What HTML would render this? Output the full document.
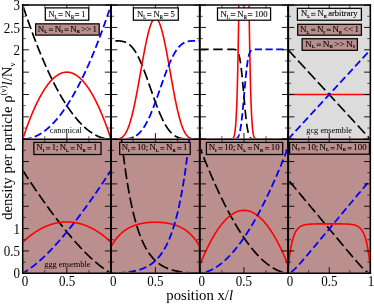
<!DOCTYPE html>
<html><head><meta charset="utf-8"><title>density plot</title><style>html,body{margin:0;padding:0;background:#fff}body{width:374px;height:304px;overflow:hidden}</style></head><body>
<svg width="374" height="304" viewBox="0 0 374 304" style="display:block;will-change:transform;font-family:'Liberation Serif',serif">
<rect width="374" height="304" fill="#fff"/>
<rect x="288.10" y="5.10" width="82.25" height="134.10" fill="#dcdcdc"/>
<rect x="22.70" y="139.20" width="347.65" height="134.10" fill="#bc8f8f"/>
<defs>
<clipPath id="c00"><rect x="23.60" y="5.85" width="86.50" height="132.35"/></clipPath>
<clipPath id="c01"><rect x="111.90" y="5.85" width="87.00" height="132.35"/></clipPath>
<clipPath id="c02"><rect x="200.70" y="5.85" width="86.50" height="132.35"/></clipPath>
<clipPath id="c03"><rect x="289.00" y="5.85" width="80.45" height="132.35"/></clipPath>
<clipPath id="c10"><rect x="23.60" y="139.95" width="86.50" height="132.35"/></clipPath>
<clipPath id="c11"><rect x="111.90" y="139.95" width="87.00" height="132.35"/></clipPath>
<clipPath id="c12"><rect x="200.70" y="139.95" width="86.50" height="132.35"/></clipPath>
<clipPath id="c13"><rect x="289.00" y="139.95" width="80.45" height="132.35"/></clipPath>
</defs>
<g clip-path="url(#c00)" fill="none">
<path d="M22.70 5.10 L22.92 5.77 L23.14 6.44 L23.36 7.10 L23.58 7.77 L23.80 8.43 L24.02 9.09 L24.25 9.75 L24.47 10.41 L24.69 11.07 L24.91 11.72 L25.13 12.37 L25.35 13.03 L25.57 13.67 L25.79 14.32 L26.01 14.97 L26.23 15.61 L26.45 16.26 L26.67 16.90 L26.89 17.54 L27.11 18.17 L27.34 18.81 L27.56 19.45 L27.78 20.08 L28.00 20.71 L28.22 21.34 L28.44 21.97 L28.66 22.59 L28.88 23.22 L29.10 23.84 L29.32 24.46 L29.54 25.08 L29.76 25.70 L29.98 26.31 L30.21 26.93 L30.43 27.54 L30.65 28.15 L30.87 28.76 L31.09 29.37 L31.31 29.97 L31.53 30.58 L31.75 31.18 L31.97 31.78 L32.19 32.38 L32.41 32.98 L32.63 33.58 L32.85 34.17 L33.08 34.76 L33.30 35.35 L33.52 35.94 L33.74 36.53 L33.96 37.12 L34.18 37.70 L34.40 38.28 L34.62 38.86 L34.84 39.44 L35.06 40.02 L35.28 40.60 L35.50 41.17 L35.72 41.74 L35.95 42.31 L36.17 42.88 L36.39 43.45 L36.61 44.01 L36.83 44.58 L37.05 45.14 L37.27 45.70 L37.49 46.26 L37.71 46.82 L37.93 47.37 L38.15 47.93 L38.37 48.48 L38.59 49.03 L38.81 49.58 L39.04 50.13 L39.26 50.67 L39.48 51.22 L39.70 51.76 L39.92 52.30 L40.14 52.84 L40.36 53.38 L40.58 53.91 L40.80 54.45 L41.02 54.98 L41.24 55.51 L41.46 56.04 L41.68 56.56 L41.91 57.09 L42.13 57.61 L42.35 58.14 L42.57 58.66 L42.79 59.17 L43.01 59.69 L43.23 60.21 L43.45 60.72 L43.67 61.23 L43.89 61.74 L44.11 62.25 L44.33 62.76 L44.55 63.27 L44.77 63.77 L45.00 64.27 L45.22 64.77 L45.44 65.27 L45.66 65.77 L45.88 66.26 L46.10 66.76 L46.32 67.25 L46.54 67.74 L46.76 68.23 L46.98 68.71 L47.20 69.20 L47.42 69.68 L47.64 70.16 L47.87 70.64 L48.09 71.12 L48.31 71.60 L48.53 72.08 L48.75 72.55 L48.97 73.02 L49.19 73.49 L49.41 73.96 L49.63 74.43 L49.85 74.89 L50.07 75.35 L50.29 75.82 L50.51 76.28 L50.74 76.74 L50.96 77.19 L51.18 77.65 L51.40 78.10 L51.62 78.55 L51.84 79.00 L52.06 79.45 L52.28 79.90 L52.50 80.34 L52.72 80.79 L52.94 81.23 L53.16 81.67 L53.38 82.11 L53.61 82.54 L53.83 82.98 L54.05 83.41 L54.27 83.84 L54.49 84.27 L54.71 84.70 L54.93 85.13 L55.15 85.55 L55.37 85.98 L55.59 86.40 L55.81 86.82 L56.03 87.24 L56.25 87.65 L56.47 88.07 L56.70 88.48 L56.92 88.89 L57.14 89.30 L57.36 89.71 L57.58 90.12 L57.80 90.52 L58.02 90.92 L58.24 91.33 L58.46 91.73 L58.68 92.12 L58.90 92.52 L59.12 92.91 L59.34 93.31 L59.57 93.70 L59.79 94.09 L60.01 94.48 L60.23 94.86 L60.45 95.25 L60.67 95.63 L60.89 96.01 L61.11 96.39 L61.33 96.77 L61.55 97.15 L61.77 97.52 L61.99 97.89 L62.21 98.27 L62.44 98.63 L62.66 99.00 L62.88 99.37 L63.10 99.73 L63.32 100.10 L63.54 100.46 L63.76 100.82 L63.98 101.18 L64.20 101.53 L64.42 101.89 L64.64 102.24 L64.86 102.59 L65.08 102.94 L65.30 103.29 L65.53 103.63 L65.75 103.98 L65.97 104.32 L66.19 104.66 L66.41 105.00 L66.63 105.34 L66.85 105.67 L67.07 106.01 L67.29 106.34 L67.51 106.67 L67.73 107.00 L67.95 107.33 L68.17 107.66 L68.40 107.98 L68.62 108.30 L68.84 108.62 L69.06 108.94 L69.28 109.26 L69.50 109.58 L69.72 109.89 L69.94 110.20 L70.16 110.52 L70.38 110.82 L70.60 111.13 L70.82 111.44 L71.04 111.74 L71.27 112.04 L71.49 112.35 L71.71 112.64 L71.93 112.94 L72.15 113.24 L72.37 113.53 L72.59 113.82 L72.81 114.12 L73.03 114.40 L73.25 114.69 L73.47 114.98 L73.69 115.26 L73.91 115.54 L74.13 115.83 L74.36 116.10 L74.58 116.38 L74.80 116.66 L75.02 116.93 L75.24 117.20 L75.46 117.47 L75.68 117.74 L75.90 118.01 L76.12 118.28 L76.34 118.54 L76.56 118.80 L76.78 119.06 L77.00 119.32 L77.23 119.58 L77.45 119.84 L77.67 120.09 L77.89 120.34 L78.11 120.59 L78.33 120.84 L78.55 121.09 L78.77 121.33 L78.99 121.58 L79.21 121.82 L79.43 122.06 L79.65 122.30 L79.87 122.54 L80.09 122.77 L80.32 123.01 L80.54 123.24 L80.76 123.47 L80.98 123.70 L81.20 123.93 L81.42 124.15 L81.64 124.37 L81.86 124.60 L82.08 124.82 L82.30 125.04 L82.52 125.25 L82.74 125.47 L82.96 125.68 L83.19 125.89 L83.41 126.10 L83.63 126.31 L83.85 126.52 L84.07 126.73 L84.29 126.93 L84.51 127.13 L84.73 127.33 L84.95 127.53 L85.17 127.73 L85.39 127.92 L85.61 128.12 L85.83 128.31 L86.06 128.50 L86.28 128.69 L86.50 128.87 L86.72 129.06 L86.94 129.24 L87.16 129.42 L87.38 129.60 L87.60 129.78 L87.82 129.96 L88.04 130.13 L88.26 130.31 L88.48 130.48 L88.70 130.65 L88.92 130.82 L89.15 130.99 L89.37 131.15 L89.59 131.31 L89.81 131.48 L90.03 131.64 L90.25 131.79 L90.47 131.95 L90.69 132.11 L90.91 132.26 L91.13 132.41 L91.35 132.56 L91.57 132.71 L91.79 132.86 L92.02 133.00 L92.24 133.14 L92.46 133.29 L92.68 133.43 L92.90 133.56 L93.12 133.70 L93.34 133.84 L93.56 133.97 L93.78 134.10 L94.00 134.23 L94.22 134.36 L94.44 134.49 L94.66 134.61 L94.89 134.73 L95.11 134.86 L95.33 134.98 L95.55 135.09 L95.77 135.21 L95.99 135.32 L96.21 135.44 L96.43 135.55 L96.65 135.66 L96.87 135.77 L97.09 135.87 L97.31 135.98 L97.53 136.08 L97.75 136.18 L97.98 136.28 L98.20 136.38 L98.42 136.48 L98.64 136.57 L98.86 136.66 L99.08 136.76 L99.30 136.85 L99.52 136.93 L99.74 137.02 L99.96 137.10 L100.18 137.19 L100.40 137.27 L100.62 137.35 L100.85 137.43 L101.07 137.50 L101.29 137.58 L101.51 137.65 L101.73 137.72 L101.95 137.79 L102.17 137.86 L102.39 137.93 L102.61 137.99 L102.83 138.05 L103.05 138.11 L103.27 138.17 L103.49 138.23 L103.72 138.29 L103.94 138.34 L104.16 138.39 L104.38 138.45 L104.60 138.50 L104.82 138.54 L105.04 138.59 L105.26 138.63 L105.48 138.68 L105.70 138.72 L105.92 138.76 L106.14 138.79 L106.36 138.83 L106.59 138.86 L106.81 138.90 L107.03 138.93 L107.25 138.96 L107.47 138.99 L107.69 139.01 L107.91 139.04 L108.13 139.06 L108.35 139.08 L108.57 139.10 L108.79 139.12 L109.01 139.13 L109.23 139.15 L109.45 139.16 L109.68 139.17 L109.90 139.18 L110.12 139.19 L110.34 139.19 L110.56 139.20 L110.78 139.20 L111.00 139.20" stroke="#000" stroke-width="1.70" stroke-dasharray="10 3.6" stroke-dashoffset="11.86"/>
<path d="M22.70 139.20 L22.92 138.53 L23.14 137.87 L23.36 137.20 L23.58 136.54 L23.80 135.89 L24.02 135.24 L24.25 134.59 L24.47 133.94 L24.69 133.30 L24.91 132.66 L25.13 132.03 L25.35 131.40 L25.57 130.77 L25.79 130.14 L26.01 129.52 L26.23 128.90 L26.45 128.29 L26.67 127.67 L26.89 127.07 L27.11 126.46 L27.34 125.86 L27.56 125.26 L27.78 124.67 L28.00 124.07 L28.22 123.49 L28.44 122.90 L28.66 122.32 L28.88 121.74 L29.10 121.17 L29.32 120.59 L29.54 120.03 L29.76 119.46 L29.98 118.90 L30.21 118.34 L30.43 117.79 L30.65 117.23 L30.87 116.69 L31.09 116.14 L31.31 115.60 L31.53 115.06 L31.75 114.53 L31.97 114.00 L32.19 113.47 L32.41 112.94 L32.63 112.42 L32.85 111.90 L33.08 111.39 L33.30 110.88 L33.52 110.37 L33.74 109.87 L33.96 109.36 L34.18 108.87 L34.40 108.37 L34.62 107.88 L34.84 107.39 L35.06 106.91 L35.28 106.43 L35.50 105.95 L35.72 105.48 L35.95 105.00 L36.17 104.54 L36.39 104.07 L36.61 103.61 L36.83 103.15 L37.05 102.70 L37.27 102.25 L37.49 101.80 L37.71 101.36 L37.93 100.92 L38.15 100.48 L38.37 100.04 L38.59 99.61 L38.81 99.19 L39.04 98.76 L39.26 98.34 L39.48 97.92 L39.70 97.51 L39.92 97.10 L40.14 96.69 L40.36 96.29 L40.58 95.89 L40.80 95.49 L41.02 95.10 L41.24 94.71 L41.46 94.32 L41.68 93.93 L41.91 93.55 L42.13 93.18 L42.35 92.80 L42.57 92.43 L42.79 92.07 L43.01 91.70 L43.23 91.34 L43.45 90.98 L43.67 90.63 L43.89 90.28 L44.11 89.93 L44.33 89.59 L44.55 89.25 L44.77 88.91 L45.00 88.58 L45.22 88.25 L45.44 87.92 L45.66 87.60 L45.88 87.28 L46.10 86.96 L46.32 86.65 L46.54 86.34 L46.76 86.03 L46.98 85.73 L47.20 85.43 L47.42 85.13 L47.64 84.84 L47.87 84.55 L48.09 84.26 L48.31 83.98 L48.53 83.70 L48.75 83.42 L48.97 83.15 L49.19 82.88 L49.41 82.61 L49.63 82.35 L49.85 82.09 L50.07 81.83 L50.29 81.58 L50.51 81.33 L50.74 81.08 L50.96 80.84 L51.18 80.60 L51.40 80.36 L51.62 80.13 L51.84 79.90 L52.06 79.67 L52.28 79.45 L52.50 79.23 L52.72 79.02 L52.94 78.80 L53.16 78.59 L53.38 78.39 L53.61 78.18 L53.83 77.99 L54.05 77.79 L54.27 77.60 L54.49 77.41 L54.71 77.22 L54.93 77.04 L55.15 76.86 L55.37 76.68 L55.59 76.51 L55.81 76.34 L56.03 76.17 L56.25 76.01 L56.47 75.85 L56.70 75.70 L56.92 75.54 L57.14 75.40 L57.36 75.25 L57.58 75.11 L57.80 74.97 L58.02 74.83 L58.24 74.70 L58.46 74.57 L58.68 74.44 L58.90 74.32 L59.12 74.20 L59.34 74.09 L59.57 73.98 L59.79 73.87 L60.01 73.76 L60.23 73.66 L60.45 73.56 L60.67 73.46 L60.89 73.37 L61.11 73.28 L61.33 73.20 L61.55 73.12 L61.77 73.04 L61.99 72.96 L62.21 72.89 L62.44 72.82 L62.66 72.76 L62.88 72.69 L63.10 72.63 L63.32 72.58 L63.54 72.53 L63.76 72.48 L63.98 72.43 L64.20 72.39 L64.42 72.35 L64.64 72.32 L64.86 72.29 L65.08 72.26 L65.30 72.23 L65.53 72.21 L65.75 72.19 L65.97 72.18 L66.19 72.17 L66.41 72.16 L66.63 72.15 L66.85 72.15 L67.07 72.15 L67.29 72.16 L67.51 72.17 L67.73 72.18 L67.95 72.19 L68.17 72.21 L68.40 72.23 L68.62 72.26 L68.84 72.29 L69.06 72.32 L69.28 72.35 L69.50 72.39 L69.72 72.43 L69.94 72.48 L70.16 72.53 L70.38 72.58 L70.60 72.63 L70.82 72.69 L71.04 72.76 L71.27 72.82 L71.49 72.89 L71.71 72.96 L71.93 73.04 L72.15 73.12 L72.37 73.20 L72.59 73.28 L72.81 73.37 L73.03 73.46 L73.25 73.56 L73.47 73.66 L73.69 73.76 L73.91 73.87 L74.13 73.98 L74.36 74.09 L74.58 74.20 L74.80 74.32 L75.02 74.44 L75.24 74.57 L75.46 74.70 L75.68 74.83 L75.90 74.97 L76.12 75.11 L76.34 75.25 L76.56 75.40 L76.78 75.54 L77.00 75.70 L77.23 75.85 L77.45 76.01 L77.67 76.17 L77.89 76.34 L78.11 76.51 L78.33 76.68 L78.55 76.86 L78.77 77.04 L78.99 77.22 L79.21 77.41 L79.43 77.60 L79.65 77.79 L79.87 77.99 L80.09 78.18 L80.32 78.39 L80.54 78.59 L80.76 78.80 L80.98 79.02 L81.20 79.23 L81.42 79.45 L81.64 79.67 L81.86 79.90 L82.08 80.13 L82.30 80.36 L82.52 80.60 L82.74 80.84 L82.96 81.08 L83.19 81.33 L83.41 81.58 L83.63 81.83 L83.85 82.09 L84.07 82.35 L84.29 82.61 L84.51 82.88 L84.73 83.15 L84.95 83.42 L85.17 83.70 L85.39 83.98 L85.61 84.26 L85.83 84.55 L86.06 84.84 L86.28 85.13 L86.50 85.43 L86.72 85.73 L86.94 86.03 L87.16 86.34 L87.38 86.65 L87.60 86.96 L87.82 87.28 L88.04 87.60 L88.26 87.92 L88.48 88.25 L88.70 88.58 L88.92 88.91 L89.15 89.25 L89.37 89.59 L89.59 89.93 L89.81 90.28 L90.03 90.63 L90.25 90.98 L90.47 91.34 L90.69 91.70 L90.91 92.07 L91.13 92.43 L91.35 92.80 L91.57 93.18 L91.79 93.55 L92.02 93.93 L92.24 94.32 L92.46 94.71 L92.68 95.10 L92.90 95.49 L93.12 95.89 L93.34 96.29 L93.56 96.69 L93.78 97.10 L94.00 97.51 L94.22 97.92 L94.44 98.34 L94.66 98.76 L94.89 99.19 L95.11 99.61 L95.33 100.04 L95.55 100.48 L95.77 100.92 L95.99 101.36 L96.21 101.80 L96.43 102.25 L96.65 102.70 L96.87 103.15 L97.09 103.61 L97.31 104.07 L97.53 104.54 L97.75 105.00 L97.98 105.48 L98.20 105.95 L98.42 106.43 L98.64 106.91 L98.86 107.39 L99.08 107.88 L99.30 108.37 L99.52 108.87 L99.74 109.36 L99.96 109.87 L100.18 110.37 L100.40 110.88 L100.62 111.39 L100.85 111.90 L101.07 112.42 L101.29 112.94 L101.51 113.47 L101.73 114.00 L101.95 114.53 L102.17 115.06 L102.39 115.60 L102.61 116.14 L102.83 116.69 L103.05 117.23 L103.27 117.79 L103.49 118.34 L103.72 118.90 L103.94 119.46 L104.16 120.03 L104.38 120.59 L104.60 121.17 L104.82 121.74 L105.04 122.32 L105.26 122.90 L105.48 123.49 L105.70 124.07 L105.92 124.67 L106.14 125.26 L106.36 125.86 L106.59 126.46 L106.81 127.07 L107.03 127.67 L107.25 128.29 L107.47 128.90 L107.69 129.52 L107.91 130.14 L108.13 130.77 L108.35 131.40 L108.57 132.03 L108.79 132.66 L109.01 133.30 L109.23 133.94 L109.45 134.59 L109.68 135.24 L109.90 135.89 L110.12 136.54 L110.34 137.20 L110.56 137.87 L110.78 138.53 L111.00 139.20" stroke="#ff0000" stroke-width="1.60"/>
<path d="M22.70 139.20 L22.92 139.20 L23.14 139.20 L23.36 139.19 L23.58 139.19 L23.80 139.18 L24.02 139.17 L24.25 139.16 L24.47 139.15 L24.69 139.13 L24.91 139.12 L25.13 139.10 L25.35 139.08 L25.57 139.06 L25.79 139.04 L26.01 139.01 L26.23 138.99 L26.45 138.96 L26.67 138.93 L26.89 138.90 L27.11 138.86 L27.34 138.83 L27.56 138.79 L27.78 138.76 L28.00 138.72 L28.22 138.68 L28.44 138.63 L28.66 138.59 L28.88 138.54 L29.10 138.50 L29.32 138.45 L29.54 138.39 L29.76 138.34 L29.98 138.29 L30.21 138.23 L30.43 138.17 L30.65 138.11 L30.87 138.05 L31.09 137.99 L31.31 137.93 L31.53 137.86 L31.75 137.79 L31.97 137.72 L32.19 137.65 L32.41 137.58 L32.63 137.50 L32.85 137.43 L33.08 137.35 L33.30 137.27 L33.52 137.19 L33.74 137.10 L33.96 137.02 L34.18 136.93 L34.40 136.85 L34.62 136.76 L34.84 136.66 L35.06 136.57 L35.28 136.48 L35.50 136.38 L35.72 136.28 L35.95 136.18 L36.17 136.08 L36.39 135.98 L36.61 135.87 L36.83 135.77 L37.05 135.66 L37.27 135.55 L37.49 135.44 L37.71 135.32 L37.93 135.21 L38.15 135.09 L38.37 134.98 L38.59 134.86 L38.81 134.73 L39.04 134.61 L39.26 134.49 L39.48 134.36 L39.70 134.23 L39.92 134.10 L40.14 133.97 L40.36 133.84 L40.58 133.70 L40.80 133.56 L41.02 133.43 L41.24 133.29 L41.46 133.14 L41.68 133.00 L41.91 132.86 L42.13 132.71 L42.35 132.56 L42.57 132.41 L42.79 132.26 L43.01 132.11 L43.23 131.95 L43.45 131.79 L43.67 131.64 L43.89 131.48 L44.11 131.31 L44.33 131.15 L44.55 130.99 L44.77 130.82 L45.00 130.65 L45.22 130.48 L45.44 130.31 L45.66 130.13 L45.88 129.96 L46.10 129.78 L46.32 129.60 L46.54 129.42 L46.76 129.24 L46.98 129.06 L47.20 128.87 L47.42 128.69 L47.64 128.50 L47.87 128.31 L48.09 128.12 L48.31 127.92 L48.53 127.73 L48.75 127.53 L48.97 127.33 L49.19 127.13 L49.41 126.93 L49.63 126.73 L49.85 126.52 L50.07 126.31 L50.29 126.10 L50.51 125.89 L50.74 125.68 L50.96 125.47 L51.18 125.25 L51.40 125.04 L51.62 124.82 L51.84 124.60 L52.06 124.37 L52.28 124.15 L52.50 123.93 L52.72 123.70 L52.94 123.47 L53.16 123.24 L53.38 123.01 L53.61 122.77 L53.83 122.54 L54.05 122.30 L54.27 122.06 L54.49 121.82 L54.71 121.58 L54.93 121.33 L55.15 121.09 L55.37 120.84 L55.59 120.59 L55.81 120.34 L56.03 120.09 L56.25 119.84 L56.47 119.58 L56.70 119.32 L56.92 119.06 L57.14 118.80 L57.36 118.54 L57.58 118.28 L57.80 118.01 L58.02 117.74 L58.24 117.47 L58.46 117.20 L58.68 116.93 L58.90 116.66 L59.12 116.38 L59.34 116.10 L59.57 115.83 L59.79 115.54 L60.01 115.26 L60.23 114.98 L60.45 114.69 L60.67 114.40 L60.89 114.12 L61.11 113.82 L61.33 113.53 L61.55 113.24 L61.77 112.94 L61.99 112.64 L62.21 112.35 L62.44 112.04 L62.66 111.74 L62.88 111.44 L63.10 111.13 L63.32 110.82 L63.54 110.52 L63.76 110.20 L63.98 109.89 L64.20 109.58 L64.42 109.26 L64.64 108.94 L64.86 108.62 L65.08 108.30 L65.30 107.98 L65.53 107.66 L65.75 107.33 L65.97 107.00 L66.19 106.67 L66.41 106.34 L66.63 106.01 L66.85 105.67 L67.07 105.34 L67.29 105.00 L67.51 104.66 L67.73 104.32 L67.95 103.98 L68.17 103.63 L68.40 103.29 L68.62 102.94 L68.84 102.59 L69.06 102.24 L69.28 101.89 L69.50 101.53 L69.72 101.18 L69.94 100.82 L70.16 100.46 L70.38 100.10 L70.60 99.73 L70.82 99.37 L71.04 99.00 L71.27 98.63 L71.49 98.27 L71.71 97.89 L71.93 97.52 L72.15 97.15 L72.37 96.77 L72.59 96.39 L72.81 96.01 L73.03 95.63 L73.25 95.25 L73.47 94.86 L73.69 94.48 L73.91 94.09 L74.13 93.70 L74.36 93.31 L74.58 92.91 L74.80 92.52 L75.02 92.12 L75.24 91.73 L75.46 91.33 L75.68 90.92 L75.90 90.52 L76.12 90.12 L76.34 89.71 L76.56 89.30 L76.78 88.89 L77.00 88.48 L77.23 88.07 L77.45 87.65 L77.67 87.24 L77.89 86.82 L78.11 86.40 L78.33 85.98 L78.55 85.55 L78.77 85.13 L78.99 84.70 L79.21 84.27 L79.43 83.84 L79.65 83.41 L79.87 82.98 L80.09 82.54 L80.32 82.11 L80.54 81.67 L80.76 81.23 L80.98 80.79 L81.20 80.34 L81.42 79.90 L81.64 79.45 L81.86 79.00 L82.08 78.55 L82.30 78.10 L82.52 77.65 L82.74 77.19 L82.96 76.74 L83.19 76.28 L83.41 75.82 L83.63 75.35 L83.85 74.89 L84.07 74.43 L84.29 73.96 L84.51 73.49 L84.73 73.02 L84.95 72.55 L85.17 72.08 L85.39 71.60 L85.61 71.12 L85.83 70.64 L86.06 70.16 L86.28 69.68 L86.50 69.20 L86.72 68.71 L86.94 68.23 L87.16 67.74 L87.38 67.25 L87.60 66.76 L87.82 66.26 L88.04 65.77 L88.26 65.27 L88.48 64.77 L88.70 64.27 L88.92 63.77 L89.15 63.27 L89.37 62.76 L89.59 62.25 L89.81 61.74 L90.03 61.23 L90.25 60.72 L90.47 60.21 L90.69 59.69 L90.91 59.17 L91.13 58.66 L91.35 58.14 L91.57 57.61 L91.79 57.09 L92.02 56.56 L92.24 56.04 L92.46 55.51 L92.68 54.98 L92.90 54.45 L93.12 53.91 L93.34 53.38 L93.56 52.84 L93.78 52.30 L94.00 51.76 L94.22 51.22 L94.44 50.67 L94.66 50.13 L94.89 49.58 L95.11 49.03 L95.33 48.48 L95.55 47.93 L95.77 47.37 L95.99 46.82 L96.21 46.26 L96.43 45.70 L96.65 45.14 L96.87 44.58 L97.09 44.01 L97.31 43.45 L97.53 42.88 L97.75 42.31 L97.98 41.74 L98.20 41.17 L98.42 40.60 L98.64 40.02 L98.86 39.44 L99.08 38.86 L99.30 38.28 L99.52 37.70 L99.74 37.12 L99.96 36.53 L100.18 35.94 L100.40 35.35 L100.62 34.76 L100.85 34.17 L101.07 33.58 L101.29 32.98 L101.51 32.38 L101.73 31.78 L101.95 31.18 L102.17 30.58 L102.39 29.97 L102.61 29.37 L102.83 28.76 L103.05 28.15 L103.27 27.54 L103.49 26.93 L103.72 26.31 L103.94 25.70 L104.16 25.08 L104.38 24.46 L104.60 23.84 L104.82 23.22 L105.04 22.59 L105.26 21.97 L105.48 21.34 L105.70 20.71 L105.92 20.08 L106.14 19.45 L106.36 18.81 L106.59 18.17 L106.81 17.54 L107.03 16.90 L107.25 16.26 L107.47 15.61 L107.69 14.97 L107.91 14.32 L108.13 13.67 L108.35 13.03 L108.57 12.37 L108.79 11.72 L109.01 11.07 L109.23 10.41 L109.45 9.75 L109.68 9.09 L109.90 8.43 L110.12 7.77 L110.34 7.10 L110.56 6.44 L110.78 5.77 L111.00 5.10" stroke="#0000ff" stroke-width="1.80" stroke-dasharray="7.5 3.5" stroke-dashoffset="9.56"/>
</g>
<g clip-path="url(#c01)" fill="none">
<path d="M111.00 40.86 L111.22 40.86 L111.44 40.86 L111.67 40.86 L111.89 40.86 L112.11 40.86 L112.33 40.86 L112.55 40.86 L112.78 40.86 L113.00 40.86 L113.22 40.86 L113.44 40.86 L113.66 40.86 L113.89 40.86 L114.11 40.86 L114.33 40.86 L114.55 40.86 L114.77 40.86 L115.00 40.86 L115.22 40.86 L115.44 40.87 L115.66 40.87 L115.88 40.87 L116.11 40.87 L116.33 40.87 L116.55 40.88 L116.77 40.88 L116.99 40.89 L117.22 40.89 L117.44 40.90 L117.66 40.90 L117.88 40.91 L118.10 40.92 L118.33 40.93 L118.55 40.94 L118.77 40.95 L118.99 40.96 L119.21 40.97 L119.44 40.99 L119.66 41.00 L119.88 41.02 L120.10 41.04 L120.32 41.06 L120.55 41.08 L120.77 41.11 L120.99 41.13 L121.21 41.16 L121.43 41.19 L121.66 41.23 L121.88 41.26 L122.10 41.30 L122.32 41.34 L122.54 41.38 L122.77 41.43 L122.99 41.47 L123.21 41.53 L123.43 41.58 L123.65 41.64 L123.88 41.70 L124.10 41.76 L124.32 41.83 L124.54 41.90 L124.76 41.98 L124.99 42.06 L125.21 42.14 L125.43 42.23 L125.65 42.32 L125.87 42.41 L126.10 42.51 L126.32 42.62 L126.54 42.73 L126.76 42.84 L126.98 42.96 L127.21 43.08 L127.43 43.21 L127.65 43.34 L127.87 43.48 L128.09 43.62 L128.32 43.77 L128.54 43.93 L128.76 44.08 L128.98 44.25 L129.20 44.42 L129.43 44.60 L129.65 44.78 L129.87 44.97 L130.09 45.16 L130.31 45.36 L130.54 45.57 L130.76 45.78 L130.98 46.00 L131.20 46.23 L131.42 46.46 L131.65 46.70 L131.87 46.94 L132.09 47.19 L132.31 47.45 L132.53 47.71 L132.76 47.98 L132.98 48.26 L133.20 48.54 L133.42 48.83 L133.64 49.13 L133.87 49.43 L134.09 49.75 L134.31 50.06 L134.53 50.39 L134.75 50.72 L134.98 51.06 L135.20 51.40 L135.42 51.75 L135.64 52.11 L135.86 52.48 L136.09 52.85 L136.31 53.23 L136.53 53.61 L136.75 54.00 L136.97 54.40 L137.20 54.81 L137.42 55.22 L137.64 55.64 L137.86 56.06 L138.08 56.49 L138.31 56.93 L138.53 57.38 L138.75 57.83 L138.97 58.28 L139.19 58.75 L139.42 59.22 L139.64 59.69 L139.86 60.17 L140.08 60.66 L140.30 61.15 L140.53 61.65 L140.75 62.16 L140.97 62.67 L141.19 63.18 L141.41 63.70 L141.64 64.23 L141.86 64.76 L142.08 65.30 L142.30 65.84 L142.52 66.39 L142.75 66.94 L142.97 67.49 L143.19 68.06 L143.41 68.62 L143.63 69.19 L143.86 69.76 L144.08 70.34 L144.30 70.93 L144.52 71.51 L144.74 72.10 L144.97 72.69 L145.19 73.29 L145.41 73.89 L145.63 74.50 L145.85 75.10 L146.08 75.71 L146.30 76.33 L146.52 76.94 L146.74 77.56 L146.96 78.18 L147.19 78.80 L147.41 79.43 L147.63 80.05 L147.85 80.68 L148.07 81.31 L148.30 81.94 L148.52 82.58 L148.74 83.21 L148.96 83.85 L149.18 84.48 L149.41 85.12 L149.63 85.76 L149.85 86.40 L150.07 87.04 L150.29 87.68 L150.52 88.32 L150.74 88.96 L150.96 89.60 L151.18 90.24 L151.40 90.87 L151.63 91.51 L151.85 92.15 L152.07 92.79 L152.29 93.42 L152.51 94.06 L152.74 94.69 L152.96 95.32 L153.18 95.95 L153.40 96.58 L153.62 97.20 L153.85 97.83 L154.07 98.45 L154.29 99.07 L154.51 99.69 L154.73 100.30 L154.96 100.91 L155.18 101.52 L155.40 102.13 L155.62 102.73 L155.84 103.33 L156.07 103.93 L156.29 104.53 L156.51 105.12 L156.73 105.70 L156.95 106.28 L157.18 106.86 L157.40 107.44 L157.62 108.01 L157.84 108.58 L158.06 109.14 L158.29 109.70 L158.51 110.25 L158.73 110.80 L158.95 111.35 L159.17 111.89 L159.40 112.42 L159.62 112.95 L159.84 113.48 L160.06 114.00 L160.28 114.51 L160.51 115.02 L160.73 115.53 L160.95 116.03 L161.17 116.52 L161.39 117.01 L161.62 117.50 L161.84 117.97 L162.06 118.45 L162.28 118.91 L162.50 119.37 L162.73 119.83 L162.95 120.28 L163.17 120.72 L163.39 121.16 L163.61 121.59 L163.84 122.02 L164.06 122.44 L164.28 122.85 L164.50 123.26 L164.72 123.66 L164.95 124.06 L165.17 124.45 L165.39 124.83 L165.61 125.21 L165.83 125.58 L166.06 125.95 L166.28 126.31 L166.50 126.66 L166.72 127.01 L166.94 127.35 L167.17 127.69 L167.39 128.01 L167.61 128.34 L167.83 128.65 L168.05 128.97 L168.28 129.27 L168.50 129.57 L168.72 129.86 L168.94 130.15 L169.16 130.43 L169.39 130.71 L169.61 130.98 L169.83 131.24 L170.05 131.50 L170.27 131.75 L170.50 132.00 L170.72 132.24 L170.94 132.48 L171.16 132.71 L171.38 132.93 L171.61 133.15 L171.83 133.37 L172.05 133.58 L172.27 133.78 L172.49 133.98 L172.72 134.17 L172.94 134.36 L173.16 134.54 L173.38 134.72 L173.60 134.90 L173.83 135.06 L174.05 135.23 L174.27 135.39 L174.49 135.54 L174.71 135.69 L174.94 135.84 L175.16 135.98 L175.38 136.11 L175.60 136.25 L175.82 136.38 L176.05 136.50 L176.27 136.62 L176.49 136.74 L176.71 136.85 L176.93 136.96 L177.16 137.06 L177.38 137.16 L177.60 137.26 L177.82 137.35 L178.04 137.44 L178.27 137.53 L178.49 137.62 L178.71 137.70 L178.93 137.77 L179.15 137.85 L179.38 137.92 L179.60 137.99 L179.82 138.05 L180.04 138.12 L180.26 138.18 L180.49 138.24 L180.71 138.29 L180.93 138.34 L181.15 138.39 L181.37 138.44 L181.60 138.49 L181.82 138.53 L182.04 138.57 L182.26 138.61 L182.48 138.65 L182.71 138.69 L182.93 138.72 L183.15 138.75 L183.37 138.78 L183.59 138.81 L183.82 138.84 L184.04 138.86 L184.26 138.89 L184.48 138.91 L184.70 138.93 L184.93 138.95 L185.15 138.97 L185.37 138.99 L185.59 139.01 L185.81 139.02 L186.04 139.04 L186.26 139.05 L186.48 139.06 L186.70 139.08 L186.92 139.09 L187.15 139.10 L187.37 139.11 L187.59 139.12 L187.81 139.12 L188.03 139.13 L188.26 139.14 L188.48 139.14 L188.70 139.15 L188.92 139.16 L189.14 139.16 L189.37 139.16 L189.59 139.17 L189.81 139.17 L190.03 139.18 L190.25 139.18 L190.48 139.18 L190.70 139.18 L190.92 139.19 L191.14 139.19 L191.36 139.19 L191.59 139.19 L191.81 139.19 L192.03 139.19 L192.25 139.19 L192.47 139.20 L192.70 139.20 L192.92 139.20 L193.14 139.20 L193.36 139.20 L193.58 139.20 L193.81 139.20 L194.03 139.20 L194.25 139.20 L194.47 139.20 L194.69 139.20 L194.92 139.20 L195.14 139.20 L195.36 139.20 L195.58 139.20 L195.80 139.20 L196.03 139.20 L196.25 139.20 L196.47 139.20 L196.69 139.20 L196.91 139.20 L197.14 139.20 L197.36 139.20 L197.58 139.20 L197.80 139.20 L198.02 139.20 L198.25 139.20 L198.47 139.20 L198.69 139.20 L198.91 139.20 L199.13 139.20 L199.36 139.20 L199.58 139.20 L199.80 139.20" stroke="#000" stroke-width="1.70" stroke-dasharray="10.8 3.9" stroke-dashoffset="10.29"/>
<path d="M111.00 139.20 L111.22 139.20 L111.44 139.20 L111.67 139.20 L111.89 139.20 L112.11 139.20 L112.33 139.20 L112.55 139.20 L112.78 139.20 L113.00 139.20 L113.22 139.20 L113.44 139.20 L113.66 139.20 L113.89 139.20 L114.11 139.19 L114.33 139.19 L114.55 139.19 L114.77 139.19 L115.00 139.18 L115.22 139.18 L115.44 139.17 L115.66 139.16 L115.88 139.15 L116.11 139.14 L116.33 139.13 L116.55 139.11 L116.77 139.10 L116.99 139.08 L117.22 139.06 L117.44 139.03 L117.66 139.00 L117.88 138.97 L118.10 138.93 L118.33 138.89 L118.55 138.85 L118.77 138.80 L118.99 138.74 L119.21 138.68 L119.44 138.62 L119.66 138.55 L119.88 138.47 L120.10 138.38 L120.32 138.29 L120.55 138.19 L120.77 138.09 L120.99 137.97 L121.21 137.85 L121.43 137.71 L121.66 137.57 L121.88 137.42 L122.10 137.26 L122.32 137.09 L122.54 136.91 L122.77 136.71 L122.99 136.51 L123.21 136.29 L123.43 136.07 L123.65 135.82 L123.88 135.57 L124.10 135.30 L124.32 135.03 L124.54 134.73 L124.76 134.42 L124.99 134.10 L125.21 133.77 L125.43 133.42 L125.65 133.05 L125.87 132.67 L126.10 132.27 L126.32 131.86 L126.54 131.43 L126.76 130.98 L126.98 130.52 L127.21 130.04 L127.43 129.55 L127.65 129.03 L127.87 128.50 L128.09 127.95 L128.32 127.39 L128.54 126.81 L128.76 126.21 L128.98 125.59 L129.20 124.95 L129.43 124.30 L129.65 123.63 L129.87 122.94 L130.09 122.23 L130.31 121.51 L130.54 120.76 L130.76 120.00 L130.98 119.22 L131.20 118.43 L131.42 117.61 L131.65 116.78 L131.87 115.93 L132.09 115.07 L132.31 114.18 L132.53 113.28 L132.76 112.37 L132.98 111.43 L133.20 110.49 L133.42 109.52 L133.64 108.54 L133.87 107.54 L134.09 106.53 L134.31 105.51 L134.53 104.47 L134.75 103.41 L134.98 102.34 L135.20 101.26 L135.42 100.16 L135.64 99.06 L135.86 97.94 L136.09 96.81 L136.31 95.66 L136.53 94.51 L136.75 93.35 L136.97 92.17 L137.20 90.99 L137.42 89.80 L137.64 88.59 L137.86 87.39 L138.08 86.17 L138.31 84.95 L138.53 83.72 L138.75 82.48 L138.97 81.24 L139.19 80.00 L139.42 78.75 L139.64 77.50 L139.86 76.24 L140.08 74.99 L140.30 73.73 L140.53 72.47 L140.75 71.21 L140.97 69.95 L141.19 68.70 L141.41 67.44 L141.64 66.19 L141.86 64.94 L142.08 63.69 L142.30 62.45 L142.52 61.21 L142.75 59.98 L142.97 58.75 L143.19 57.53 L143.41 56.32 L143.63 55.12 L143.86 53.93 L144.08 52.74 L144.30 51.57 L144.52 50.41 L144.74 49.25 L144.97 48.12 L145.19 46.99 L145.41 45.88 L145.63 44.78 L145.85 43.69 L146.08 42.63 L146.30 41.57 L146.52 40.54 L146.74 39.52 L146.96 38.52 L147.19 37.53 L147.41 36.57 L147.63 35.62 L147.85 34.70 L148.07 33.79 L148.30 32.91 L148.52 32.05 L148.74 31.21 L148.96 30.39 L149.18 29.60 L149.41 28.83 L149.63 28.08 L149.85 27.36 L150.07 26.66 L150.29 25.99 L150.52 25.34 L150.74 24.72 L150.96 24.13 L151.18 23.56 L151.40 23.02 L151.63 22.50 L151.85 22.02 L152.07 21.56 L152.29 21.13 L152.51 20.73 L152.74 20.36 L152.96 20.01 L153.18 19.70 L153.40 19.42 L153.62 19.16 L153.85 18.94 L154.07 18.74 L154.29 18.57 L154.51 18.44 L154.73 18.33 L154.96 18.26 L155.18 18.21 L155.40 18.20 L155.62 18.21 L155.84 18.26 L156.07 18.33 L156.29 18.44 L156.51 18.57 L156.73 18.74 L156.95 18.94 L157.18 19.16 L157.40 19.42 L157.62 19.70 L157.84 20.01 L158.06 20.36 L158.29 20.73 L158.51 21.13 L158.73 21.56 L158.95 22.02 L159.17 22.50 L159.40 23.02 L159.62 23.56 L159.84 24.13 L160.06 24.72 L160.28 25.34 L160.51 25.99 L160.73 26.66 L160.95 27.36 L161.17 28.08 L161.39 28.83 L161.62 29.60 L161.84 30.39 L162.06 31.21 L162.28 32.05 L162.50 32.91 L162.73 33.79 L162.95 34.70 L163.17 35.62 L163.39 36.57 L163.61 37.53 L163.84 38.52 L164.06 39.52 L164.28 40.54 L164.50 41.57 L164.72 42.63 L164.95 43.69 L165.17 44.78 L165.39 45.88 L165.61 46.99 L165.83 48.12 L166.06 49.25 L166.28 50.41 L166.50 51.57 L166.72 52.74 L166.94 53.93 L167.17 55.12 L167.39 56.32 L167.61 57.53 L167.83 58.75 L168.05 59.98 L168.28 61.21 L168.50 62.45 L168.72 63.69 L168.94 64.94 L169.16 66.19 L169.39 67.44 L169.61 68.70 L169.83 69.95 L170.05 71.21 L170.27 72.47 L170.50 73.73 L170.72 74.99 L170.94 76.24 L171.16 77.50 L171.38 78.75 L171.61 80.00 L171.83 81.24 L172.05 82.48 L172.27 83.72 L172.49 84.95 L172.72 86.17 L172.94 87.39 L173.16 88.59 L173.38 89.80 L173.60 90.99 L173.83 92.17 L174.05 93.35 L174.27 94.51 L174.49 95.66 L174.71 96.81 L174.94 97.94 L175.16 99.06 L175.38 100.16 L175.60 101.26 L175.82 102.34 L176.05 103.41 L176.27 104.47 L176.49 105.51 L176.71 106.53 L176.93 107.54 L177.16 108.54 L177.38 109.52 L177.60 110.49 L177.82 111.43 L178.04 112.37 L178.27 113.28 L178.49 114.18 L178.71 115.07 L178.93 115.93 L179.15 116.78 L179.38 117.61 L179.60 118.43 L179.82 119.22 L180.04 120.00 L180.26 120.76 L180.49 121.51 L180.71 122.23 L180.93 122.94 L181.15 123.63 L181.37 124.30 L181.60 124.95 L181.82 125.59 L182.04 126.21 L182.26 126.81 L182.48 127.39 L182.71 127.95 L182.93 128.50 L183.15 129.03 L183.37 129.55 L183.59 130.04 L183.82 130.52 L184.04 130.98 L184.26 131.43 L184.48 131.86 L184.70 132.27 L184.93 132.67 L185.15 133.05 L185.37 133.42 L185.59 133.77 L185.81 134.10 L186.04 134.42 L186.26 134.73 L186.48 135.03 L186.70 135.30 L186.92 135.57 L187.15 135.82 L187.37 136.07 L187.59 136.29 L187.81 136.51 L188.03 136.71 L188.26 136.91 L188.48 137.09 L188.70 137.26 L188.92 137.42 L189.14 137.57 L189.37 137.71 L189.59 137.85 L189.81 137.97 L190.03 138.09 L190.25 138.19 L190.48 138.29 L190.70 138.38 L190.92 138.47 L191.14 138.55 L191.36 138.62 L191.59 138.68 L191.81 138.74 L192.03 138.80 L192.25 138.85 L192.47 138.89 L192.70 138.93 L192.92 138.97 L193.14 139.00 L193.36 139.03 L193.58 139.06 L193.81 139.08 L194.03 139.10 L194.25 139.11 L194.47 139.13 L194.69 139.14 L194.92 139.15 L195.14 139.16 L195.36 139.17 L195.58 139.18 L195.80 139.18 L196.03 139.19 L196.25 139.19 L196.47 139.19 L196.69 139.19 L196.91 139.20 L197.14 139.20 L197.36 139.20 L197.58 139.20 L197.80 139.20 L198.02 139.20 L198.25 139.20 L198.47 139.20 L198.69 139.20 L198.91 139.20 L199.13 139.20 L199.36 139.20 L199.58 139.20 L199.80 139.20" stroke="#ff0000" stroke-width="1.60"/>
<path d="M111.00 139.20 L111.22 139.20 L111.44 139.20 L111.67 139.20 L111.89 139.20 L112.11 139.20 L112.33 139.20 L112.55 139.20 L112.78 139.20 L113.00 139.20 L113.22 139.20 L113.44 139.20 L113.66 139.20 L113.89 139.20 L114.11 139.20 L114.33 139.20 L114.55 139.20 L114.77 139.20 L115.00 139.20 L115.22 139.20 L115.44 139.20 L115.66 139.20 L115.88 139.20 L116.11 139.20 L116.33 139.20 L116.55 139.20 L116.77 139.20 L116.99 139.20 L117.22 139.20 L117.44 139.20 L117.66 139.20 L117.88 139.20 L118.10 139.20 L118.33 139.20 L118.55 139.19 L118.77 139.19 L118.99 139.19 L119.21 139.19 L119.44 139.19 L119.66 139.19 L119.88 139.19 L120.10 139.18 L120.32 139.18 L120.55 139.18 L120.77 139.18 L120.99 139.17 L121.21 139.17 L121.43 139.16 L121.66 139.16 L121.88 139.16 L122.10 139.15 L122.32 139.14 L122.54 139.14 L122.77 139.13 L122.99 139.12 L123.21 139.12 L123.43 139.11 L123.65 139.10 L123.88 139.09 L124.10 139.08 L124.32 139.06 L124.54 139.05 L124.76 139.04 L124.99 139.02 L125.21 139.01 L125.43 138.99 L125.65 138.97 L125.87 138.95 L126.10 138.93 L126.32 138.91 L126.54 138.89 L126.76 138.86 L126.98 138.84 L127.21 138.81 L127.43 138.78 L127.65 138.75 L127.87 138.72 L128.09 138.69 L128.32 138.65 L128.54 138.61 L128.76 138.57 L128.98 138.53 L129.20 138.49 L129.43 138.44 L129.65 138.39 L129.87 138.34 L130.09 138.29 L130.31 138.24 L130.54 138.18 L130.76 138.12 L130.98 138.05 L131.20 137.99 L131.42 137.92 L131.65 137.85 L131.87 137.77 L132.09 137.70 L132.31 137.62 L132.53 137.53 L132.76 137.44 L132.98 137.35 L133.20 137.26 L133.42 137.16 L133.64 137.06 L133.87 136.96 L134.09 136.85 L134.31 136.74 L134.53 136.62 L134.75 136.50 L134.98 136.38 L135.20 136.25 L135.42 136.11 L135.64 135.98 L135.86 135.84 L136.09 135.69 L136.31 135.54 L136.53 135.39 L136.75 135.23 L136.97 135.06 L137.20 134.90 L137.42 134.72 L137.64 134.54 L137.86 134.36 L138.08 134.17 L138.31 133.98 L138.53 133.78 L138.75 133.58 L138.97 133.37 L139.19 133.15 L139.42 132.93 L139.64 132.71 L139.86 132.48 L140.08 132.24 L140.30 132.00 L140.53 131.75 L140.75 131.50 L140.97 131.24 L141.19 130.98 L141.41 130.71 L141.64 130.43 L141.86 130.15 L142.08 129.86 L142.30 129.57 L142.52 129.27 L142.75 128.97 L142.97 128.65 L143.19 128.34 L143.41 128.01 L143.63 127.69 L143.86 127.35 L144.08 127.01 L144.30 126.66 L144.52 126.31 L144.74 125.95 L144.97 125.58 L145.19 125.21 L145.41 124.83 L145.63 124.45 L145.85 124.06 L146.08 123.66 L146.30 123.26 L146.52 122.85 L146.74 122.44 L146.96 122.02 L147.19 121.59 L147.41 121.16 L147.63 120.72 L147.85 120.28 L148.07 119.83 L148.30 119.37 L148.52 118.91 L148.74 118.45 L148.96 117.97 L149.18 117.50 L149.41 117.01 L149.63 116.52 L149.85 116.03 L150.07 115.53 L150.29 115.02 L150.52 114.51 L150.74 114.00 L150.96 113.48 L151.18 112.95 L151.40 112.42 L151.63 111.89 L151.85 111.35 L152.07 110.80 L152.29 110.25 L152.51 109.70 L152.74 109.14 L152.96 108.58 L153.18 108.01 L153.40 107.44 L153.62 106.86 L153.85 106.28 L154.07 105.70 L154.29 105.12 L154.51 104.53 L154.73 103.93 L154.96 103.33 L155.18 102.73 L155.40 102.13 L155.62 101.52 L155.84 100.91 L156.07 100.30 L156.29 99.69 L156.51 99.07 L156.73 98.45 L156.95 97.83 L157.18 97.20 L157.40 96.58 L157.62 95.95 L157.84 95.32 L158.06 94.69 L158.29 94.06 L158.51 93.42 L158.73 92.79 L158.95 92.15 L159.17 91.51 L159.40 90.87 L159.62 90.24 L159.84 89.60 L160.06 88.96 L160.28 88.32 L160.51 87.68 L160.73 87.04 L160.95 86.40 L161.17 85.76 L161.39 85.12 L161.62 84.48 L161.84 83.85 L162.06 83.21 L162.28 82.58 L162.50 81.94 L162.73 81.31 L162.95 80.68 L163.17 80.05 L163.39 79.43 L163.61 78.80 L163.84 78.18 L164.06 77.56 L164.28 76.94 L164.50 76.33 L164.72 75.71 L164.95 75.10 L165.17 74.50 L165.39 73.89 L165.61 73.29 L165.83 72.69 L166.06 72.10 L166.28 71.51 L166.50 70.93 L166.72 70.34 L166.94 69.76 L167.17 69.19 L167.39 68.62 L167.61 68.06 L167.83 67.49 L168.05 66.94 L168.28 66.39 L168.50 65.84 L168.72 65.30 L168.94 64.76 L169.16 64.23 L169.39 63.70 L169.61 63.18 L169.83 62.67 L170.05 62.16 L170.27 61.65 L170.50 61.15 L170.72 60.66 L170.94 60.17 L171.16 59.69 L171.38 59.22 L171.61 58.75 L171.83 58.28 L172.05 57.83 L172.27 57.38 L172.49 56.93 L172.72 56.49 L172.94 56.06 L173.16 55.64 L173.38 55.22 L173.60 54.81 L173.83 54.40 L174.05 54.00 L174.27 53.61 L174.49 53.23 L174.71 52.85 L174.94 52.48 L175.16 52.11 L175.38 51.75 L175.60 51.40 L175.82 51.06 L176.05 50.72 L176.27 50.39 L176.49 50.06 L176.71 49.75 L176.93 49.43 L177.16 49.13 L177.38 48.83 L177.60 48.54 L177.82 48.26 L178.04 47.98 L178.27 47.71 L178.49 47.45 L178.71 47.19 L178.93 46.94 L179.15 46.70 L179.38 46.46 L179.60 46.23 L179.82 46.00 L180.04 45.78 L180.26 45.57 L180.49 45.36 L180.71 45.16 L180.93 44.97 L181.15 44.78 L181.37 44.60 L181.60 44.42 L181.82 44.25 L182.04 44.08 L182.26 43.93 L182.48 43.77 L182.71 43.62 L182.93 43.48 L183.15 43.34 L183.37 43.21 L183.59 43.08 L183.82 42.96 L184.04 42.84 L184.26 42.73 L184.48 42.62 L184.70 42.51 L184.93 42.41 L185.15 42.32 L185.37 42.23 L185.59 42.14 L185.81 42.06 L186.04 41.98 L186.26 41.90 L186.48 41.83 L186.70 41.76 L186.92 41.70 L187.15 41.64 L187.37 41.58 L187.59 41.53 L187.81 41.47 L188.03 41.43 L188.26 41.38 L188.48 41.34 L188.70 41.30 L188.92 41.26 L189.14 41.23 L189.37 41.19 L189.59 41.16 L189.81 41.13 L190.03 41.11 L190.25 41.08 L190.48 41.06 L190.70 41.04 L190.92 41.02 L191.14 41.00 L191.36 40.99 L191.59 40.97 L191.81 40.96 L192.03 40.95 L192.25 40.94 L192.47 40.93 L192.70 40.92 L192.92 40.91 L193.14 40.90 L193.36 40.90 L193.58 40.89 L193.81 40.89 L194.03 40.88 L194.25 40.88 L194.47 40.87 L194.69 40.87 L194.92 40.87 L195.14 40.87 L195.36 40.87 L195.58 40.86 L195.80 40.86 L196.03 40.86 L196.25 40.86 L196.47 40.86 L196.69 40.86 L196.91 40.86 L197.14 40.86 L197.36 40.86 L197.58 40.86 L197.80 40.86 L198.02 40.86 L198.25 40.86 L198.47 40.86 L198.69 40.86 L198.91 40.86 L199.13 40.86 L199.36 40.86 L199.58 40.86 L199.80 40.86" stroke="#0000ff" stroke-width="1.80" stroke-dasharray="7.5 3.5" stroke-dashoffset="7.22"/>
</g>
<g clip-path="url(#c02)" fill="none">
<path d="M199.80 49.35 L200.02 49.35 L200.24 49.35 L200.46 49.35 L200.68 49.35 L200.90 49.35 L201.12 49.35 L201.35 49.35 L201.57 49.35 L201.79 49.35 L202.01 49.35 L202.23 49.35 L202.45 49.35 L202.67 49.35 L202.89 49.35 L203.11 49.35 L203.33 49.35 L203.55 49.35 L203.77 49.35 L203.99 49.35 L204.22 49.35 L204.44 49.35 L204.66 49.35 L204.88 49.35 L205.10 49.35 L205.32 49.35 L205.54 49.35 L205.76 49.35 L205.98 49.35 L206.20 49.35 L206.42 49.35 L206.64 49.35 L206.86 49.35 L207.08 49.35 L207.31 49.35 L207.53 49.35 L207.75 49.35 L207.97 49.35 L208.19 49.35 L208.41 49.35 L208.63 49.35 L208.85 49.35 L209.07 49.35 L209.29 49.35 L209.51 49.35 L209.73 49.35 L209.95 49.35 L210.18 49.35 L210.40 49.35 L210.62 49.35 L210.84 49.35 L211.06 49.35 L211.28 49.35 L211.50 49.35 L211.72 49.35 L211.94 49.35 L212.16 49.35 L212.38 49.35 L212.60 49.35 L212.82 49.35 L213.05 49.35 L213.27 49.35 L213.49 49.35 L213.71 49.35 L213.93 49.35 L214.15 49.35 L214.37 49.35 L214.59 49.35 L214.81 49.35 L215.03 49.35 L215.25 49.35 L215.47 49.35 L215.69 49.35 L215.91 49.35 L216.14 49.35 L216.36 49.35 L216.58 49.35 L216.80 49.35 L217.02 49.35 L217.24 49.35 L217.46 49.35 L217.68 49.35 L217.90 49.35 L218.12 49.35 L218.34 49.35 L218.56 49.35 L218.78 49.35 L219.01 49.35 L219.23 49.35 L219.45 49.35 L219.67 49.35 L219.89 49.35 L220.11 49.35 L220.33 49.35 L220.55 49.35 L220.77 49.35 L220.99 49.35 L221.21 49.35 L221.43 49.35 L221.65 49.35 L221.88 49.35 L222.10 49.35 L222.32 49.35 L222.54 49.35 L222.76 49.35 L222.98 49.35 L223.20 49.35 L223.42 49.35 L223.64 49.35 L223.86 49.35 L224.08 49.35 L224.30 49.35 L224.52 49.35 L224.74 49.35 L224.97 49.35 L225.19 49.35 L225.41 49.35 L225.63 49.35 L225.85 49.35 L226.07 49.35 L226.29 49.35 L226.51 49.35 L226.73 49.35 L226.95 49.35 L227.17 49.35 L227.39 49.35 L227.61 49.35 L227.84 49.35 L228.06 49.35 L228.28 49.35 L228.50 49.35 L228.72 49.35 L228.94 49.35 L229.16 49.35 L229.38 49.35 L229.60 49.35 L229.82 49.35 L230.04 49.35 L230.26 49.35 L230.48 49.35 L230.71 49.35 L230.93 49.35 L231.15 49.35 L231.37 49.36 L231.59 49.36 L231.81 49.36 L232.03 49.36 L232.25 49.36 L232.47 49.36 L232.69 49.37 L232.91 49.37 L233.13 49.38 L233.35 49.39 L233.57 49.40 L233.80 49.41 L234.02 49.42 L234.24 49.45 L234.46 49.47 L234.68 49.50 L234.90 49.54 L235.12 49.59 L235.34 49.65 L235.56 49.72 L235.78 49.81 L236.00 49.91 L236.22 50.04 L236.44 50.19 L236.67 50.36 L236.89 50.57 L237.11 50.82 L237.33 51.10 L237.55 51.43 L237.77 51.81 L237.99 52.24 L238.21 52.74 L238.43 53.31 L238.65 53.94 L238.87 54.66 L239.09 55.45 L239.31 56.34 L239.54 57.32 L239.76 58.40 L239.98 59.58 L240.20 60.87 L240.42 62.26 L240.64 63.77 L240.86 65.38 L241.08 67.10 L241.30 68.92 L241.52 70.85 L241.74 72.88 L241.96 75.00 L242.18 77.20 L242.40 79.49 L242.63 81.84 L242.85 84.25 L243.07 86.72 L243.29 89.21 L243.51 91.74 L243.73 94.27 L243.95 96.81 L244.17 99.33 L244.39 101.83 L244.61 104.29 L244.83 106.70 L245.05 109.05 L245.27 111.34 L245.50 113.54 L245.72 115.66 L245.94 117.69 L246.16 119.62 L246.38 121.44 L246.60 123.16 L246.82 124.77 L247.04 126.27 L247.26 127.67 L247.48 128.95 L247.70 130.14 L247.92 131.21 L248.14 132.20 L248.37 133.08 L248.59 133.88 L248.81 134.60 L249.03 135.23 L249.25 135.80 L249.47 136.30 L249.69 136.73 L249.91 137.11 L250.13 137.44 L250.35 137.73 L250.57 137.97 L250.79 138.18 L251.01 138.36 L251.23 138.51 L251.46 138.64 L251.68 138.74 L251.90 138.83 L252.12 138.90 L252.34 138.96 L252.56 139.01 L252.78 139.05 L253.00 139.08 L253.22 139.11 L253.44 139.13 L253.66 139.14 L253.88 139.16 L254.10 139.17 L254.33 139.17 L254.55 139.18 L254.77 139.19 L254.99 139.19 L255.21 139.19 L255.43 139.19 L255.65 139.20 L255.87 139.20 L256.09 139.20 L256.31 139.20 L256.53 139.20 L256.75 139.20 L256.97 139.20 L257.20 139.20 L257.42 139.20 L257.64 139.20 L257.86 139.20 L258.08 139.20 L258.30 139.20 L258.52 139.20 L258.74 139.20 L258.96 139.20 L259.18 139.20 L259.40 139.20 L259.62 139.20 L259.84 139.20 L260.06 139.20 L260.29 139.20 L260.51 139.20 L260.73 139.20 L260.95 139.20 L261.17 139.20 L261.39 139.20 L261.61 139.20 L261.83 139.20 L262.05 139.20 L262.27 139.20 L262.49 139.20 L262.71 139.20 L262.93 139.20 L263.16 139.20 L263.38 139.20 L263.60 139.20 L263.82 139.20 L264.04 139.20 L264.26 139.20 L264.48 139.20 L264.70 139.20 L264.92 139.20 L265.14 139.20 L265.36 139.20 L265.58 139.20 L265.80 139.20 L266.03 139.20 L266.25 139.20 L266.47 139.20 L266.69 139.20 L266.91 139.20 L267.13 139.20 L267.35 139.20 L267.57 139.20 L267.79 139.20 L268.01 139.20 L268.23 139.20 L268.45 139.20 L268.67 139.20 L268.89 139.20 L269.12 139.20 L269.34 139.20 L269.56 139.20 L269.78 139.20 L270.00 139.20 L270.22 139.20 L270.44 139.20 L270.66 139.20 L270.88 139.20 L271.10 139.20 L271.32 139.20 L271.54 139.20 L271.76 139.20 L271.99 139.20 L272.21 139.20 L272.43 139.20 L272.65 139.20 L272.87 139.20 L273.09 139.20 L273.31 139.20 L273.53 139.20 L273.75 139.20 L273.97 139.20 L274.19 139.20 L274.41 139.20 L274.63 139.20 L274.86 139.20 L275.08 139.20 L275.30 139.20 L275.52 139.20 L275.74 139.20 L275.96 139.20 L276.18 139.20 L276.40 139.20 L276.62 139.20 L276.84 139.20 L277.06 139.20 L277.28 139.20 L277.50 139.20 L277.72 139.20 L277.95 139.20 L278.17 139.20 L278.39 139.20 L278.61 139.20 L278.83 139.20 L279.05 139.20 L279.27 139.20 L279.49 139.20 L279.71 139.20 L279.93 139.20 L280.15 139.20 L280.37 139.20 L280.59 139.20 L280.82 139.20 L281.04 139.20 L281.26 139.20 L281.48 139.20 L281.70 139.20 L281.92 139.20 L282.14 139.20 L282.36 139.20 L282.58 139.20 L282.80 139.20 L283.02 139.20 L283.24 139.20 L283.46 139.20 L283.69 139.20 L283.91 139.20 L284.13 139.20 L284.35 139.20 L284.57 139.20 L284.79 139.20 L285.01 139.20 L285.23 139.20 L285.45 139.20 L285.67 139.20 L285.89 139.20 L286.11 139.20 L286.33 139.20 L286.55 139.20 L286.78 139.20 L287.00 139.20 L287.22 139.20 L287.44 139.20 L287.66 139.20 L287.88 139.20 L288.10 139.20" stroke="#000" stroke-width="1.70" stroke-dasharray="9.4 4.6" stroke-dashoffset="0.57"/>
<path d="M199.80 139.20 L200.02 139.20 L200.24 139.20 L200.46 139.20 L200.68 139.20 L200.90 139.20 L201.12 139.20 L201.35 139.20 L201.57 139.20 L201.79 139.20 L202.01 139.20 L202.23 139.20 L202.45 139.20 L202.67 139.20 L202.89 139.20 L203.11 139.20 L203.33 139.20 L203.55 139.20 L203.77 139.20 L203.99 139.20 L204.22 139.20 L204.44 139.20 L204.66 139.20 L204.88 139.20 L205.10 139.20 L205.32 139.20 L205.54 139.20 L205.76 139.20 L205.98 139.20 L206.20 139.20 L206.42 139.20 L206.64 139.20 L206.86 139.20 L207.08 139.20 L207.31 139.20 L207.53 139.20 L207.75 139.20 L207.97 139.20 L208.19 139.20 L208.41 139.20 L208.63 139.20 L208.85 139.20 L209.07 139.20 L209.29 139.20 L209.51 139.20 L209.73 139.20 L209.95 139.20 L210.18 139.20 L210.40 139.20 L210.62 139.20 L210.84 139.20 L211.06 139.20 L211.28 139.20 L211.50 139.20 L211.72 139.20 L211.94 139.20 L212.16 139.20 L212.38 139.20 L212.60 139.20 L212.82 139.20 L213.05 139.20 L213.27 139.20 L213.49 139.20 L213.71 139.20 L213.93 139.20 L214.15 139.20 L214.37 139.20 L214.59 139.20 L214.81 139.20 L215.03 139.20 L215.25 139.20 L215.47 139.20 L215.69 139.20 L215.91 139.20 L216.14 139.20 L216.36 139.20 L216.58 139.20 L216.80 139.20 L217.02 139.20 L217.24 139.20 L217.46 139.20 L217.68 139.20 L217.90 139.20 L218.12 139.20 L218.34 139.20 L218.56 139.20 L218.78 139.20 L219.01 139.20 L219.23 139.20 L219.45 139.20 L219.67 139.20 L219.89 139.20 L220.11 139.20 L220.33 139.20 L220.55 139.20 L220.77 139.20 L220.99 139.20 L221.21 139.20 L221.43 139.20 L221.65 139.20 L221.88 139.20 L222.10 139.20 L222.32 139.20 L222.54 139.20 L222.76 139.20 L222.98 139.20 L223.20 139.20 L223.42 139.20 L223.64 139.20 L223.86 139.20 L224.08 139.20 L224.30 139.20 L224.52 139.20 L224.74 139.20 L224.97 139.20 L225.19 139.20 L225.41 139.20 L225.63 139.20 L225.85 139.20 L226.07 139.20 L226.29 139.20 L226.51 139.20 L226.73 139.20 L226.95 139.20 L227.17 139.20 L227.39 139.20 L227.61 139.20 L227.84 139.20 L228.06 139.20 L228.28 139.20 L228.50 139.20 L228.72 139.20 L228.94 139.20 L229.16 139.20 L229.38 139.20 L229.60 139.19 L229.82 139.19 L230.04 139.19 L230.26 139.18 L230.48 139.17 L230.71 139.16 L230.93 139.14 L231.15 139.12 L231.37 139.09 L231.59 139.06 L231.81 139.01 L232.03 138.94 L232.25 138.85 L232.47 138.74 L232.69 138.59 L232.91 138.40 L233.13 138.16 L233.35 137.86 L233.57 137.47 L233.80 136.99 L234.02 136.39 L234.24 135.65 L234.46 134.74 L234.68 133.63 L234.90 132.28 L235.12 130.66 L235.34 128.71 L235.56 126.39 L235.78 123.64 L236.00 120.41 L236.22 116.63 L236.44 112.24 L236.67 107.16 L236.89 101.35 L237.11 94.71 L237.33 87.19 L237.55 78.73 L237.77 69.26 L237.99 58.74 L238.21 47.12 L238.43 34.38 L238.65 20.50 L238.87 5.48 L239.09 -10.66 L239.31 -27.88 L239.54 -39.60 L239.76 -39.60 L239.98 -39.60 L240.20 -39.60 L240.42 -39.60 L240.64 -39.60 L240.86 -39.60 L241.08 -39.60 L241.30 -39.60 L241.52 -39.60 L241.74 -39.60 L241.96 -39.60 L242.18 -39.60 L242.40 -39.60 L242.63 -39.60 L242.85 -39.60 L243.07 -39.60 L243.29 -39.60 L243.51 -39.60 L243.73 -39.60 L243.95 -39.60 L244.17 -39.60 L244.39 -39.60 L244.61 -39.60 L244.83 -39.60 L245.05 -39.60 L245.27 -39.60 L245.50 -39.60 L245.72 -39.60 L245.94 -39.60 L246.16 -39.60 L246.38 -39.60 L246.60 -39.60 L246.82 -39.60 L247.04 -39.60 L247.26 -39.60 L247.48 -39.60 L247.70 -39.60 L247.92 -39.60 L248.14 -39.60 L248.37 -39.60 L248.59 -27.88 L248.81 -10.66 L249.03 5.48 L249.25 20.50 L249.47 34.38 L249.69 47.12 L249.91 58.74 L250.13 69.26 L250.35 78.73 L250.57 87.19 L250.79 94.71 L251.01 101.35 L251.23 107.16 L251.46 112.24 L251.68 116.63 L251.90 120.41 L252.12 123.64 L252.34 126.39 L252.56 128.71 L252.78 130.66 L253.00 132.28 L253.22 133.63 L253.44 134.74 L253.66 135.65 L253.88 136.39 L254.10 136.99 L254.33 137.47 L254.55 137.86 L254.77 138.16 L254.99 138.40 L255.21 138.59 L255.43 138.74 L255.65 138.85 L255.87 138.94 L256.09 139.01 L256.31 139.06 L256.53 139.09 L256.75 139.12 L256.97 139.14 L257.20 139.16 L257.42 139.17 L257.64 139.18 L257.86 139.19 L258.08 139.19 L258.30 139.19 L258.52 139.20 L258.74 139.20 L258.96 139.20 L259.18 139.20 L259.40 139.20 L259.62 139.20 L259.84 139.20 L260.06 139.20 L260.29 139.20 L260.51 139.20 L260.73 139.20 L260.95 139.20 L261.17 139.20 L261.39 139.20 L261.61 139.20 L261.83 139.20 L262.05 139.20 L262.27 139.20 L262.49 139.20 L262.71 139.20 L262.93 139.20 L263.16 139.20 L263.38 139.20 L263.60 139.20 L263.82 139.20 L264.04 139.20 L264.26 139.20 L264.48 139.20 L264.70 139.20 L264.92 139.20 L265.14 139.20 L265.36 139.20 L265.58 139.20 L265.80 139.20 L266.03 139.20 L266.25 139.20 L266.47 139.20 L266.69 139.20 L266.91 139.20 L267.13 139.20 L267.35 139.20 L267.57 139.20 L267.79 139.20 L268.01 139.20 L268.23 139.20 L268.45 139.20 L268.67 139.20 L268.89 139.20 L269.12 139.20 L269.34 139.20 L269.56 139.20 L269.78 139.20 L270.00 139.20 L270.22 139.20 L270.44 139.20 L270.66 139.20 L270.88 139.20 L271.10 139.20 L271.32 139.20 L271.54 139.20 L271.76 139.20 L271.99 139.20 L272.21 139.20 L272.43 139.20 L272.65 139.20 L272.87 139.20 L273.09 139.20 L273.31 139.20 L273.53 139.20 L273.75 139.20 L273.97 139.20 L274.19 139.20 L274.41 139.20 L274.63 139.20 L274.86 139.20 L275.08 139.20 L275.30 139.20 L275.52 139.20 L275.74 139.20 L275.96 139.20 L276.18 139.20 L276.40 139.20 L276.62 139.20 L276.84 139.20 L277.06 139.20 L277.28 139.20 L277.50 139.20 L277.72 139.20 L277.95 139.20 L278.17 139.20 L278.39 139.20 L278.61 139.20 L278.83 139.20 L279.05 139.20 L279.27 139.20 L279.49 139.20 L279.71 139.20 L279.93 139.20 L280.15 139.20 L280.37 139.20 L280.59 139.20 L280.82 139.20 L281.04 139.20 L281.26 139.20 L281.48 139.20 L281.70 139.20 L281.92 139.20 L282.14 139.20 L282.36 139.20 L282.58 139.20 L282.80 139.20 L283.02 139.20 L283.24 139.20 L283.46 139.20 L283.69 139.20 L283.91 139.20 L284.13 139.20 L284.35 139.20 L284.57 139.20 L284.79 139.20 L285.01 139.20 L285.23 139.20 L285.45 139.20 L285.67 139.20 L285.89 139.20 L286.11 139.20 L286.33 139.20 L286.55 139.20 L286.78 139.20 L287.00 139.20 L287.22 139.20 L287.44 139.20 L287.66 139.20 L287.88 139.20 L288.10 139.20" stroke="#ff0000" stroke-width="1.60"/>
<path d="M199.80 139.20 L200.02 139.20 L200.24 139.20 L200.46 139.20 L200.68 139.20 L200.90 139.20 L201.12 139.20 L201.35 139.20 L201.57 139.20 L201.79 139.20 L202.01 139.20 L202.23 139.20 L202.45 139.20 L202.67 139.20 L202.89 139.20 L203.11 139.20 L203.33 139.20 L203.55 139.20 L203.77 139.20 L203.99 139.20 L204.22 139.20 L204.44 139.20 L204.66 139.20 L204.88 139.20 L205.10 139.20 L205.32 139.20 L205.54 139.20 L205.76 139.20 L205.98 139.20 L206.20 139.20 L206.42 139.20 L206.64 139.20 L206.86 139.20 L207.08 139.20 L207.31 139.20 L207.53 139.20 L207.75 139.20 L207.97 139.20 L208.19 139.20 L208.41 139.20 L208.63 139.20 L208.85 139.20 L209.07 139.20 L209.29 139.20 L209.51 139.20 L209.73 139.20 L209.95 139.20 L210.18 139.20 L210.40 139.20 L210.62 139.20 L210.84 139.20 L211.06 139.20 L211.28 139.20 L211.50 139.20 L211.72 139.20 L211.94 139.20 L212.16 139.20 L212.38 139.20 L212.60 139.20 L212.82 139.20 L213.05 139.20 L213.27 139.20 L213.49 139.20 L213.71 139.20 L213.93 139.20 L214.15 139.20 L214.37 139.20 L214.59 139.20 L214.81 139.20 L215.03 139.20 L215.25 139.20 L215.47 139.20 L215.69 139.20 L215.91 139.20 L216.14 139.20 L216.36 139.20 L216.58 139.20 L216.80 139.20 L217.02 139.20 L217.24 139.20 L217.46 139.20 L217.68 139.20 L217.90 139.20 L218.12 139.20 L218.34 139.20 L218.56 139.20 L218.78 139.20 L219.01 139.20 L219.23 139.20 L219.45 139.20 L219.67 139.20 L219.89 139.20 L220.11 139.20 L220.33 139.20 L220.55 139.20 L220.77 139.20 L220.99 139.20 L221.21 139.20 L221.43 139.20 L221.65 139.20 L221.88 139.20 L222.10 139.20 L222.32 139.20 L222.54 139.20 L222.76 139.20 L222.98 139.20 L223.20 139.20 L223.42 139.20 L223.64 139.20 L223.86 139.20 L224.08 139.20 L224.30 139.20 L224.52 139.20 L224.74 139.20 L224.97 139.20 L225.19 139.20 L225.41 139.20 L225.63 139.20 L225.85 139.20 L226.07 139.20 L226.29 139.20 L226.51 139.20 L226.73 139.20 L226.95 139.20 L227.17 139.20 L227.39 139.20 L227.61 139.20 L227.84 139.20 L228.06 139.20 L228.28 139.20 L228.50 139.20 L228.72 139.20 L228.94 139.20 L229.16 139.20 L229.38 139.20 L229.60 139.20 L229.82 139.20 L230.04 139.20 L230.26 139.20 L230.48 139.20 L230.71 139.20 L230.93 139.20 L231.15 139.20 L231.37 139.20 L231.59 139.20 L231.81 139.20 L232.03 139.20 L232.25 139.20 L232.47 139.19 L232.69 139.19 L232.91 139.19 L233.13 139.19 L233.35 139.18 L233.57 139.17 L233.80 139.17 L234.02 139.16 L234.24 139.14 L234.46 139.13 L234.68 139.11 L234.90 139.08 L235.12 139.05 L235.34 139.01 L235.56 138.96 L235.78 138.90 L236.00 138.83 L236.22 138.74 L236.44 138.64 L236.67 138.51 L236.89 138.36 L237.11 138.18 L237.33 137.97 L237.55 137.73 L237.77 137.44 L237.99 137.11 L238.21 136.73 L238.43 136.30 L238.65 135.80 L238.87 135.23 L239.09 134.60 L239.31 133.88 L239.54 133.08 L239.76 132.20 L239.98 131.21 L240.20 130.14 L240.42 128.95 L240.64 127.67 L240.86 126.27 L241.08 124.77 L241.30 123.16 L241.52 121.44 L241.74 119.62 L241.96 117.69 L242.18 115.66 L242.40 113.54 L242.63 111.34 L242.85 109.05 L243.07 106.70 L243.29 104.29 L243.51 101.83 L243.73 99.33 L243.95 96.81 L244.17 94.27 L244.39 91.74 L244.61 89.21 L244.83 86.72 L245.05 84.25 L245.27 81.84 L245.50 79.49 L245.72 77.20 L245.94 75.00 L246.16 72.88 L246.38 70.85 L246.60 68.92 L246.82 67.10 L247.04 65.38 L247.26 63.77 L247.48 62.26 L247.70 60.87 L247.92 59.58 L248.14 58.40 L248.37 57.32 L248.59 56.34 L248.81 55.45 L249.03 54.66 L249.25 53.94 L249.47 53.31 L249.69 52.74 L249.91 52.24 L250.13 51.81 L250.35 51.43 L250.57 51.10 L250.79 50.82 L251.01 50.57 L251.23 50.36 L251.46 50.19 L251.68 50.04 L251.90 49.91 L252.12 49.81 L252.34 49.72 L252.56 49.65 L252.78 49.59 L253.00 49.54 L253.22 49.50 L253.44 49.47 L253.66 49.45 L253.88 49.42 L254.10 49.41 L254.33 49.40 L254.55 49.39 L254.77 49.38 L254.99 49.37 L255.21 49.37 L255.43 49.36 L255.65 49.36 L255.87 49.36 L256.09 49.36 L256.31 49.36 L256.53 49.36 L256.75 49.35 L256.97 49.35 L257.20 49.35 L257.42 49.35 L257.64 49.35 L257.86 49.35 L258.08 49.35 L258.30 49.35 L258.52 49.35 L258.74 49.35 L258.96 49.35 L259.18 49.35 L259.40 49.35 L259.62 49.35 L259.84 49.35 L260.06 49.35 L260.29 49.35 L260.51 49.35 L260.73 49.35 L260.95 49.35 L261.17 49.35 L261.39 49.35 L261.61 49.35 L261.83 49.35 L262.05 49.35 L262.27 49.35 L262.49 49.35 L262.71 49.35 L262.93 49.35 L263.16 49.35 L263.38 49.35 L263.60 49.35 L263.82 49.35 L264.04 49.35 L264.26 49.35 L264.48 49.35 L264.70 49.35 L264.92 49.35 L265.14 49.35 L265.36 49.35 L265.58 49.35 L265.80 49.35 L266.03 49.35 L266.25 49.35 L266.47 49.35 L266.69 49.35 L266.91 49.35 L267.13 49.35 L267.35 49.35 L267.57 49.35 L267.79 49.35 L268.01 49.35 L268.23 49.35 L268.45 49.35 L268.67 49.35 L268.89 49.35 L269.12 49.35 L269.34 49.35 L269.56 49.35 L269.78 49.35 L270.00 49.35 L270.22 49.35 L270.44 49.35 L270.66 49.35 L270.88 49.35 L271.10 49.35 L271.32 49.35 L271.54 49.35 L271.76 49.35 L271.99 49.35 L272.21 49.35 L272.43 49.35 L272.65 49.35 L272.87 49.35 L273.09 49.35 L273.31 49.35 L273.53 49.35 L273.75 49.35 L273.97 49.35 L274.19 49.35 L274.41 49.35 L274.63 49.35 L274.86 49.35 L275.08 49.35 L275.30 49.35 L275.52 49.35 L275.74 49.35 L275.96 49.35 L276.18 49.35 L276.40 49.35 L276.62 49.35 L276.84 49.35 L277.06 49.35 L277.28 49.35 L277.50 49.35 L277.72 49.35 L277.95 49.35 L278.17 49.35 L278.39 49.35 L278.61 49.35 L278.83 49.35 L279.05 49.35 L279.27 49.35 L279.49 49.35 L279.71 49.35 L279.93 49.35 L280.15 49.35 L280.37 49.35 L280.59 49.35 L280.82 49.35 L281.04 49.35 L281.26 49.35 L281.48 49.35 L281.70 49.35 L281.92 49.35 L282.14 49.35 L282.36 49.35 L282.58 49.35 L282.80 49.35 L283.02 49.35 L283.24 49.35 L283.46 49.35 L283.69 49.35 L283.91 49.35 L284.13 49.35 L284.35 49.35 L284.57 49.35 L284.79 49.35 L285.01 49.35 L285.23 49.35 L285.45 49.35 L285.67 49.35 L285.89 49.35 L286.11 49.35 L286.33 49.35 L286.55 49.35 L286.78 49.35 L287.00 49.35 L287.22 49.35 L287.44 49.35 L287.66 49.35 L287.88 49.35 L288.10 49.35" stroke="#0000ff" stroke-width="1.80" stroke-dasharray="7.3 3.4" stroke-dashoffset="8.17"/>
</g>
<g clip-path="url(#c03)" fill="none">
<path d="M288.10 49.80 L288.31 50.02 L288.51 50.25 L288.72 50.47 L288.92 50.69 L289.13 50.92 L289.33 51.14 L289.54 51.36 L289.75 51.59 L289.95 51.81 L290.16 52.03 L290.36 52.26 L290.57 52.48 L290.77 52.71 L290.98 52.93 L291.18 53.15 L291.39 53.38 L291.60 53.60 L291.80 53.82 L292.01 54.05 L292.21 54.27 L292.42 54.49 L292.62 54.72 L292.83 54.94 L293.04 55.16 L293.24 55.39 L293.45 55.61 L293.65 55.83 L293.86 56.06 L294.06 56.28 L294.27 56.50 L294.47 56.73 L294.68 56.95 L294.89 57.18 L295.09 57.40 L295.30 57.62 L295.50 57.85 L295.71 58.07 L295.91 58.29 L296.12 58.52 L296.33 58.74 L296.53 58.96 L296.74 59.19 L296.94 59.41 L297.15 59.63 L297.35 59.86 L297.56 60.08 L297.76 60.30 L297.97 60.53 L298.18 60.75 L298.38 60.97 L298.59 61.20 L298.79 61.42 L299.00 61.65 L299.20 61.87 L299.41 62.09 L299.62 62.32 L299.82 62.54 L300.03 62.76 L300.23 62.99 L300.44 63.21 L300.64 63.43 L300.85 63.66 L301.05 63.88 L301.26 64.10 L301.47 64.33 L301.67 64.55 L301.88 64.77 L302.08 65.00 L302.29 65.22 L302.49 65.44 L302.70 65.67 L302.91 65.89 L303.11 66.12 L303.32 66.34 L303.52 66.56 L303.73 66.79 L303.93 67.01 L304.14 67.23 L304.34 67.46 L304.55 67.68 L304.76 67.90 L304.96 68.13 L305.17 68.35 L305.37 68.57 L305.58 68.80 L305.78 69.02 L305.99 69.24 L306.20 69.47 L306.40 69.69 L306.61 69.91 L306.81 70.14 L307.02 70.36 L307.22 70.59 L307.43 70.81 L307.63 71.03 L307.84 71.26 L308.05 71.48 L308.25 71.70 L308.46 71.93 L308.66 72.15 L308.87 72.37 L309.07 72.60 L309.28 72.82 L309.49 73.04 L309.69 73.27 L309.90 73.49 L310.10 73.71 L310.31 73.94 L310.51 74.16 L310.72 74.38 L310.92 74.61 L311.13 74.83 L311.34 75.06 L311.54 75.28 L311.75 75.50 L311.95 75.73 L312.16 75.95 L312.36 76.17 L312.57 76.40 L312.78 76.62 L312.98 76.84 L313.19 77.07 L313.39 77.29 L313.60 77.51 L313.80 77.74 L314.01 77.96 L314.21 78.18 L314.42 78.41 L314.63 78.63 L314.83 78.85 L315.04 79.08 L315.24 79.30 L315.45 79.53 L315.65 79.75 L315.86 79.97 L316.07 80.20 L316.27 80.42 L316.48 80.64 L316.68 80.87 L316.89 81.09 L317.09 81.31 L317.30 81.54 L317.50 81.76 L317.71 81.98 L317.92 82.21 L318.12 82.43 L318.33 82.65 L318.53 82.88 L318.74 83.10 L318.94 83.32 L319.15 83.55 L319.36 83.77 L319.56 84.00 L319.77 84.22 L319.97 84.44 L320.18 84.67 L320.38 84.89 L320.59 85.11 L320.79 85.34 L321.00 85.56 L321.21 85.78 L321.41 86.01 L321.62 86.23 L321.82 86.45 L322.03 86.68 L322.23 86.90 L322.44 87.12 L322.65 87.35 L322.85 87.57 L323.06 87.79 L323.26 88.02 L323.47 88.24 L323.67 88.47 L323.88 88.69 L324.08 88.91 L324.29 89.14 L324.50 89.36 L324.70 89.58 L324.91 89.81 L325.11 90.03 L325.32 90.25 L325.52 90.48 L325.73 90.70 L325.94 90.92 L326.14 91.15 L326.35 91.37 L326.55 91.59 L326.76 91.82 L326.96 92.04 L327.17 92.26 L327.37 92.49 L327.58 92.71 L327.79 92.94 L327.99 93.16 L328.20 93.38 L328.40 93.61 L328.61 93.83 L328.81 94.05 L329.02 94.28 L329.23 94.50 L329.43 94.72 L329.64 94.95 L329.84 95.17 L330.05 95.39 L330.25 95.62 L330.46 95.84 L330.66 96.06 L330.87 96.29 L331.08 96.51 L331.28 96.73 L331.49 96.96 L331.69 97.18 L331.90 97.41 L332.10 97.63 L332.31 97.85 L332.52 98.08 L332.72 98.30 L332.93 98.52 L333.13 98.75 L333.34 98.97 L333.54 99.19 L333.75 99.42 L333.95 99.64 L334.16 99.86 L334.37 100.09 L334.57 100.31 L334.78 100.53 L334.98 100.76 L335.19 100.98 L335.39 101.20 L335.60 101.43 L335.81 101.65 L336.01 101.88 L336.22 102.10 L336.42 102.32 L336.63 102.55 L336.83 102.77 L337.04 102.99 L337.24 103.22 L337.45 103.44 L337.66 103.66 L337.86 103.89 L338.07 104.11 L338.27 104.33 L338.48 104.56 L338.68 104.78 L338.89 105.00 L339.10 105.23 L339.30 105.45 L339.51 105.67 L339.71 105.90 L339.92 106.12 L340.12 106.35 L340.33 106.57 L340.53 106.79 L340.74 107.02 L340.95 107.24 L341.15 107.46 L341.36 107.69 L341.56 107.91 L341.77 108.13 L341.97 108.36 L342.18 108.58 L342.39 108.80 L342.59 109.03 L342.80 109.25 L343.00 109.47 L343.21 109.70 L343.41 109.92 L343.62 110.14 L343.82 110.37 L344.03 110.59 L344.24 110.82 L344.44 111.04 L344.65 111.26 L344.85 111.49 L345.06 111.71 L345.26 111.93 L345.47 112.16 L345.68 112.38 L345.88 112.60 L346.09 112.83 L346.29 113.05 L346.50 113.27 L346.70 113.50 L346.91 113.72 L347.11 113.94 L347.32 114.17 L347.53 114.39 L347.73 114.61 L347.94 114.84 L348.14 115.06 L348.35 115.29 L348.55 115.51 L348.76 115.73 L348.97 115.96 L349.17 116.18 L349.38 116.40 L349.58 116.63 L349.79 116.85 L349.99 117.07 L350.20 117.30 L350.40 117.52 L350.61 117.74 L350.82 117.97 L351.02 118.19 L351.23 118.41 L351.43 118.64 L351.64 118.86 L351.84 119.08 L352.05 119.31 L352.25 119.53 L352.46 119.76 L352.67 119.98 L352.87 120.20 L353.08 120.43 L353.28 120.65 L353.49 120.87 L353.69 121.10 L353.90 121.32 L354.11 121.54 L354.31 121.77 L354.52 121.99 L354.72 122.21 L354.93 122.44 L355.13 122.66 L355.34 122.88 L355.55 123.11 L355.75 123.33 L355.96 123.55 L356.16 123.78 L356.37 124.00 L356.57 124.23 L356.78 124.45 L356.98 124.67 L357.19 124.90 L357.40 125.12 L357.60 125.34 L357.81 125.57 L358.01 125.79 L358.22 126.01 L358.42 126.24 L358.63 126.46 L358.84 126.68 L359.04 126.91 L359.25 127.13 L359.45 127.35 L359.66 127.58 L359.86 127.80 L360.07 128.02 L360.27 128.25 L360.48 128.47 L360.69 128.70 L360.89 128.92 L361.10 129.14 L361.30 129.37 L361.51 129.59 L361.71 129.81 L361.92 130.04 L362.12 130.26 L362.33 130.48 L362.54 130.71 L362.74 130.93 L362.95 131.15 L363.15 131.38 L363.36 131.60 L363.56 131.82 L363.77 132.05 L363.98 132.27 L364.18 132.50 L364.39 132.72 L364.59 132.94 L364.80 133.17 L365.00 133.39 L365.21 133.61 L365.42 133.84 L365.62 134.06 L365.83 134.28 L366.03 134.51 L366.24 134.73 L366.44 134.95 L366.65 135.18 L366.85 135.40 L367.06 135.62 L367.27 135.85 L367.47 136.07 L367.68 136.29 L367.88 136.52 L368.09 136.74 L368.29 136.96 L368.50 137.19 L368.71 137.41 L368.91 137.64 L369.12 137.86 L369.32 138.08 L369.53 138.31 L369.73 138.53 L369.94 138.75 L370.14 138.98 L370.35 139.20" stroke="#000" stroke-width="1.70" stroke-dasharray="10.8 3.9" stroke-dashoffset="0.00"/>
<path d="M288.10 94.50 L288.31 94.50 L288.51 94.50 L288.72 94.50 L288.92 94.50 L289.13 94.50 L289.33 94.50 L289.54 94.50 L289.75 94.50 L289.95 94.50 L290.16 94.50 L290.36 94.50 L290.57 94.50 L290.77 94.50 L290.98 94.50 L291.18 94.50 L291.39 94.50 L291.60 94.50 L291.80 94.50 L292.01 94.50 L292.21 94.50 L292.42 94.50 L292.62 94.50 L292.83 94.50 L293.04 94.50 L293.24 94.50 L293.45 94.50 L293.65 94.50 L293.86 94.50 L294.06 94.50 L294.27 94.50 L294.47 94.50 L294.68 94.50 L294.89 94.50 L295.09 94.50 L295.30 94.50 L295.50 94.50 L295.71 94.50 L295.91 94.50 L296.12 94.50 L296.33 94.50 L296.53 94.50 L296.74 94.50 L296.94 94.50 L297.15 94.50 L297.35 94.50 L297.56 94.50 L297.76 94.50 L297.97 94.50 L298.18 94.50 L298.38 94.50 L298.59 94.50 L298.79 94.50 L299.00 94.50 L299.20 94.50 L299.41 94.50 L299.62 94.50 L299.82 94.50 L300.03 94.50 L300.23 94.50 L300.44 94.50 L300.64 94.50 L300.85 94.50 L301.05 94.50 L301.26 94.50 L301.47 94.50 L301.67 94.50 L301.88 94.50 L302.08 94.50 L302.29 94.50 L302.49 94.50 L302.70 94.50 L302.91 94.50 L303.11 94.50 L303.32 94.50 L303.52 94.50 L303.73 94.50 L303.93 94.50 L304.14 94.50 L304.34 94.50 L304.55 94.50 L304.76 94.50 L304.96 94.50 L305.17 94.50 L305.37 94.50 L305.58 94.50 L305.78 94.50 L305.99 94.50 L306.20 94.50 L306.40 94.50 L306.61 94.50 L306.81 94.50 L307.02 94.50 L307.22 94.50 L307.43 94.50 L307.63 94.50 L307.84 94.50 L308.05 94.50 L308.25 94.50 L308.46 94.50 L308.66 94.50 L308.87 94.50 L309.07 94.50 L309.28 94.50 L309.49 94.50 L309.69 94.50 L309.90 94.50 L310.10 94.50 L310.31 94.50 L310.51 94.50 L310.72 94.50 L310.92 94.50 L311.13 94.50 L311.34 94.50 L311.54 94.50 L311.75 94.50 L311.95 94.50 L312.16 94.50 L312.36 94.50 L312.57 94.50 L312.78 94.50 L312.98 94.50 L313.19 94.50 L313.39 94.50 L313.60 94.50 L313.80 94.50 L314.01 94.50 L314.21 94.50 L314.42 94.50 L314.63 94.50 L314.83 94.50 L315.04 94.50 L315.24 94.50 L315.45 94.50 L315.65 94.50 L315.86 94.50 L316.07 94.50 L316.27 94.50 L316.48 94.50 L316.68 94.50 L316.89 94.50 L317.09 94.50 L317.30 94.50 L317.50 94.50 L317.71 94.50 L317.92 94.50 L318.12 94.50 L318.33 94.50 L318.53 94.50 L318.74 94.50 L318.94 94.50 L319.15 94.50 L319.36 94.50 L319.56 94.50 L319.77 94.50 L319.97 94.50 L320.18 94.50 L320.38 94.50 L320.59 94.50 L320.79 94.50 L321.00 94.50 L321.21 94.50 L321.41 94.50 L321.62 94.50 L321.82 94.50 L322.03 94.50 L322.23 94.50 L322.44 94.50 L322.65 94.50 L322.85 94.50 L323.06 94.50 L323.26 94.50 L323.47 94.50 L323.67 94.50 L323.88 94.50 L324.08 94.50 L324.29 94.50 L324.50 94.50 L324.70 94.50 L324.91 94.50 L325.11 94.50 L325.32 94.50 L325.52 94.50 L325.73 94.50 L325.94 94.50 L326.14 94.50 L326.35 94.50 L326.55 94.50 L326.76 94.50 L326.96 94.50 L327.17 94.50 L327.37 94.50 L327.58 94.50 L327.79 94.50 L327.99 94.50 L328.20 94.50 L328.40 94.50 L328.61 94.50 L328.81 94.50 L329.02 94.50 L329.23 94.50 L329.43 94.50 L329.64 94.50 L329.84 94.50 L330.05 94.50 L330.25 94.50 L330.46 94.50 L330.66 94.50 L330.87 94.50 L331.08 94.50 L331.28 94.50 L331.49 94.50 L331.69 94.50 L331.90 94.50 L332.10 94.50 L332.31 94.50 L332.52 94.50 L332.72 94.50 L332.93 94.50 L333.13 94.50 L333.34 94.50 L333.54 94.50 L333.75 94.50 L333.95 94.50 L334.16 94.50 L334.37 94.50 L334.57 94.50 L334.78 94.50 L334.98 94.50 L335.19 94.50 L335.39 94.50 L335.60 94.50 L335.81 94.50 L336.01 94.50 L336.22 94.50 L336.42 94.50 L336.63 94.50 L336.83 94.50 L337.04 94.50 L337.24 94.50 L337.45 94.50 L337.66 94.50 L337.86 94.50 L338.07 94.50 L338.27 94.50 L338.48 94.50 L338.68 94.50 L338.89 94.50 L339.10 94.50 L339.30 94.50 L339.51 94.50 L339.71 94.50 L339.92 94.50 L340.12 94.50 L340.33 94.50 L340.53 94.50 L340.74 94.50 L340.95 94.50 L341.15 94.50 L341.36 94.50 L341.56 94.50 L341.77 94.50 L341.97 94.50 L342.18 94.50 L342.39 94.50 L342.59 94.50 L342.80 94.50 L343.00 94.50 L343.21 94.50 L343.41 94.50 L343.62 94.50 L343.82 94.50 L344.03 94.50 L344.24 94.50 L344.44 94.50 L344.65 94.50 L344.85 94.50 L345.06 94.50 L345.26 94.50 L345.47 94.50 L345.68 94.50 L345.88 94.50 L346.09 94.50 L346.29 94.50 L346.50 94.50 L346.70 94.50 L346.91 94.50 L347.11 94.50 L347.32 94.50 L347.53 94.50 L347.73 94.50 L347.94 94.50 L348.14 94.50 L348.35 94.50 L348.55 94.50 L348.76 94.50 L348.97 94.50 L349.17 94.50 L349.38 94.50 L349.58 94.50 L349.79 94.50 L349.99 94.50 L350.20 94.50 L350.40 94.50 L350.61 94.50 L350.82 94.50 L351.02 94.50 L351.23 94.50 L351.43 94.50 L351.64 94.50 L351.84 94.50 L352.05 94.50 L352.25 94.50 L352.46 94.50 L352.67 94.50 L352.87 94.50 L353.08 94.50 L353.28 94.50 L353.49 94.50 L353.69 94.50 L353.90 94.50 L354.11 94.50 L354.31 94.50 L354.52 94.50 L354.72 94.50 L354.93 94.50 L355.13 94.50 L355.34 94.50 L355.55 94.50 L355.75 94.50 L355.96 94.50 L356.16 94.50 L356.37 94.50 L356.57 94.50 L356.78 94.50 L356.98 94.50 L357.19 94.50 L357.40 94.50 L357.60 94.50 L357.81 94.50 L358.01 94.50 L358.22 94.50 L358.42 94.50 L358.63 94.50 L358.84 94.50 L359.04 94.50 L359.25 94.50 L359.45 94.50 L359.66 94.50 L359.86 94.50 L360.07 94.50 L360.27 94.50 L360.48 94.50 L360.69 94.50 L360.89 94.50 L361.10 94.50 L361.30 94.50 L361.51 94.50 L361.71 94.50 L361.92 94.50 L362.12 94.50 L362.33 94.50 L362.54 94.50 L362.74 94.50 L362.95 94.50 L363.15 94.50 L363.36 94.50 L363.56 94.50 L363.77 94.50 L363.98 94.50 L364.18 94.50 L364.39 94.50 L364.59 94.50 L364.80 94.50 L365.00 94.50 L365.21 94.50 L365.42 94.50 L365.62 94.50 L365.83 94.50 L366.03 94.50 L366.24 94.50 L366.44 94.50 L366.65 94.50 L366.85 94.50 L367.06 94.50 L367.27 94.50 L367.47 94.50 L367.68 94.50 L367.88 94.50 L368.09 94.50 L368.29 94.50 L368.50 94.50 L368.71 94.50 L368.91 94.50 L369.12 94.50 L369.32 94.50 L369.53 94.50 L369.73 94.50 L369.94 94.50 L370.14 94.50 L370.35 94.50" stroke="#ff0000" stroke-width="1.60"/>
<path d="M288.10 139.20 L288.31 138.98 L288.51 138.75 L288.72 138.53 L288.92 138.31 L289.13 138.08 L289.33 137.86 L289.54 137.64 L289.75 137.41 L289.95 137.19 L290.16 136.96 L290.36 136.74 L290.57 136.52 L290.77 136.29 L290.98 136.07 L291.18 135.85 L291.39 135.62 L291.60 135.40 L291.80 135.18 L292.01 134.95 L292.21 134.73 L292.42 134.51 L292.62 134.28 L292.83 134.06 L293.04 133.84 L293.24 133.61 L293.45 133.39 L293.65 133.17 L293.86 132.94 L294.06 132.72 L294.27 132.49 L294.47 132.27 L294.68 132.05 L294.89 131.82 L295.09 131.60 L295.30 131.38 L295.50 131.15 L295.71 130.93 L295.91 130.71 L296.12 130.48 L296.33 130.26 L296.53 130.04 L296.74 129.81 L296.94 129.59 L297.15 129.37 L297.35 129.14 L297.56 128.92 L297.76 128.70 L297.97 128.47 L298.18 128.25 L298.38 128.02 L298.59 127.80 L298.79 127.58 L299.00 127.35 L299.20 127.13 L299.41 126.91 L299.62 126.68 L299.82 126.46 L300.03 126.24 L300.23 126.01 L300.44 125.79 L300.64 125.57 L300.85 125.34 L301.05 125.12 L301.26 124.90 L301.47 124.67 L301.67 124.45 L301.88 124.23 L302.08 124.00 L302.29 123.78 L302.49 123.55 L302.70 123.33 L302.91 123.11 L303.11 122.88 L303.32 122.66 L303.52 122.44 L303.73 122.21 L303.93 121.99 L304.14 121.77 L304.34 121.54 L304.55 121.32 L304.76 121.10 L304.96 120.87 L305.17 120.65 L305.37 120.43 L305.58 120.20 L305.78 119.98 L305.99 119.76 L306.20 119.53 L306.40 119.31 L306.61 119.08 L306.81 118.86 L307.02 118.64 L307.22 118.41 L307.43 118.19 L307.63 117.97 L307.84 117.74 L308.05 117.52 L308.25 117.30 L308.46 117.07 L308.66 116.85 L308.87 116.63 L309.07 116.40 L309.28 116.18 L309.49 115.96 L309.69 115.73 L309.90 115.51 L310.10 115.29 L310.31 115.06 L310.51 114.84 L310.72 114.61 L310.92 114.39 L311.13 114.17 L311.34 113.94 L311.54 113.72 L311.75 113.50 L311.95 113.27 L312.16 113.05 L312.36 112.83 L312.57 112.60 L312.78 112.38 L312.98 112.16 L313.19 111.93 L313.39 111.71 L313.60 111.49 L313.80 111.26 L314.01 111.04 L314.21 110.82 L314.42 110.59 L314.63 110.37 L314.83 110.14 L315.04 109.92 L315.24 109.70 L315.45 109.47 L315.65 109.25 L315.86 109.03 L316.07 108.80 L316.27 108.58 L316.48 108.36 L316.68 108.13 L316.89 107.91 L317.09 107.69 L317.30 107.46 L317.50 107.24 L317.71 107.02 L317.92 106.79 L318.12 106.57 L318.33 106.35 L318.53 106.12 L318.74 105.90 L318.94 105.67 L319.15 105.45 L319.36 105.23 L319.56 105.00 L319.77 104.78 L319.97 104.56 L320.18 104.33 L320.38 104.11 L320.59 103.89 L320.79 103.66 L321.00 103.44 L321.21 103.22 L321.41 102.99 L321.62 102.77 L321.82 102.55 L322.03 102.32 L322.23 102.10 L322.44 101.88 L322.65 101.65 L322.85 101.43 L323.06 101.20 L323.26 100.98 L323.47 100.76 L323.67 100.53 L323.88 100.31 L324.08 100.09 L324.29 99.86 L324.50 99.64 L324.70 99.42 L324.91 99.19 L325.11 98.97 L325.32 98.75 L325.52 98.52 L325.73 98.30 L325.94 98.08 L326.14 97.85 L326.35 97.63 L326.55 97.41 L326.76 97.18 L326.96 96.96 L327.17 96.73 L327.37 96.51 L327.58 96.29 L327.79 96.06 L327.99 95.84 L328.20 95.62 L328.40 95.39 L328.61 95.17 L328.81 94.95 L329.02 94.72 L329.23 94.50 L329.43 94.28 L329.64 94.05 L329.84 93.83 L330.05 93.61 L330.25 93.38 L330.46 93.16 L330.66 92.94 L330.87 92.71 L331.08 92.49 L331.28 92.26 L331.49 92.04 L331.69 91.82 L331.90 91.59 L332.10 91.37 L332.31 91.15 L332.52 90.92 L332.72 90.70 L332.93 90.48 L333.13 90.25 L333.34 90.03 L333.54 89.81 L333.75 89.58 L333.95 89.36 L334.16 89.14 L334.37 88.91 L334.57 88.69 L334.78 88.47 L334.98 88.24 L335.19 88.02 L335.39 87.79 L335.60 87.57 L335.81 87.35 L336.01 87.12 L336.22 86.90 L336.42 86.68 L336.63 86.45 L336.83 86.23 L337.04 86.01 L337.24 85.78 L337.45 85.56 L337.66 85.34 L337.86 85.11 L338.07 84.89 L338.27 84.67 L338.48 84.44 L338.68 84.22 L338.89 84.00 L339.10 83.77 L339.30 83.55 L339.51 83.32 L339.71 83.10 L339.92 82.88 L340.12 82.65 L340.33 82.43 L340.53 82.21 L340.74 81.98 L340.95 81.76 L341.15 81.54 L341.36 81.31 L341.56 81.09 L341.77 80.87 L341.97 80.64 L342.18 80.42 L342.39 80.20 L342.59 79.97 L342.80 79.75 L343.00 79.53 L343.21 79.30 L343.41 79.08 L343.62 78.85 L343.82 78.63 L344.03 78.41 L344.24 78.18 L344.44 77.96 L344.65 77.74 L344.85 77.51 L345.06 77.29 L345.26 77.07 L345.47 76.84 L345.68 76.62 L345.88 76.40 L346.09 76.17 L346.29 75.95 L346.50 75.73 L346.70 75.50 L346.91 75.28 L347.11 75.06 L347.32 74.83 L347.53 74.61 L347.73 74.38 L347.94 74.16 L348.14 73.94 L348.35 73.71 L348.55 73.49 L348.76 73.27 L348.97 73.04 L349.17 72.82 L349.38 72.60 L349.58 72.37 L349.79 72.15 L349.99 71.93 L350.20 71.70 L350.40 71.48 L350.61 71.26 L350.82 71.03 L351.02 70.81 L351.23 70.59 L351.43 70.36 L351.64 70.14 L351.84 69.91 L352.05 69.69 L352.25 69.47 L352.46 69.24 L352.67 69.02 L352.87 68.80 L353.08 68.57 L353.28 68.35 L353.49 68.13 L353.69 67.90 L353.90 67.68 L354.11 67.46 L354.31 67.23 L354.52 67.01 L354.72 66.79 L354.93 66.56 L355.13 66.34 L355.34 66.12 L355.55 65.89 L355.75 65.67 L355.96 65.44 L356.16 65.22 L356.37 65.00 L356.57 64.77 L356.78 64.55 L356.98 64.33 L357.19 64.10 L357.40 63.88 L357.60 63.66 L357.81 63.43 L358.01 63.21 L358.22 62.99 L358.42 62.76 L358.63 62.54 L358.84 62.32 L359.04 62.09 L359.25 61.87 L359.45 61.65 L359.66 61.42 L359.86 61.20 L360.07 60.97 L360.27 60.75 L360.48 60.53 L360.69 60.30 L360.89 60.08 L361.10 59.86 L361.30 59.63 L361.51 59.41 L361.71 59.19 L361.92 58.96 L362.12 58.74 L362.33 58.52 L362.54 58.29 L362.74 58.07 L362.95 57.85 L363.15 57.62 L363.36 57.40 L363.56 57.18 L363.77 56.95 L363.98 56.73 L364.18 56.50 L364.39 56.28 L364.59 56.06 L364.80 55.83 L365.00 55.61 L365.21 55.39 L365.42 55.16 L365.62 54.94 L365.83 54.72 L366.03 54.49 L366.24 54.27 L366.44 54.05 L366.65 53.82 L366.85 53.60 L367.06 53.38 L367.27 53.15 L367.47 52.93 L367.68 52.71 L367.88 52.48 L368.09 52.26 L368.29 52.03 L368.50 51.81 L368.71 51.59 L368.91 51.36 L369.12 51.14 L369.32 50.92 L369.53 50.69 L369.73 50.47 L369.94 50.25 L370.14 50.02 L370.35 49.80" stroke="#0000ff" stroke-width="1.80" stroke-dasharray="7.5 3.5" stroke-dashoffset="0.00"/>
</g>
<g clip-path="url(#c10)" fill="none">
<path d="M22.70 170.39 L22.92 170.73 L23.14 171.07 L23.36 171.41 L23.58 171.75 L23.80 172.08 L24.02 172.42 L24.25 172.76 L24.47 173.09 L24.69 173.43 L24.91 173.76 L25.13 174.10 L25.35 174.44 L25.57 174.77 L25.79 175.11 L26.01 175.44 L26.23 175.77 L26.45 176.11 L26.67 176.44 L26.89 176.78 L27.11 177.11 L27.34 177.44 L27.56 177.77 L27.78 178.11 L28.00 178.44 L28.22 178.77 L28.44 179.10 L28.66 179.44 L28.88 179.77 L29.10 180.10 L29.32 180.43 L29.54 180.76 L29.76 181.09 L29.98 181.42 L30.21 181.75 L30.43 182.08 L30.65 182.41 L30.87 182.74 L31.09 183.06 L31.31 183.39 L31.53 183.72 L31.75 184.05 L31.97 184.38 L32.19 184.70 L32.41 185.03 L32.63 185.36 L32.85 185.68 L33.08 186.01 L33.30 186.33 L33.52 186.66 L33.74 186.99 L33.96 187.31 L34.18 187.64 L34.40 187.96 L34.62 188.28 L34.84 188.61 L35.06 188.93 L35.28 189.25 L35.50 189.58 L35.72 189.90 L35.95 190.22 L36.17 190.54 L36.39 190.87 L36.61 191.19 L36.83 191.51 L37.05 191.83 L37.27 192.15 L37.49 192.47 L37.71 192.79 L37.93 193.11 L38.15 193.43 L38.37 193.75 L38.59 194.07 L38.81 194.39 L39.04 194.70 L39.26 195.02 L39.48 195.34 L39.70 195.66 L39.92 195.97 L40.14 196.29 L40.36 196.61 L40.58 196.92 L40.80 197.24 L41.02 197.55 L41.24 197.87 L41.46 198.18 L41.68 198.50 L41.91 198.81 L42.13 199.12 L42.35 199.44 L42.57 199.75 L42.79 200.06 L43.01 200.38 L43.23 200.69 L43.45 201.00 L43.67 201.31 L43.89 201.62 L44.11 201.93 L44.33 202.24 L44.55 202.55 L44.77 202.86 L45.00 203.17 L45.22 203.48 L45.44 203.79 L45.66 204.10 L45.88 204.41 L46.10 204.71 L46.32 205.02 L46.54 205.33 L46.76 205.63 L46.98 205.94 L47.20 206.25 L47.42 206.55 L47.64 206.86 L47.87 207.16 L48.09 207.47 L48.31 207.77 L48.53 208.07 L48.75 208.38 L48.97 208.68 L49.19 208.98 L49.41 209.28 L49.63 209.59 L49.85 209.89 L50.07 210.19 L50.29 210.49 L50.51 210.79 L50.74 211.09 L50.96 211.39 L51.18 211.69 L51.40 211.99 L51.62 212.29 L51.84 212.59 L52.06 212.88 L52.28 213.18 L52.50 213.48 L52.72 213.77 L52.94 214.07 L53.16 214.37 L53.38 214.66 L53.61 214.96 L53.83 215.25 L54.05 215.55 L54.27 215.84 L54.49 216.13 L54.71 216.43 L54.93 216.72 L55.15 217.01 L55.37 217.30 L55.59 217.60 L55.81 217.89 L56.03 218.18 L56.25 218.47 L56.47 218.76 L56.70 219.05 L56.92 219.34 L57.14 219.62 L57.36 219.91 L57.58 220.20 L57.80 220.49 L58.02 220.78 L58.24 221.06 L58.46 221.35 L58.68 221.63 L58.90 221.92 L59.12 222.20 L59.34 222.49 L59.57 222.77 L59.79 223.06 L60.01 223.34 L60.23 223.62 L60.45 223.90 L60.67 224.19 L60.89 224.47 L61.11 224.75 L61.33 225.03 L61.55 225.31 L61.77 225.59 L61.99 225.87 L62.21 226.15 L62.44 226.43 L62.66 226.70 L62.88 226.98 L63.10 227.26 L63.32 227.53 L63.54 227.81 L63.76 228.09 L63.98 228.36 L64.20 228.64 L64.42 228.91 L64.64 229.18 L64.86 229.46 L65.08 229.73 L65.30 230.00 L65.53 230.27 L65.75 230.55 L65.97 230.82 L66.19 231.09 L66.41 231.36 L66.63 231.63 L66.85 231.90 L67.07 232.16 L67.29 232.43 L67.51 232.70 L67.73 232.97 L67.95 233.23 L68.17 233.50 L68.40 233.77 L68.62 234.03 L68.84 234.30 L69.06 234.56 L69.28 234.82 L69.50 235.09 L69.72 235.35 L69.94 235.61 L70.16 235.87 L70.38 236.13 L70.60 236.39 L70.82 236.65 L71.04 236.91 L71.27 237.17 L71.49 237.43 L71.71 237.69 L71.93 237.95 L72.15 238.20 L72.37 238.46 L72.59 238.72 L72.81 238.97 L73.03 239.23 L73.25 239.48 L73.47 239.73 L73.69 239.99 L73.91 240.24 L74.13 240.49 L74.36 240.74 L74.58 241.00 L74.80 241.25 L75.02 241.50 L75.24 241.75 L75.46 241.99 L75.68 242.24 L75.90 242.49 L76.12 242.74 L76.34 242.98 L76.56 243.23 L76.78 243.48 L77.00 243.72 L77.23 243.97 L77.45 244.21 L77.67 244.45 L77.89 244.70 L78.11 244.94 L78.33 245.18 L78.55 245.42 L78.77 245.66 L78.99 245.90 L79.21 246.14 L79.43 246.38 L79.65 246.62 L79.87 246.85 L80.09 247.09 L80.32 247.33 L80.54 247.56 L80.76 247.80 L80.98 248.03 L81.20 248.27 L81.42 248.50 L81.64 248.73 L81.86 248.96 L82.08 249.20 L82.30 249.43 L82.52 249.66 L82.74 249.89 L82.96 250.12 L83.19 250.34 L83.41 250.57 L83.63 250.80 L83.85 251.03 L84.07 251.25 L84.29 251.48 L84.51 251.70 L84.73 251.93 L84.95 252.15 L85.17 252.37 L85.39 252.59 L85.61 252.81 L85.83 253.04 L86.06 253.26 L86.28 253.47 L86.50 253.69 L86.72 253.91 L86.94 254.13 L87.16 254.35 L87.38 254.56 L87.60 254.78 L87.82 254.99 L88.04 255.21 L88.26 255.42 L88.48 255.63 L88.70 255.84 L88.92 256.06 L89.15 256.27 L89.37 256.48 L89.59 256.69 L89.81 256.89 L90.03 257.10 L90.25 257.31 L90.47 257.52 L90.69 257.72 L90.91 257.93 L91.13 258.13 L91.35 258.34 L91.57 258.54 L91.79 258.74 L92.02 258.94 L92.24 259.14 L92.46 259.34 L92.68 259.54 L92.90 259.74 L93.12 259.94 L93.34 260.14 L93.56 260.33 L93.78 260.53 L94.00 260.72 L94.22 260.92 L94.44 261.11 L94.66 261.30 L94.89 261.50 L95.11 261.69 L95.33 261.88 L95.55 262.07 L95.77 262.26 L95.99 262.45 L96.21 262.63 L96.43 262.82 L96.65 263.01 L96.87 263.19 L97.09 263.38 L97.31 263.56 L97.53 263.74 L97.75 263.92 L97.98 264.10 L98.20 264.29 L98.42 264.46 L98.64 264.64 L98.86 264.82 L99.08 265.00 L99.30 265.18 L99.52 265.35 L99.74 265.53 L99.96 265.70 L100.18 265.87 L100.40 266.05 L100.62 266.22 L100.85 266.39 L101.07 266.56 L101.29 266.73 L101.51 266.90 L101.73 267.06 L101.95 267.23 L102.17 267.40 L102.39 267.56 L102.61 267.72 L102.83 267.89 L103.05 268.05 L103.27 268.21 L103.49 268.37 L103.72 268.53 L103.94 268.69 L104.16 268.85 L104.38 269.01 L104.60 269.16 L104.82 269.32 L105.04 269.47 L105.26 269.63 L105.48 269.78 L105.70 269.93 L105.92 270.08 L106.14 270.23 L106.36 270.38 L106.59 270.53 L106.81 270.68 L107.03 270.82 L107.25 270.97 L107.47 271.11 L107.69 271.26 L107.91 271.40 L108.13 271.54 L108.35 271.68 L108.57 271.82 L108.79 271.96 L109.01 272.10 L109.23 272.24 L109.45 272.37 L109.68 272.51 L109.90 272.64 L110.12 272.78 L110.34 272.91 L110.56 273.04 L110.78 273.17 L111.00 273.30" stroke="#000" stroke-width="1.70" stroke-dasharray="10.8 3.9" stroke-dashoffset="0.48"/>
<path d="M22.70 242.27 L22.92 242.06 L23.14 241.85 L23.36 241.64 L23.58 241.43 L23.80 241.23 L24.02 241.02 L24.25 240.82 L24.47 240.61 L24.69 240.41 L24.91 240.21 L25.13 240.01 L25.35 239.82 L25.57 239.62 L25.79 239.42 L26.01 239.23 L26.23 239.04 L26.45 238.85 L26.67 238.66 L26.89 238.47 L27.11 238.28 L27.34 238.09 L27.56 237.90 L27.78 237.72 L28.00 237.54 L28.22 237.35 L28.44 237.17 L28.66 236.99 L28.88 236.81 L29.10 236.64 L29.32 236.46 L29.54 236.28 L29.76 236.11 L29.98 235.94 L30.21 235.77 L30.43 235.59 L30.65 235.42 L30.87 235.26 L31.09 235.09 L31.31 234.92 L31.53 234.76 L31.75 234.59 L31.97 234.43 L32.19 234.27 L32.41 234.11 L32.63 233.95 L32.85 233.79 L33.08 233.63 L33.30 233.48 L33.52 233.32 L33.74 233.17 L33.96 233.02 L34.18 232.86 L34.40 232.71 L34.62 232.56 L34.84 232.42 L35.06 232.27 L35.28 232.12 L35.50 231.98 L35.72 231.83 L35.95 231.69 L36.17 231.55 L36.39 231.41 L36.61 231.27 L36.83 231.13 L37.05 230.99 L37.27 230.86 L37.49 230.72 L37.71 230.59 L37.93 230.46 L38.15 230.32 L38.37 230.19 L38.59 230.06 L38.81 229.93 L39.04 229.81 L39.26 229.68 L39.48 229.55 L39.70 229.43 L39.92 229.31 L40.14 229.18 L40.36 229.06 L40.58 228.94 L40.80 228.82 L41.02 228.71 L41.24 228.59 L41.46 228.47 L41.68 228.36 L41.91 228.24 L42.13 228.13 L42.35 228.02 L42.57 227.91 L42.79 227.80 L43.01 227.69 L43.23 227.58 L43.45 227.48 L43.67 227.37 L43.89 227.27 L44.11 227.16 L44.33 227.06 L44.55 226.96 L44.77 226.86 L45.00 226.76 L45.22 226.66 L45.44 226.57 L45.66 226.47 L45.88 226.38 L46.10 226.28 L46.32 226.19 L46.54 226.10 L46.76 226.01 L46.98 225.92 L47.20 225.83 L47.42 225.74 L47.64 225.65 L47.87 225.57 L48.09 225.48 L48.31 225.40 L48.53 225.32 L48.75 225.23 L48.97 225.15 L49.19 225.07 L49.41 225.00 L49.63 224.92 L49.85 224.84 L50.07 224.77 L50.29 224.69 L50.51 224.62 L50.74 224.54 L50.96 224.47 L51.18 224.40 L51.40 224.33 L51.62 224.26 L51.84 224.20 L52.06 224.13 L52.28 224.07 L52.50 224.00 L52.72 223.94 L52.94 223.87 L53.16 223.81 L53.38 223.75 L53.61 223.69 L53.83 223.63 L54.05 223.58 L54.27 223.52 L54.49 223.46 L54.71 223.41 L54.93 223.36 L55.15 223.30 L55.37 223.25 L55.59 223.20 L55.81 223.15 L56.03 223.10 L56.25 223.06 L56.47 223.01 L56.70 222.96 L56.92 222.92 L57.14 222.88 L57.36 222.83 L57.58 222.79 L57.80 222.75 L58.02 222.71 L58.24 222.67 L58.46 222.63 L58.68 222.60 L58.90 222.56 L59.12 222.53 L59.34 222.49 L59.57 222.46 L59.79 222.43 L60.01 222.40 L60.23 222.37 L60.45 222.34 L60.67 222.31 L60.89 222.29 L61.11 222.26 L61.33 222.23 L61.55 222.21 L61.77 222.19 L61.99 222.17 L62.21 222.14 L62.44 222.12 L62.66 222.11 L62.88 222.09 L63.10 222.07 L63.32 222.05 L63.54 222.04 L63.76 222.02 L63.98 222.01 L64.20 222.00 L64.42 221.99 L64.64 221.98 L64.86 221.97 L65.08 221.96 L65.30 221.95 L65.53 221.95 L65.75 221.94 L65.97 221.94 L66.19 221.93 L66.41 221.93 L66.63 221.93 L66.85 221.93 L67.07 221.93 L67.29 221.93 L67.51 221.93 L67.73 221.94 L67.95 221.94 L68.17 221.95 L68.40 221.95 L68.62 221.96 L68.84 221.97 L69.06 221.98 L69.28 221.99 L69.50 222.00 L69.72 222.01 L69.94 222.02 L70.16 222.04 L70.38 222.05 L70.60 222.07 L70.82 222.09 L71.04 222.11 L71.27 222.12 L71.49 222.14 L71.71 222.17 L71.93 222.19 L72.15 222.21 L72.37 222.23 L72.59 222.26 L72.81 222.29 L73.03 222.31 L73.25 222.34 L73.47 222.37 L73.69 222.40 L73.91 222.43 L74.13 222.46 L74.36 222.49 L74.58 222.53 L74.80 222.56 L75.02 222.60 L75.24 222.63 L75.46 222.67 L75.68 222.71 L75.90 222.75 L76.12 222.79 L76.34 222.83 L76.56 222.88 L76.78 222.92 L77.00 222.96 L77.23 223.01 L77.45 223.06 L77.67 223.10 L77.89 223.15 L78.11 223.20 L78.33 223.25 L78.55 223.30 L78.77 223.36 L78.99 223.41 L79.21 223.46 L79.43 223.52 L79.65 223.58 L79.87 223.63 L80.09 223.69 L80.32 223.75 L80.54 223.81 L80.76 223.87 L80.98 223.94 L81.20 224.00 L81.42 224.07 L81.64 224.13 L81.86 224.20 L82.08 224.26 L82.30 224.33 L82.52 224.40 L82.74 224.47 L82.96 224.54 L83.19 224.62 L83.41 224.69 L83.63 224.77 L83.85 224.84 L84.07 224.92 L84.29 225.00 L84.51 225.07 L84.73 225.15 L84.95 225.23 L85.17 225.32 L85.39 225.40 L85.61 225.48 L85.83 225.57 L86.06 225.65 L86.28 225.74 L86.50 225.83 L86.72 225.92 L86.94 226.01 L87.16 226.10 L87.38 226.19 L87.60 226.28 L87.82 226.38 L88.04 226.47 L88.26 226.57 L88.48 226.66 L88.70 226.76 L88.92 226.86 L89.15 226.96 L89.37 227.06 L89.59 227.16 L89.81 227.27 L90.03 227.37 L90.25 227.48 L90.47 227.58 L90.69 227.69 L90.91 227.80 L91.13 227.91 L91.35 228.02 L91.57 228.13 L91.79 228.24 L92.02 228.36 L92.24 228.47 L92.46 228.59 L92.68 228.71 L92.90 228.82 L93.12 228.94 L93.34 229.06 L93.56 229.18 L93.78 229.31 L94.00 229.43 L94.22 229.55 L94.44 229.68 L94.66 229.81 L94.89 229.93 L95.11 230.06 L95.33 230.19 L95.55 230.32 L95.77 230.46 L95.99 230.59 L96.21 230.72 L96.43 230.86 L96.65 230.99 L96.87 231.13 L97.09 231.27 L97.31 231.41 L97.53 231.55 L97.75 231.69 L97.98 231.83 L98.20 231.98 L98.42 232.12 L98.64 232.27 L98.86 232.42 L99.08 232.56 L99.30 232.71 L99.52 232.86 L99.74 233.02 L99.96 233.17 L100.18 233.32 L100.40 233.48 L100.62 233.63 L100.85 233.79 L101.07 233.95 L101.29 234.11 L101.51 234.27 L101.73 234.43 L101.95 234.59 L102.17 234.76 L102.39 234.92 L102.61 235.09 L102.83 235.26 L103.05 235.42 L103.27 235.59 L103.49 235.77 L103.72 235.94 L103.94 236.11 L104.16 236.28 L104.38 236.46 L104.60 236.64 L104.82 236.81 L105.04 236.99 L105.26 237.17 L105.48 237.35 L105.70 237.54 L105.92 237.72 L106.14 237.90 L106.36 238.09 L106.59 238.28 L106.81 238.47 L107.03 238.66 L107.25 238.85 L107.47 239.04 L107.69 239.23 L107.91 239.42 L108.13 239.62 L108.35 239.82 L108.57 240.01 L108.79 240.21 L109.01 240.41 L109.23 240.61 L109.45 240.82 L109.68 241.02 L109.90 241.23 L110.12 241.43 L110.34 241.64 L110.56 241.85 L110.78 242.06 L111.00 242.27" stroke="#ff0000" stroke-width="1.60"/>
<path d="M22.70 273.30 L22.92 273.17 L23.14 273.04 L23.36 272.91 L23.58 272.78 L23.80 272.64 L24.02 272.51 L24.25 272.37 L24.47 272.24 L24.69 272.10 L24.91 271.96 L25.13 271.82 L25.35 271.68 L25.57 271.54 L25.79 271.40 L26.01 271.26 L26.23 271.11 L26.45 270.97 L26.67 270.82 L26.89 270.68 L27.11 270.53 L27.34 270.38 L27.56 270.23 L27.78 270.08 L28.00 269.93 L28.22 269.78 L28.44 269.63 L28.66 269.47 L28.88 269.32 L29.10 269.16 L29.32 269.01 L29.54 268.85 L29.76 268.69 L29.98 268.53 L30.21 268.37 L30.43 268.21 L30.65 268.05 L30.87 267.89 L31.09 267.72 L31.31 267.56 L31.53 267.40 L31.75 267.23 L31.97 267.06 L32.19 266.90 L32.41 266.73 L32.63 266.56 L32.85 266.39 L33.08 266.22 L33.30 266.05 L33.52 265.87 L33.74 265.70 L33.96 265.53 L34.18 265.35 L34.40 265.18 L34.62 265.00 L34.84 264.82 L35.06 264.64 L35.28 264.46 L35.50 264.29 L35.72 264.10 L35.95 263.92 L36.17 263.74 L36.39 263.56 L36.61 263.38 L36.83 263.19 L37.05 263.01 L37.27 262.82 L37.49 262.63 L37.71 262.45 L37.93 262.26 L38.15 262.07 L38.37 261.88 L38.59 261.69 L38.81 261.50 L39.04 261.30 L39.26 261.11 L39.48 260.92 L39.70 260.72 L39.92 260.53 L40.14 260.33 L40.36 260.14 L40.58 259.94 L40.80 259.74 L41.02 259.54 L41.24 259.34 L41.46 259.14 L41.68 258.94 L41.91 258.74 L42.13 258.54 L42.35 258.34 L42.57 258.13 L42.79 257.93 L43.01 257.72 L43.23 257.52 L43.45 257.31 L43.67 257.10 L43.89 256.89 L44.11 256.69 L44.33 256.48 L44.55 256.27 L44.77 256.06 L45.00 255.84 L45.22 255.63 L45.44 255.42 L45.66 255.21 L45.88 254.99 L46.10 254.78 L46.32 254.56 L46.54 254.35 L46.76 254.13 L46.98 253.91 L47.20 253.69 L47.42 253.47 L47.64 253.26 L47.87 253.04 L48.09 252.81 L48.31 252.59 L48.53 252.37 L48.75 252.15 L48.97 251.93 L49.19 251.70 L49.41 251.48 L49.63 251.25 L49.85 251.03 L50.07 250.80 L50.29 250.57 L50.51 250.34 L50.74 250.12 L50.96 249.89 L51.18 249.66 L51.40 249.43 L51.62 249.20 L51.84 248.96 L52.06 248.73 L52.28 248.50 L52.50 248.27 L52.72 248.03 L52.94 247.80 L53.16 247.56 L53.38 247.33 L53.61 247.09 L53.83 246.85 L54.05 246.62 L54.27 246.38 L54.49 246.14 L54.71 245.90 L54.93 245.66 L55.15 245.42 L55.37 245.18 L55.59 244.94 L55.81 244.70 L56.03 244.45 L56.25 244.21 L56.47 243.97 L56.70 243.72 L56.92 243.48 L57.14 243.23 L57.36 242.98 L57.58 242.74 L57.80 242.49 L58.02 242.24 L58.24 241.99 L58.46 241.75 L58.68 241.50 L58.90 241.25 L59.12 241.00 L59.34 240.74 L59.57 240.49 L59.79 240.24 L60.01 239.99 L60.23 239.73 L60.45 239.48 L60.67 239.23 L60.89 238.97 L61.11 238.72 L61.33 238.46 L61.55 238.20 L61.77 237.95 L61.99 237.69 L62.21 237.43 L62.44 237.17 L62.66 236.91 L62.88 236.65 L63.10 236.39 L63.32 236.13 L63.54 235.87 L63.76 235.61 L63.98 235.35 L64.20 235.09 L64.42 234.82 L64.64 234.56 L64.86 234.30 L65.08 234.03 L65.30 233.77 L65.53 233.50 L65.75 233.23 L65.97 232.97 L66.19 232.70 L66.41 232.43 L66.63 232.16 L66.85 231.90 L67.07 231.63 L67.29 231.36 L67.51 231.09 L67.73 230.82 L67.95 230.55 L68.17 230.27 L68.40 230.00 L68.62 229.73 L68.84 229.46 L69.06 229.18 L69.28 228.91 L69.50 228.64 L69.72 228.36 L69.94 228.09 L70.16 227.81 L70.38 227.53 L70.60 227.26 L70.82 226.98 L71.04 226.70 L71.27 226.43 L71.49 226.15 L71.71 225.87 L71.93 225.59 L72.15 225.31 L72.37 225.03 L72.59 224.75 L72.81 224.47 L73.03 224.19 L73.25 223.90 L73.47 223.62 L73.69 223.34 L73.91 223.06 L74.13 222.77 L74.36 222.49 L74.58 222.20 L74.80 221.92 L75.02 221.63 L75.24 221.35 L75.46 221.06 L75.68 220.78 L75.90 220.49 L76.12 220.20 L76.34 219.91 L76.56 219.62 L76.78 219.34 L77.00 219.05 L77.23 218.76 L77.45 218.47 L77.67 218.18 L77.89 217.89 L78.11 217.60 L78.33 217.30 L78.55 217.01 L78.77 216.72 L78.99 216.43 L79.21 216.13 L79.43 215.84 L79.65 215.55 L79.87 215.25 L80.09 214.96 L80.32 214.66 L80.54 214.37 L80.76 214.07 L80.98 213.77 L81.20 213.48 L81.42 213.18 L81.64 212.88 L81.86 212.59 L82.08 212.29 L82.30 211.99 L82.52 211.69 L82.74 211.39 L82.96 211.09 L83.19 210.79 L83.41 210.49 L83.63 210.19 L83.85 209.89 L84.07 209.59 L84.29 209.28 L84.51 208.98 L84.73 208.68 L84.95 208.38 L85.17 208.07 L85.39 207.77 L85.61 207.47 L85.83 207.16 L86.06 206.86 L86.28 206.55 L86.50 206.25 L86.72 205.94 L86.94 205.63 L87.16 205.33 L87.38 205.02 L87.60 204.71 L87.82 204.41 L88.04 204.10 L88.26 203.79 L88.48 203.48 L88.70 203.17 L88.92 202.86 L89.15 202.55 L89.37 202.24 L89.59 201.93 L89.81 201.62 L90.03 201.31 L90.25 201.00 L90.47 200.69 L90.69 200.38 L90.91 200.06 L91.13 199.75 L91.35 199.44 L91.57 199.12 L91.79 198.81 L92.02 198.50 L92.24 198.18 L92.46 197.87 L92.68 197.55 L92.90 197.24 L93.12 196.92 L93.34 196.61 L93.56 196.29 L93.78 195.97 L94.00 195.66 L94.22 195.34 L94.44 195.02 L94.66 194.70 L94.89 194.39 L95.11 194.07 L95.33 193.75 L95.55 193.43 L95.77 193.11 L95.99 192.79 L96.21 192.47 L96.43 192.15 L96.65 191.83 L96.87 191.51 L97.09 191.19 L97.31 190.87 L97.53 190.54 L97.75 190.22 L97.98 189.90 L98.20 189.58 L98.42 189.25 L98.64 188.93 L98.86 188.61 L99.08 188.28 L99.30 187.96 L99.52 187.64 L99.74 187.31 L99.96 186.99 L100.18 186.66 L100.40 186.33 L100.62 186.01 L100.85 185.68 L101.07 185.36 L101.29 185.03 L101.51 184.70 L101.73 184.38 L101.95 184.05 L102.17 183.72 L102.39 183.39 L102.61 183.06 L102.83 182.74 L103.05 182.41 L103.27 182.08 L103.49 181.75 L103.72 181.42 L103.94 181.09 L104.16 180.76 L104.38 180.43 L104.60 180.10 L104.82 179.77 L105.04 179.44 L105.26 179.10 L105.48 178.77 L105.70 178.44 L105.92 178.11 L106.14 177.77 L106.36 177.44 L106.59 177.11 L106.81 176.78 L107.03 176.44 L107.25 176.11 L107.47 175.77 L107.69 175.44 L107.91 175.11 L108.13 174.77 L108.35 174.44 L108.57 174.10 L108.79 173.76 L109.01 173.43 L109.23 173.09 L109.45 172.76 L109.68 172.42 L109.90 172.08 L110.12 171.75 L110.34 171.41 L110.56 171.07 L110.78 170.73 L111.00 170.39" stroke="#0000ff" stroke-width="1.80" stroke-dasharray="7.5 3.5" stroke-dashoffset="1.16"/>
</g>
<g clip-path="url(#c11)" fill="none">
<path d="M111.00 94.50 L111.22 94.50 L111.44 94.50 L111.67 94.50 L111.89 94.50 L112.11 94.50 L112.33 94.50 L112.55 94.50 L112.78 94.50 L113.00 94.50 L113.22 94.50 L113.44 94.50 L113.66 94.50 L113.89 94.50 L114.11 94.50 L114.33 94.50 L114.55 94.50 L114.77 94.50 L115.00 94.50 L115.22 94.50 L115.44 94.50 L115.66 94.50 L115.88 94.50 L116.11 94.50 L116.33 94.50 L116.55 94.50 L116.77 94.50 L116.99 94.50 L117.22 94.50 L117.44 96.86 L117.66 99.47 L117.88 102.04 L118.10 104.57 L118.33 107.07 L118.55 109.52 L118.77 111.95 L118.99 114.33 L119.21 116.69 L119.44 119.00 L119.66 121.29 L119.88 123.54 L120.10 125.75 L120.32 127.94 L120.55 130.09 L120.77 132.21 L120.99 134.31 L121.21 136.37 L121.43 138.40 L121.66 140.40 L121.88 142.37 L122.10 144.31 L122.32 146.22 L122.54 148.11 L122.77 149.97 L122.99 151.80 L123.21 153.60 L123.43 155.38 L123.65 157.14 L123.88 158.86 L124.10 160.56 L124.32 162.24 L124.54 163.89 L124.76 165.52 L124.99 167.12 L125.21 168.70 L125.43 170.26 L125.65 171.80 L125.87 173.31 L126.10 174.80 L126.32 176.27 L126.54 177.71 L126.76 179.14 L126.98 180.54 L127.21 181.93 L127.43 183.29 L127.65 184.64 L127.87 185.96 L128.09 187.27 L128.32 188.55 L128.54 189.82 L128.76 191.07 L128.98 192.30 L129.20 193.51 L129.43 194.71 L129.65 195.88 L129.87 197.04 L130.09 198.19 L130.31 199.31 L130.54 200.42 L130.76 201.52 L130.98 202.59 L131.20 203.65 L131.42 204.70 L131.65 205.73 L131.87 206.75 L132.09 207.75 L132.31 208.73 L132.53 209.71 L132.76 210.66 L132.98 211.61 L133.20 212.54 L133.42 213.45 L133.64 214.35 L133.87 215.24 L134.09 216.12 L134.31 216.98 L134.53 217.83 L134.75 218.67 L134.98 219.50 L135.20 220.31 L135.42 221.11 L135.64 221.90 L135.86 222.68 L136.09 223.45 L136.31 224.21 L136.53 224.95 L136.75 225.68 L136.97 226.41 L137.20 227.12 L137.42 227.82 L137.64 228.51 L137.86 229.20 L138.08 229.87 L138.31 230.53 L138.53 231.18 L138.75 231.82 L138.97 232.46 L139.19 233.08 L139.42 233.69 L139.64 234.30 L139.86 234.90 L140.08 235.48 L140.30 236.06 L140.53 236.63 L140.75 237.20 L140.97 237.75 L141.19 238.29 L141.41 238.83 L141.64 239.36 L141.86 239.88 L142.08 240.40 L142.30 240.91 L142.52 241.40 L142.75 241.90 L142.97 242.38 L143.19 242.86 L143.41 243.33 L143.63 243.79 L143.86 244.25 L144.08 244.70 L144.30 245.14 L144.52 245.58 L144.74 246.01 L144.97 246.43 L145.19 246.85 L145.41 247.26 L145.63 247.67 L145.85 248.07 L146.08 248.46 L146.30 248.85 L146.52 249.23 L146.74 249.61 L146.96 249.98 L147.19 250.34 L147.41 250.70 L147.63 251.06 L147.85 251.41 L148.07 251.75 L148.30 252.09 L148.52 252.42 L148.74 252.75 L148.96 253.08 L149.18 253.40 L149.41 253.71 L149.63 254.02 L149.85 254.33 L150.07 254.63 L150.29 254.92 L150.52 255.22 L150.74 255.50 L150.96 255.79 L151.18 256.07 L151.40 256.34 L151.63 256.61 L151.85 256.88 L152.07 257.14 L152.29 257.40 L152.51 257.66 L152.74 257.91 L152.96 258.16 L153.18 258.40 L153.40 258.64 L153.62 258.88 L153.85 259.11 L154.07 259.34 L154.29 259.56 L154.51 259.79 L154.73 260.01 L154.96 260.22 L155.18 260.44 L155.40 260.65 L155.62 260.85 L155.84 261.06 L156.07 261.26 L156.29 261.45 L156.51 261.65 L156.73 261.84 L156.95 262.03 L157.18 262.22 L157.40 262.40 L157.62 262.58 L157.84 262.76 L158.06 262.93 L158.29 263.10 L158.51 263.27 L158.73 263.44 L158.95 263.61 L159.17 263.77 L159.40 263.93 L159.62 264.09 L159.84 264.24 L160.06 264.39 L160.28 264.54 L160.51 264.69 L160.73 264.84 L160.95 264.98 L161.17 265.12 L161.39 265.26 L161.62 265.40 L161.84 265.53 L162.06 265.67 L162.28 265.80 L162.50 265.93 L162.73 266.05 L162.95 266.18 L163.17 266.30 L163.39 266.42 L163.61 266.54 L163.84 266.66 L164.06 266.78 L164.28 266.89 L164.50 267.00 L164.72 267.11 L164.95 267.22 L165.17 267.33 L165.39 267.44 L165.61 267.54 L165.83 267.64 L166.06 267.74 L166.28 267.84 L166.50 267.94 L166.72 268.04 L166.94 268.13 L167.17 268.22 L167.39 268.32 L167.61 268.41 L167.83 268.50 L168.05 268.58 L168.28 268.67 L168.50 268.75 L168.72 268.84 L168.94 268.92 L169.16 269.00 L169.39 269.08 L169.61 269.16 L169.83 269.24 L170.05 269.31 L170.27 269.39 L170.50 269.46 L170.72 269.53 L170.94 269.61 L171.16 269.68 L171.38 269.74 L171.61 269.81 L171.83 269.88 L172.05 269.95 L172.27 270.01 L172.49 270.07 L172.72 270.14 L172.94 270.20 L173.16 270.26 L173.38 270.32 L173.60 270.38 L173.83 270.44 L174.05 270.49 L174.27 270.55 L174.49 270.61 L174.71 270.66 L174.94 270.71 L175.16 270.77 L175.38 270.82 L175.60 270.87 L175.82 270.92 L176.05 270.97 L176.27 271.02 L176.49 271.06 L176.71 271.11 L176.93 271.16 L177.16 271.20 L177.38 271.25 L177.60 271.29 L177.82 271.33 L178.04 271.38 L178.27 271.42 L178.49 271.46 L178.71 271.50 L178.93 271.54 L179.15 271.58 L179.38 271.62 L179.60 271.66 L179.82 271.69 L180.04 271.73 L180.26 271.76 L180.49 271.80 L180.71 271.83 L180.93 271.87 L181.15 271.90 L181.37 271.94 L181.60 271.97 L181.82 272.00 L182.04 272.03 L182.26 272.06 L182.48 272.09 L182.71 272.12 L182.93 272.15 L183.15 272.18 L183.37 272.21 L183.59 272.23 L183.82 272.26 L184.04 272.29 L184.26 272.32 L184.48 272.34 L184.70 272.37 L184.93 272.39 L185.15 272.42 L185.37 272.44 L185.59 272.46 L185.81 272.49 L186.04 272.51 L186.26 272.53 L186.48 272.55 L186.70 272.57 L186.92 272.60 L187.15 272.62 L187.37 272.64 L187.59 272.66 L187.81 272.68 L188.03 272.69 L188.26 272.71 L188.48 272.73 L188.70 272.75 L188.92 272.77 L189.14 272.79 L189.37 272.80 L189.59 272.82 L189.81 272.84 L190.03 272.85 L190.25 272.87 L190.48 272.88 L190.70 272.90 L190.92 272.91 L191.14 272.93 L191.36 272.94 L191.59 272.96 L191.81 272.97 L192.03 272.98 L192.25 273.00 L192.47 273.01 L192.70 273.02 L192.92 273.03 L193.14 273.04 L193.36 273.06 L193.58 273.07 L193.81 273.08 L194.03 273.09 L194.25 273.10 L194.47 273.11 L194.69 273.12 L194.92 273.13 L195.14 273.14 L195.36 273.15 L195.58 273.16 L195.80 273.17 L196.03 273.18 L196.25 273.19 L196.47 273.20 L196.69 273.20 L196.91 273.21 L197.14 273.22 L197.36 273.23 L197.58 273.24 L197.80 273.24 L198.02 273.25 L198.25 273.26 L198.47 273.26 L198.69 273.27 L198.91 273.28 L199.13 273.28 L199.36 273.29 L199.58 273.29 L199.80 273.30" stroke="#000" stroke-width="1.70" stroke-dasharray="10.8 3.9" stroke-dashoffset="7.71"/>
<path d="M111.00 246.80 L111.22 246.40 L111.44 246.01 L111.67 245.62 L111.89 245.24 L112.11 244.86 L112.33 244.49 L112.55 244.13 L112.78 243.77 L113.00 243.42 L113.22 243.07 L113.44 242.72 L113.66 242.38 L113.89 242.05 L114.11 241.72 L114.33 241.40 L114.55 241.08 L114.77 240.76 L115.00 240.45 L115.22 240.15 L115.44 239.85 L115.66 239.55 L115.88 239.26 L116.11 238.97 L116.33 238.69 L116.55 238.41 L116.77 238.13 L116.99 237.86 L117.22 237.59 L117.44 237.33 L117.66 237.07 L117.88 236.81 L118.10 236.56 L118.33 236.31 L118.55 236.07 L118.77 235.83 L118.99 235.59 L119.21 235.36 L119.44 235.13 L119.66 234.90 L119.88 234.68 L120.10 234.45 L120.32 234.24 L120.55 234.02 L120.77 233.81 L120.99 233.61 L121.21 233.40 L121.43 233.20 L121.66 233.00 L121.88 232.81 L122.10 232.61 L122.32 232.42 L122.54 232.24 L122.77 232.05 L122.99 231.87 L123.21 231.69 L123.43 231.52 L123.65 231.34 L123.88 231.17 L124.10 231.01 L124.32 230.84 L124.54 230.68 L124.76 230.52 L124.99 230.36 L125.21 230.20 L125.43 230.05 L125.65 229.90 L125.87 229.75 L126.10 229.60 L126.32 229.46 L126.54 229.32 L126.76 229.18 L126.98 229.04 L127.21 228.90 L127.43 228.77 L127.65 228.64 L127.87 228.51 L128.09 228.38 L128.32 228.26 L128.54 228.13 L128.76 228.01 L128.98 227.89 L129.20 227.77 L129.43 227.66 L129.65 227.54 L129.87 227.43 L130.09 227.32 L130.31 227.21 L130.54 227.10 L130.76 227.00 L130.98 226.89 L131.20 226.79 L131.42 226.69 L131.65 226.59 L131.87 226.49 L132.09 226.40 L132.31 226.30 L132.53 226.21 L132.76 226.12 L132.98 226.03 L133.20 225.94 L133.42 225.85 L133.64 225.76 L133.87 225.68 L134.09 225.60 L134.31 225.52 L134.53 225.43 L134.75 225.36 L134.98 225.28 L135.20 225.20 L135.42 225.13 L135.64 225.05 L135.86 224.98 L136.09 224.91 L136.31 224.84 L136.53 224.77 L136.75 224.70 L136.97 224.64 L137.20 224.57 L137.42 224.51 L137.64 224.44 L137.86 224.38 L138.08 224.32 L138.31 224.26 L138.53 224.20 L138.75 224.14 L138.97 224.09 L139.19 224.03 L139.42 223.98 L139.64 223.92 L139.86 223.87 L140.08 223.82 L140.30 223.77 L140.53 223.72 L140.75 223.67 L140.97 223.62 L141.19 223.57 L141.41 223.53 L141.64 223.48 L141.86 223.44 L142.08 223.40 L142.30 223.35 L142.52 223.31 L142.75 223.27 L142.97 223.23 L143.19 223.19 L143.41 223.16 L143.63 223.12 L143.86 223.08 L144.08 223.05 L144.30 223.01 L144.52 222.98 L144.74 222.94 L144.97 222.91 L145.19 222.88 L145.41 222.85 L145.63 222.82 L145.85 222.79 L146.08 222.76 L146.30 222.73 L146.52 222.71 L146.74 222.68 L146.96 222.66 L147.19 222.63 L147.41 222.61 L147.63 222.58 L147.85 222.56 L148.07 222.54 L148.30 222.52 L148.52 222.50 L148.74 222.48 L148.96 222.46 L149.18 222.44 L149.41 222.42 L149.63 222.41 L149.85 222.39 L150.07 222.37 L150.29 222.36 L150.52 222.34 L150.74 222.33 L150.96 222.32 L151.18 222.30 L151.40 222.29 L151.63 222.28 L151.85 222.27 L152.07 222.26 L152.29 222.25 L152.51 222.24 L152.74 222.24 L152.96 222.23 L153.18 222.22 L153.40 222.22 L153.62 222.21 L153.85 222.21 L154.07 222.20 L154.29 222.20 L154.51 222.20 L154.73 222.19 L154.96 222.19 L155.18 222.19 L155.40 222.19 L155.62 222.19 L155.84 222.19 L156.07 222.19 L156.29 222.20 L156.51 222.20 L156.73 222.20 L156.95 222.21 L157.18 222.21 L157.40 222.22 L157.62 222.22 L157.84 222.23 L158.06 222.24 L158.29 222.24 L158.51 222.25 L158.73 222.26 L158.95 222.27 L159.17 222.28 L159.40 222.29 L159.62 222.30 L159.84 222.32 L160.06 222.33 L160.28 222.34 L160.51 222.36 L160.73 222.37 L160.95 222.39 L161.17 222.41 L161.39 222.42 L161.62 222.44 L161.84 222.46 L162.06 222.48 L162.28 222.50 L162.50 222.52 L162.73 222.54 L162.95 222.56 L163.17 222.58 L163.39 222.61 L163.61 222.63 L163.84 222.66 L164.06 222.68 L164.28 222.71 L164.50 222.73 L164.72 222.76 L164.95 222.79 L165.17 222.82 L165.39 222.85 L165.61 222.88 L165.83 222.91 L166.06 222.94 L166.28 222.98 L166.50 223.01 L166.72 223.05 L166.94 223.08 L167.17 223.12 L167.39 223.16 L167.61 223.19 L167.83 223.23 L168.05 223.27 L168.28 223.31 L168.50 223.35 L168.72 223.40 L168.94 223.44 L169.16 223.48 L169.39 223.53 L169.61 223.57 L169.83 223.62 L170.05 223.67 L170.27 223.72 L170.50 223.77 L170.72 223.82 L170.94 223.87 L171.16 223.92 L171.38 223.98 L171.61 224.03 L171.83 224.09 L172.05 224.14 L172.27 224.20 L172.49 224.26 L172.72 224.32 L172.94 224.38 L173.16 224.44 L173.38 224.51 L173.60 224.57 L173.83 224.64 L174.05 224.70 L174.27 224.77 L174.49 224.84 L174.71 224.91 L174.94 224.98 L175.16 225.05 L175.38 225.13 L175.60 225.20 L175.82 225.28 L176.05 225.36 L176.27 225.43 L176.49 225.52 L176.71 225.60 L176.93 225.68 L177.16 225.76 L177.38 225.85 L177.60 225.94 L177.82 226.03 L178.04 226.12 L178.27 226.21 L178.49 226.30 L178.71 226.40 L178.93 226.49 L179.15 226.59 L179.38 226.69 L179.60 226.79 L179.82 226.89 L180.04 227.00 L180.26 227.10 L180.49 227.21 L180.71 227.32 L180.93 227.43 L181.15 227.54 L181.37 227.66 L181.60 227.77 L181.82 227.89 L182.04 228.01 L182.26 228.13 L182.48 228.26 L182.71 228.38 L182.93 228.51 L183.15 228.64 L183.37 228.77 L183.59 228.90 L183.82 229.04 L184.04 229.18 L184.26 229.32 L184.48 229.46 L184.70 229.60 L184.93 229.75 L185.15 229.90 L185.37 230.05 L185.59 230.20 L185.81 230.36 L186.04 230.52 L186.26 230.68 L186.48 230.84 L186.70 231.01 L186.92 231.17 L187.15 231.34 L187.37 231.52 L187.59 231.69 L187.81 231.87 L188.03 232.05 L188.26 232.24 L188.48 232.42 L188.70 232.61 L188.92 232.81 L189.14 233.00 L189.37 233.20 L189.59 233.40 L189.81 233.61 L190.03 233.81 L190.25 234.02 L190.48 234.24 L190.70 234.45 L190.92 234.68 L191.14 234.90 L191.36 235.13 L191.59 235.36 L191.81 235.59 L192.03 235.83 L192.25 236.07 L192.47 236.31 L192.70 236.56 L192.92 236.81 L193.14 237.07 L193.36 237.33 L193.58 237.59 L193.81 237.86 L194.03 238.13 L194.25 238.41 L194.47 238.69 L194.69 238.97 L194.92 239.26 L195.14 239.55 L195.36 239.85 L195.58 240.15 L195.80 240.45 L196.03 240.76 L196.25 241.08 L196.47 241.40 L196.69 241.72 L196.91 242.05 L197.14 242.38 L197.36 242.72 L197.58 243.07 L197.80 243.42 L198.02 243.77 L198.25 244.13 L198.47 244.49 L198.69 244.86 L198.91 245.24 L199.13 245.62 L199.36 246.01 L199.58 246.40 L199.80 246.80" stroke="#ff0000" stroke-width="1.60"/>
<path d="M111.00 273.30 L111.22 273.29 L111.44 273.29 L111.67 273.28 L111.89 273.28 L112.11 273.27 L112.33 273.26 L112.55 273.26 L112.78 273.25 L113.00 273.24 L113.22 273.24 L113.44 273.23 L113.66 273.22 L113.89 273.21 L114.11 273.20 L114.33 273.20 L114.55 273.19 L114.77 273.18 L115.00 273.17 L115.22 273.16 L115.44 273.15 L115.66 273.14 L115.88 273.13 L116.11 273.12 L116.33 273.11 L116.55 273.10 L116.77 273.09 L116.99 273.08 L117.22 273.07 L117.44 273.06 L117.66 273.04 L117.88 273.03 L118.10 273.02 L118.33 273.01 L118.55 273.00 L118.77 272.98 L118.99 272.97 L119.21 272.96 L119.44 272.94 L119.66 272.93 L119.88 272.91 L120.10 272.90 L120.32 272.88 L120.55 272.87 L120.77 272.85 L120.99 272.84 L121.21 272.82 L121.43 272.80 L121.66 272.79 L121.88 272.77 L122.10 272.75 L122.32 272.73 L122.54 272.71 L122.77 272.69 L122.99 272.68 L123.21 272.66 L123.43 272.64 L123.65 272.62 L123.88 272.60 L124.10 272.57 L124.32 272.55 L124.54 272.53 L124.76 272.51 L124.99 272.49 L125.21 272.46 L125.43 272.44 L125.65 272.42 L125.87 272.39 L126.10 272.37 L126.32 272.34 L126.54 272.32 L126.76 272.29 L126.98 272.26 L127.21 272.23 L127.43 272.21 L127.65 272.18 L127.87 272.15 L128.09 272.12 L128.32 272.09 L128.54 272.06 L128.76 272.03 L128.98 272.00 L129.20 271.97 L129.43 271.94 L129.65 271.90 L129.87 271.87 L130.09 271.83 L130.31 271.80 L130.54 271.76 L130.76 271.73 L130.98 271.69 L131.20 271.66 L131.42 271.62 L131.65 271.58 L131.87 271.54 L132.09 271.50 L132.31 271.46 L132.53 271.42 L132.76 271.38 L132.98 271.33 L133.20 271.29 L133.42 271.25 L133.64 271.20 L133.87 271.16 L134.09 271.11 L134.31 271.06 L134.53 271.02 L134.75 270.97 L134.98 270.92 L135.20 270.87 L135.42 270.82 L135.64 270.77 L135.86 270.71 L136.09 270.66 L136.31 270.61 L136.53 270.55 L136.75 270.49 L136.97 270.44 L137.20 270.38 L137.42 270.32 L137.64 270.26 L137.86 270.20 L138.08 270.14 L138.31 270.07 L138.53 270.01 L138.75 269.95 L138.97 269.88 L139.19 269.81 L139.42 269.74 L139.64 269.68 L139.86 269.61 L140.08 269.53 L140.30 269.46 L140.53 269.39 L140.75 269.31 L140.97 269.24 L141.19 269.16 L141.41 269.08 L141.64 269.00 L141.86 268.92 L142.08 268.84 L142.30 268.75 L142.52 268.67 L142.75 268.58 L142.97 268.50 L143.19 268.41 L143.41 268.32 L143.63 268.22 L143.86 268.13 L144.08 268.04 L144.30 267.94 L144.52 267.84 L144.74 267.74 L144.97 267.64 L145.19 267.54 L145.41 267.44 L145.63 267.33 L145.85 267.22 L146.08 267.11 L146.30 267.00 L146.52 266.89 L146.74 266.78 L146.96 266.66 L147.19 266.54 L147.41 266.42 L147.63 266.30 L147.85 266.18 L148.07 266.05 L148.30 265.93 L148.52 265.80 L148.74 265.67 L148.96 265.53 L149.18 265.40 L149.41 265.26 L149.63 265.12 L149.85 264.98 L150.07 264.84 L150.29 264.69 L150.52 264.54 L150.74 264.39 L150.96 264.24 L151.18 264.09 L151.40 263.93 L151.63 263.77 L151.85 263.61 L152.07 263.44 L152.29 263.27 L152.51 263.10 L152.74 262.93 L152.96 262.76 L153.18 262.58 L153.40 262.40 L153.62 262.22 L153.85 262.03 L154.07 261.84 L154.29 261.65 L154.51 261.45 L154.73 261.26 L154.96 261.06 L155.18 260.85 L155.40 260.65 L155.62 260.44 L155.84 260.22 L156.07 260.01 L156.29 259.79 L156.51 259.56 L156.73 259.34 L156.95 259.11 L157.18 258.88 L157.40 258.64 L157.62 258.40 L157.84 258.16 L158.06 257.91 L158.29 257.66 L158.51 257.40 L158.73 257.14 L158.95 256.88 L159.17 256.61 L159.40 256.34 L159.62 256.07 L159.84 255.79 L160.06 255.50 L160.28 255.22 L160.51 254.92 L160.73 254.63 L160.95 254.33 L161.17 254.02 L161.39 253.71 L161.62 253.40 L161.84 253.08 L162.06 252.75 L162.28 252.42 L162.50 252.09 L162.73 251.75 L162.95 251.41 L163.17 251.06 L163.39 250.70 L163.61 250.34 L163.84 249.98 L164.06 249.61 L164.28 249.23 L164.50 248.85 L164.72 248.46 L164.95 248.07 L165.17 247.67 L165.39 247.26 L165.61 246.85 L165.83 246.43 L166.06 246.01 L166.28 245.58 L166.50 245.14 L166.72 244.70 L166.94 244.25 L167.17 243.79 L167.39 243.33 L167.61 242.86 L167.83 242.38 L168.05 241.90 L168.28 241.40 L168.50 240.91 L168.72 240.40 L168.94 239.88 L169.16 239.36 L169.39 238.83 L169.61 238.29 L169.83 237.75 L170.05 237.20 L170.27 236.63 L170.50 236.06 L170.72 235.48 L170.94 234.90 L171.16 234.30 L171.38 233.69 L171.61 233.08 L171.83 232.46 L172.05 231.82 L172.27 231.18 L172.49 230.53 L172.72 229.87 L172.94 229.20 L173.16 228.51 L173.38 227.82 L173.60 227.12 L173.83 226.41 L174.05 225.68 L174.27 224.95 L174.49 224.21 L174.71 223.45 L174.94 222.68 L175.16 221.90 L175.38 221.11 L175.60 220.31 L175.82 219.50 L176.05 218.67 L176.27 217.83 L176.49 216.98 L176.71 216.12 L176.93 215.24 L177.16 214.35 L177.38 213.45 L177.60 212.54 L177.82 211.61 L178.04 210.66 L178.27 209.71 L178.49 208.73 L178.71 207.75 L178.93 206.75 L179.15 205.73 L179.38 204.70 L179.60 203.65 L179.82 202.59 L180.04 201.52 L180.26 200.42 L180.49 199.31 L180.71 198.19 L180.93 197.04 L181.15 195.88 L181.37 194.71 L181.60 193.51 L181.82 192.30 L182.04 191.07 L182.26 189.82 L182.48 188.55 L182.71 187.27 L182.93 185.96 L183.15 184.64 L183.37 183.29 L183.59 181.93 L183.82 180.54 L184.04 179.14 L184.26 177.71 L184.48 176.27 L184.70 174.80 L184.93 173.31 L185.15 171.80 L185.37 170.26 L185.59 168.70 L185.81 167.12 L186.04 165.52 L186.26 163.89 L186.48 162.24 L186.70 160.56 L186.92 158.86 L187.15 157.14 L187.37 155.38 L187.59 153.60 L187.81 151.80 L188.03 149.97 L188.26 148.11 L188.48 146.22 L188.70 144.31 L188.92 142.37 L189.14 140.40 L189.37 138.40 L189.59 136.37 L189.81 134.31 L190.03 132.21 L190.25 130.09 L190.48 127.94 L190.70 125.75 L190.92 123.54 L191.14 121.29 L191.36 119.00 L191.59 116.69 L191.81 114.33 L192.03 111.95 L192.25 109.52 L192.47 107.07 L192.70 104.57 L192.92 102.04 L193.14 99.47 L193.36 96.86 L193.58 94.50 L193.81 94.50 L194.03 94.50 L194.25 94.50 L194.47 94.50 L194.69 94.50 L194.92 94.50 L195.14 94.50 L195.36 94.50 L195.58 94.50 L195.80 94.50 L196.03 94.50 L196.25 94.50 L196.47 94.50 L196.69 94.50 L196.91 94.50 L197.14 94.50 L197.36 94.50 L197.58 94.50 L197.80 94.50 L198.02 94.50 L198.25 94.50 L198.47 94.50 L198.69 94.50 L198.91 94.50 L199.13 94.50 L199.36 94.50 L199.58 94.50 L199.80 94.50" stroke="#0000ff" stroke-width="1.80" stroke-dasharray="7.5 3.5" stroke-dashoffset="4.34"/>
</g>
<g clip-path="url(#c12)" fill="none">
<path d="M199.80 147.34 L200.02 147.91 L200.24 148.48 L200.46 149.05 L200.68 149.62 L200.90 150.19 L201.12 150.75 L201.35 151.32 L201.57 151.89 L201.79 152.45 L202.01 153.01 L202.23 153.57 L202.45 154.13 L202.67 154.69 L202.89 155.25 L203.11 155.81 L203.33 156.36 L203.55 156.92 L203.77 157.47 L203.99 158.02 L204.22 158.57 L204.44 159.12 L204.66 159.67 L204.88 160.22 L205.10 160.76 L205.32 161.31 L205.54 161.85 L205.76 162.39 L205.98 162.94 L206.20 163.48 L206.42 164.01 L206.64 164.55 L206.86 165.09 L207.08 165.62 L207.31 166.16 L207.53 166.69 L207.75 167.22 L207.97 167.76 L208.19 168.28 L208.41 168.81 L208.63 169.34 L208.85 169.87 L209.07 170.39 L209.29 170.92 L209.51 171.44 L209.73 171.96 L209.95 172.48 L210.18 173.00 L210.40 173.52 L210.62 174.03 L210.84 174.55 L211.06 175.06 L211.28 175.58 L211.50 176.09 L211.72 176.60 L211.94 177.11 L212.16 177.62 L212.38 178.12 L212.60 178.63 L212.82 179.13 L213.05 179.64 L213.27 180.14 L213.49 180.64 L213.71 181.14 L213.93 181.64 L214.15 182.14 L214.37 182.63 L214.59 183.13 L214.81 183.62 L215.03 184.11 L215.25 184.61 L215.47 185.10 L215.69 185.59 L215.91 186.07 L216.14 186.56 L216.36 187.04 L216.58 187.53 L216.80 188.01 L217.02 188.49 L217.24 188.97 L217.46 189.45 L217.68 189.93 L217.90 190.41 L218.12 190.88 L218.34 191.36 L218.56 191.83 L218.78 192.30 L219.01 192.77 L219.23 193.24 L219.45 193.71 L219.67 194.18 L219.89 194.64 L220.11 195.11 L220.33 195.57 L220.55 196.03 L220.77 196.49 L220.99 196.95 L221.21 197.41 L221.43 197.87 L221.65 198.32 L221.88 198.78 L222.10 199.23 L222.32 199.68 L222.54 200.13 L222.76 200.58 L222.98 201.03 L223.20 201.48 L223.42 201.92 L223.64 202.37 L223.86 202.81 L224.08 203.25 L224.30 203.69 L224.52 204.13 L224.74 204.57 L224.97 205.01 L225.19 205.44 L225.41 205.88 L225.63 206.31 L225.85 206.74 L226.07 207.17 L226.29 207.60 L226.51 208.03 L226.73 208.46 L226.95 208.88 L227.17 209.31 L227.39 209.73 L227.61 210.15 L227.84 210.57 L228.06 210.99 L228.28 211.41 L228.50 211.83 L228.72 212.24 L228.94 212.65 L229.16 213.07 L229.38 213.48 L229.60 213.89 L229.82 214.30 L230.04 214.71 L230.26 215.11 L230.48 215.52 L230.71 215.92 L230.93 216.32 L231.15 216.72 L231.37 217.12 L231.59 217.52 L231.81 217.92 L232.03 218.31 L232.25 218.71 L232.47 219.10 L232.69 219.49 L232.91 219.88 L233.13 220.27 L233.35 220.66 L233.57 221.05 L233.80 221.43 L234.02 221.82 L234.24 222.20 L234.46 222.58 L234.68 222.96 L234.90 223.34 L235.12 223.72 L235.34 224.10 L235.56 224.47 L235.78 224.84 L236.00 225.22 L236.22 225.59 L236.44 225.96 L236.67 226.32 L236.89 226.69 L237.11 227.06 L237.33 227.42 L237.55 227.78 L237.77 228.15 L237.99 228.51 L238.21 228.87 L238.43 229.22 L238.65 229.58 L238.87 229.93 L239.09 230.29 L239.31 230.64 L239.54 230.99 L239.76 231.34 L239.98 231.69 L240.20 232.04 L240.42 232.38 L240.64 232.73 L240.86 233.07 L241.08 233.41 L241.30 233.75 L241.52 234.09 L241.74 234.43 L241.96 234.76 L242.18 235.10 L242.40 235.43 L242.63 235.76 L242.85 236.09 L243.07 236.42 L243.29 236.75 L243.51 237.08 L243.73 237.40 L243.95 237.73 L244.17 238.05 L244.39 238.37 L244.61 238.69 L244.83 239.01 L245.05 239.32 L245.27 239.64 L245.50 239.95 L245.72 240.27 L245.94 240.58 L246.16 240.89 L246.38 241.20 L246.60 241.51 L246.82 241.81 L247.04 242.12 L247.26 242.42 L247.48 242.72 L247.70 243.02 L247.92 243.32 L248.14 243.62 L248.37 243.91 L248.59 244.21 L248.81 244.50 L249.03 244.79 L249.25 245.09 L249.47 245.37 L249.69 245.66 L249.91 245.95 L250.13 246.23 L250.35 246.52 L250.57 246.80 L250.79 247.08 L251.01 247.36 L251.23 247.64 L251.46 247.92 L251.68 248.19 L251.90 248.46 L252.12 248.74 L252.34 249.01 L252.56 249.28 L252.78 249.55 L253.00 249.81 L253.22 250.08 L253.44 250.34 L253.66 250.60 L253.88 250.87 L254.10 251.13 L254.33 251.38 L254.55 251.64 L254.77 251.90 L254.99 252.15 L255.21 252.40 L255.43 252.65 L255.65 252.90 L255.87 253.15 L256.09 253.40 L256.31 253.64 L256.53 253.89 L256.75 254.13 L256.97 254.37 L257.20 254.61 L257.42 254.85 L257.64 255.09 L257.86 255.32 L258.08 255.55 L258.30 255.79 L258.52 256.02 L258.74 256.25 L258.96 256.48 L259.18 256.70 L259.40 256.93 L259.62 257.15 L259.84 257.37 L260.06 257.59 L260.29 257.81 L260.51 258.03 L260.73 258.25 L260.95 258.46 L261.17 258.68 L261.39 258.89 L261.61 259.10 L261.83 259.31 L262.05 259.51 L262.27 259.72 L262.49 259.93 L262.71 260.13 L262.93 260.33 L263.16 260.53 L263.38 260.73 L263.60 260.93 L263.82 261.12 L264.04 261.32 L264.26 261.51 L264.48 261.70 L264.70 261.89 L264.92 262.08 L265.14 262.27 L265.36 262.45 L265.58 262.64 L265.80 262.82 L266.03 263.00 L266.25 263.18 L266.47 263.36 L266.69 263.53 L266.91 263.71 L267.13 263.88 L267.35 264.05 L267.57 264.22 L267.79 264.39 L268.01 264.56 L268.23 264.72 L268.45 264.89 L268.67 265.05 L268.89 265.21 L269.12 265.37 L269.34 265.53 L269.56 265.69 L269.78 265.84 L270.00 266.00 L270.22 266.15 L270.44 266.30 L270.66 266.45 L270.88 266.60 L271.10 266.74 L271.32 266.89 L271.54 267.03 L271.76 267.17 L271.99 267.31 L272.21 267.45 L272.43 267.59 L272.65 267.72 L272.87 267.86 L273.09 267.99 L273.31 268.12 L273.53 268.25 L273.75 268.38 L273.97 268.50 L274.19 268.63 L274.41 268.75 L274.63 268.87 L274.86 268.99 L275.08 269.11 L275.30 269.23 L275.52 269.34 L275.74 269.46 L275.96 269.57 L276.18 269.68 L276.40 269.79 L276.62 269.90 L276.84 270.00 L277.06 270.11 L277.28 270.21 L277.50 270.31 L277.72 270.41 L277.95 270.51 L278.17 270.60 L278.39 270.70 L278.61 270.79 L278.83 270.88 L279.05 270.97 L279.27 271.06 L279.49 271.15 L279.71 271.24 L279.93 271.32 L280.15 271.40 L280.37 271.48 L280.59 271.56 L280.82 271.64 L281.04 271.72 L281.26 271.79 L281.48 271.86 L281.70 271.93 L281.92 272.00 L282.14 272.07 L282.36 272.14 L282.58 272.20 L282.80 272.27 L283.02 272.33 L283.24 272.39 L283.46 272.45 L283.69 272.50 L283.91 272.56 L284.13 272.61 L284.35 272.66 L284.57 272.71 L284.79 272.76 L285.01 272.81 L285.23 272.86 L285.45 272.90 L285.67 272.94 L285.89 272.98 L286.11 273.02 L286.33 273.06 L286.55 273.10 L286.78 273.13 L287.00 273.16 L287.22 273.19 L287.44 273.22 L287.66 273.25 L287.88 273.28 L288.10 273.30" stroke="#000" stroke-width="1.70" stroke-dasharray="10.8 3.9" stroke-dashoffset="4.19"/>
<path d="M199.80 265.16 L200.02 264.62 L200.24 264.07 L200.46 263.53 L200.68 262.99 L200.90 262.45 L201.12 261.92 L201.35 261.38 L201.57 260.86 L201.79 260.33 L202.01 259.81 L202.23 259.29 L202.45 258.77 L202.67 258.25 L202.89 257.74 L203.11 257.23 L203.33 256.72 L203.55 256.22 L203.77 255.72 L203.99 255.22 L204.22 254.73 L204.44 254.23 L204.66 253.74 L204.88 253.26 L205.10 252.77 L205.32 252.29 L205.54 251.81 L205.76 251.33 L205.98 250.86 L206.20 250.39 L206.42 249.92 L206.64 249.46 L206.86 248.99 L207.08 248.54 L207.31 248.08 L207.53 247.62 L207.75 247.17 L207.97 246.72 L208.19 246.28 L208.41 245.84 L208.63 245.40 L208.85 244.96 L209.07 244.52 L209.29 244.09 L209.51 243.66 L209.73 243.24 L209.95 242.81 L210.18 242.39 L210.40 241.97 L210.62 241.56 L210.84 241.15 L211.06 240.74 L211.28 240.33 L211.50 239.92 L211.72 239.52 L211.94 239.12 L212.16 238.73 L212.38 238.33 L212.60 237.94 L212.82 237.56 L213.05 237.17 L213.27 236.79 L213.49 236.41 L213.71 236.03 L213.93 235.66 L214.15 235.29 L214.37 234.92 L214.59 234.55 L214.81 234.19 L215.03 233.83 L215.25 233.47 L215.47 233.12 L215.69 232.76 L215.91 232.42 L216.14 232.07 L216.36 231.72 L216.58 231.38 L216.80 231.05 L217.02 230.71 L217.24 230.38 L217.46 230.05 L217.68 229.72 L217.90 229.40 L218.12 229.07 L218.34 228.75 L218.56 228.44 L218.78 228.12 L219.01 227.81 L219.23 227.51 L219.45 227.20 L219.67 226.90 L219.89 226.60 L220.11 226.30 L220.33 226.01 L220.55 225.72 L220.77 225.43 L220.99 225.14 L221.21 224.86 L221.43 224.58 L221.65 224.30 L221.88 224.02 L222.10 223.75 L222.32 223.48 L222.54 223.22 L222.76 222.95 L222.98 222.69 L223.20 222.43 L223.42 222.18 L223.64 221.92 L223.86 221.67 L224.08 221.42 L224.30 221.18 L224.52 220.94 L224.74 220.70 L224.97 220.46 L225.19 220.23 L225.41 220.00 L225.63 219.77 L225.85 219.54 L226.07 219.32 L226.29 219.10 L226.51 218.88 L226.73 218.67 L226.95 218.45 L227.17 218.24 L227.39 218.04 L227.61 217.83 L227.84 217.63 L228.06 217.44 L228.28 217.24 L228.50 217.05 L228.72 216.86 L228.94 216.67 L229.16 216.48 L229.38 216.30 L229.60 216.12 L229.82 215.95 L230.04 215.77 L230.26 215.60 L230.48 215.43 L230.71 215.27 L230.93 215.11 L231.15 214.95 L231.37 214.79 L231.59 214.63 L231.81 214.48 L232.03 214.33 L232.25 214.19 L232.47 214.04 L232.69 213.90 L232.91 213.77 L233.13 213.63 L233.35 213.50 L233.57 213.37 L233.80 213.24 L234.02 213.12 L234.24 212.99 L234.46 212.88 L234.68 212.76 L234.90 212.65 L235.12 212.53 L235.34 212.43 L235.56 212.32 L235.78 212.22 L236.00 212.12 L236.22 212.02 L236.44 211.93 L236.67 211.84 L236.89 211.75 L237.11 211.66 L237.33 211.58 L237.55 211.50 L237.77 211.42 L237.99 211.34 L238.21 211.27 L238.43 211.20 L238.65 211.14 L238.87 211.07 L239.09 211.01 L239.31 210.95 L239.54 210.89 L239.76 210.84 L239.98 210.79 L240.20 210.74 L240.42 210.70 L240.64 210.66 L240.86 210.62 L241.08 210.58 L241.30 210.54 L241.52 210.51 L241.74 210.48 L241.96 210.46 L242.18 210.44 L242.40 210.41 L242.63 210.40 L242.85 210.38 L243.07 210.37 L243.29 210.36 L243.51 210.35 L243.73 210.35 L243.95 210.35 L244.17 210.35 L244.39 210.35 L244.61 210.36 L244.83 210.37 L245.05 210.38 L245.27 210.40 L245.50 210.41 L245.72 210.44 L245.94 210.46 L246.16 210.48 L246.38 210.51 L246.60 210.54 L246.82 210.58 L247.04 210.62 L247.26 210.66 L247.48 210.70 L247.70 210.74 L247.92 210.79 L248.14 210.84 L248.37 210.89 L248.59 210.95 L248.81 211.01 L249.03 211.07 L249.25 211.14 L249.47 211.20 L249.69 211.27 L249.91 211.34 L250.13 211.42 L250.35 211.50 L250.57 211.58 L250.79 211.66 L251.01 211.75 L251.23 211.84 L251.46 211.93 L251.68 212.02 L251.90 212.12 L252.12 212.22 L252.34 212.32 L252.56 212.43 L252.78 212.53 L253.00 212.65 L253.22 212.76 L253.44 212.88 L253.66 212.99 L253.88 213.12 L254.10 213.24 L254.33 213.37 L254.55 213.50 L254.77 213.63 L254.99 213.77 L255.21 213.90 L255.43 214.04 L255.65 214.19 L255.87 214.33 L256.09 214.48 L256.31 214.63 L256.53 214.79 L256.75 214.95 L256.97 215.11 L257.20 215.27 L257.42 215.43 L257.64 215.60 L257.86 215.77 L258.08 215.95 L258.30 216.12 L258.52 216.30 L258.74 216.48 L258.96 216.67 L259.18 216.86 L259.40 217.05 L259.62 217.24 L259.84 217.44 L260.06 217.63 L260.29 217.83 L260.51 218.04 L260.73 218.24 L260.95 218.45 L261.17 218.67 L261.39 218.88 L261.61 219.10 L261.83 219.32 L262.05 219.54 L262.27 219.77 L262.49 220.00 L262.71 220.23 L262.93 220.46 L263.16 220.70 L263.38 220.94 L263.60 221.18 L263.82 221.42 L264.04 221.67 L264.26 221.92 L264.48 222.18 L264.70 222.43 L264.92 222.69 L265.14 222.95 L265.36 223.22 L265.58 223.48 L265.80 223.75 L266.03 224.02 L266.25 224.30 L266.47 224.58 L266.69 224.86 L266.91 225.14 L267.13 225.43 L267.35 225.72 L267.57 226.01 L267.79 226.30 L268.01 226.60 L268.23 226.90 L268.45 227.20 L268.67 227.51 L268.89 227.81 L269.12 228.12 L269.34 228.44 L269.56 228.75 L269.78 229.07 L270.00 229.40 L270.22 229.72 L270.44 230.05 L270.66 230.38 L270.88 230.71 L271.10 231.05 L271.32 231.38 L271.54 231.72 L271.76 232.07 L271.99 232.42 L272.21 232.76 L272.43 233.12 L272.65 233.47 L272.87 233.83 L273.09 234.19 L273.31 234.55 L273.53 234.92 L273.75 235.29 L273.97 235.66 L274.19 236.03 L274.41 236.41 L274.63 236.79 L274.86 237.17 L275.08 237.56 L275.30 237.94 L275.52 238.33 L275.74 238.73 L275.96 239.12 L276.18 239.52 L276.40 239.92 L276.62 240.33 L276.84 240.74 L277.06 241.15 L277.28 241.56 L277.50 241.97 L277.72 242.39 L277.95 242.81 L278.17 243.24 L278.39 243.66 L278.61 244.09 L278.83 244.52 L279.05 244.96 L279.27 245.40 L279.49 245.84 L279.71 246.28 L279.93 246.72 L280.15 247.17 L280.37 247.62 L280.59 248.08 L280.82 248.54 L281.04 248.99 L281.26 249.46 L281.48 249.92 L281.70 250.39 L281.92 250.86 L282.14 251.33 L282.36 251.81 L282.58 252.29 L282.80 252.77 L283.02 253.26 L283.24 253.74 L283.46 254.23 L283.69 254.73 L283.91 255.22 L284.13 255.72 L284.35 256.22 L284.57 256.72 L284.79 257.23 L285.01 257.74 L285.23 258.25 L285.45 258.77 L285.67 259.29 L285.89 259.81 L286.11 260.33 L286.33 260.86 L286.55 261.38 L286.78 261.92 L287.00 262.45 L287.22 262.99 L287.44 263.53 L287.66 264.07 L287.88 264.62 L288.10 265.16" stroke="#ff0000" stroke-width="1.60"/>
<path d="M199.80 273.30 L200.02 273.28 L200.24 273.25 L200.46 273.22 L200.68 273.19 L200.90 273.16 L201.12 273.13 L201.35 273.10 L201.57 273.06 L201.79 273.02 L202.01 272.98 L202.23 272.94 L202.45 272.90 L202.67 272.86 L202.89 272.81 L203.11 272.76 L203.33 272.71 L203.55 272.66 L203.77 272.61 L203.99 272.56 L204.22 272.50 L204.44 272.45 L204.66 272.39 L204.88 272.33 L205.10 272.27 L205.32 272.20 L205.54 272.14 L205.76 272.07 L205.98 272.00 L206.20 271.93 L206.42 271.86 L206.64 271.79 L206.86 271.72 L207.08 271.64 L207.31 271.56 L207.53 271.48 L207.75 271.40 L207.97 271.32 L208.19 271.24 L208.41 271.15 L208.63 271.06 L208.85 270.97 L209.07 270.88 L209.29 270.79 L209.51 270.70 L209.73 270.60 L209.95 270.51 L210.18 270.41 L210.40 270.31 L210.62 270.21 L210.84 270.11 L211.06 270.00 L211.28 269.90 L211.50 269.79 L211.72 269.68 L211.94 269.57 L212.16 269.46 L212.38 269.34 L212.60 269.23 L212.82 269.11 L213.05 268.99 L213.27 268.87 L213.49 268.75 L213.71 268.63 L213.93 268.50 L214.15 268.38 L214.37 268.25 L214.59 268.12 L214.81 267.99 L215.03 267.86 L215.25 267.72 L215.47 267.59 L215.69 267.45 L215.91 267.31 L216.14 267.17 L216.36 267.03 L216.58 266.89 L216.80 266.74 L217.02 266.60 L217.24 266.45 L217.46 266.30 L217.68 266.15 L217.90 266.00 L218.12 265.84 L218.34 265.69 L218.56 265.53 L218.78 265.37 L219.01 265.21 L219.23 265.05 L219.45 264.89 L219.67 264.72 L219.89 264.56 L220.11 264.39 L220.33 264.22 L220.55 264.05 L220.77 263.88 L220.99 263.71 L221.21 263.53 L221.43 263.36 L221.65 263.18 L221.88 263.00 L222.10 262.82 L222.32 262.64 L222.54 262.45 L222.76 262.27 L222.98 262.08 L223.20 261.89 L223.42 261.70 L223.64 261.51 L223.86 261.32 L224.08 261.12 L224.30 260.93 L224.52 260.73 L224.74 260.53 L224.97 260.33 L225.19 260.13 L225.41 259.93 L225.63 259.72 L225.85 259.51 L226.07 259.31 L226.29 259.10 L226.51 258.89 L226.73 258.68 L226.95 258.46 L227.17 258.25 L227.39 258.03 L227.61 257.81 L227.84 257.59 L228.06 257.37 L228.28 257.15 L228.50 256.93 L228.72 256.70 L228.94 256.48 L229.16 256.25 L229.38 256.02 L229.60 255.79 L229.82 255.55 L230.04 255.32 L230.26 255.09 L230.48 254.85 L230.71 254.61 L230.93 254.37 L231.15 254.13 L231.37 253.89 L231.59 253.64 L231.81 253.40 L232.03 253.15 L232.25 252.90 L232.47 252.65 L232.69 252.40 L232.91 252.15 L233.13 251.90 L233.35 251.64 L233.57 251.38 L233.80 251.13 L234.02 250.87 L234.24 250.60 L234.46 250.34 L234.68 250.08 L234.90 249.81 L235.12 249.55 L235.34 249.28 L235.56 249.01 L235.78 248.74 L236.00 248.46 L236.22 248.19 L236.44 247.92 L236.67 247.64 L236.89 247.36 L237.11 247.08 L237.33 246.80 L237.55 246.52 L237.77 246.23 L237.99 245.95 L238.21 245.66 L238.43 245.37 L238.65 245.09 L238.87 244.79 L239.09 244.50 L239.31 244.21 L239.54 243.91 L239.76 243.62 L239.98 243.32 L240.20 243.02 L240.42 242.72 L240.64 242.42 L240.86 242.12 L241.08 241.81 L241.30 241.51 L241.52 241.20 L241.74 240.89 L241.96 240.58 L242.18 240.27 L242.40 239.95 L242.63 239.64 L242.85 239.32 L243.07 239.01 L243.29 238.69 L243.51 238.37 L243.73 238.05 L243.95 237.73 L244.17 237.40 L244.39 237.08 L244.61 236.75 L244.83 236.42 L245.05 236.09 L245.27 235.76 L245.50 235.43 L245.72 235.10 L245.94 234.76 L246.16 234.43 L246.38 234.09 L246.60 233.75 L246.82 233.41 L247.04 233.07 L247.26 232.73 L247.48 232.38 L247.70 232.04 L247.92 231.69 L248.14 231.34 L248.37 230.99 L248.59 230.64 L248.81 230.29 L249.03 229.93 L249.25 229.58 L249.47 229.22 L249.69 228.87 L249.91 228.51 L250.13 228.15 L250.35 227.78 L250.57 227.42 L250.79 227.06 L251.01 226.69 L251.23 226.32 L251.46 225.96 L251.68 225.59 L251.90 225.22 L252.12 224.84 L252.34 224.47 L252.56 224.10 L252.78 223.72 L253.00 223.34 L253.22 222.96 L253.44 222.58 L253.66 222.20 L253.88 221.82 L254.10 221.43 L254.33 221.05 L254.55 220.66 L254.77 220.27 L254.99 219.88 L255.21 219.49 L255.43 219.10 L255.65 218.71 L255.87 218.31 L256.09 217.92 L256.31 217.52 L256.53 217.12 L256.75 216.72 L256.97 216.32 L257.20 215.92 L257.42 215.52 L257.64 215.11 L257.86 214.71 L258.08 214.30 L258.30 213.89 L258.52 213.48 L258.74 213.07 L258.96 212.65 L259.18 212.24 L259.40 211.83 L259.62 211.41 L259.84 210.99 L260.06 210.57 L260.29 210.15 L260.51 209.73 L260.73 209.31 L260.95 208.88 L261.17 208.46 L261.39 208.03 L261.61 207.60 L261.83 207.17 L262.05 206.74 L262.27 206.31 L262.49 205.88 L262.71 205.44 L262.93 205.01 L263.16 204.57 L263.38 204.13 L263.60 203.69 L263.82 203.25 L264.04 202.81 L264.26 202.37 L264.48 201.92 L264.70 201.48 L264.92 201.03 L265.14 200.58 L265.36 200.13 L265.58 199.68 L265.80 199.23 L266.03 198.78 L266.25 198.32 L266.47 197.87 L266.69 197.41 L266.91 196.95 L267.13 196.49 L267.35 196.03 L267.57 195.57 L267.79 195.11 L268.01 194.64 L268.23 194.18 L268.45 193.71 L268.67 193.24 L268.89 192.77 L269.12 192.30 L269.34 191.83 L269.56 191.36 L269.78 190.88 L270.00 190.41 L270.22 189.93 L270.44 189.45 L270.66 188.97 L270.88 188.49 L271.10 188.01 L271.32 187.53 L271.54 187.04 L271.76 186.56 L271.99 186.07 L272.21 185.59 L272.43 185.10 L272.65 184.61 L272.87 184.11 L273.09 183.62 L273.31 183.13 L273.53 182.63 L273.75 182.14 L273.97 181.64 L274.19 181.14 L274.41 180.64 L274.63 180.14 L274.86 179.64 L275.08 179.13 L275.30 178.63 L275.52 178.12 L275.74 177.62 L275.96 177.11 L276.18 176.60 L276.40 176.09 L276.62 175.58 L276.84 175.06 L277.06 174.55 L277.28 174.03 L277.50 173.52 L277.72 173.00 L277.95 172.48 L278.17 171.96 L278.39 171.44 L278.61 170.92 L278.83 170.39 L279.05 169.87 L279.27 169.34 L279.49 168.81 L279.71 168.28 L279.93 167.76 L280.15 167.22 L280.37 166.69 L280.59 166.16 L280.82 165.62 L281.04 165.09 L281.26 164.55 L281.48 164.01 L281.70 163.48 L281.92 162.94 L282.14 162.39 L282.36 161.85 L282.58 161.31 L282.80 160.76 L283.02 160.22 L283.24 159.67 L283.46 159.12 L283.69 158.57 L283.91 158.02 L284.13 157.47 L284.35 156.92 L284.57 156.36 L284.79 155.81 L285.01 155.25 L285.23 154.69 L285.45 154.13 L285.67 153.57 L285.89 153.01 L286.11 152.45 L286.33 151.89 L286.55 151.32 L286.78 150.75 L287.00 150.19 L287.22 149.62 L287.44 149.05 L287.66 148.48 L287.88 147.91 L288.10 147.34" stroke="#0000ff" stroke-width="1.80" stroke-dasharray="7.5 3.5" stroke-dashoffset="4.53"/>
</g>
<g clip-path="url(#c13)" fill="none">
<path d="M288.10 179.68 L288.31 179.92 L288.51 180.17 L288.72 180.41 L288.92 180.66 L289.13 180.91 L289.33 181.15 L289.54 181.40 L289.75 181.64 L289.95 181.89 L290.16 182.13 L290.36 182.38 L290.57 182.63 L290.77 182.87 L290.98 183.12 L291.18 183.36 L291.39 183.61 L291.60 183.86 L291.80 184.10 L292.01 184.35 L292.21 184.59 L292.42 184.84 L292.62 185.08 L292.83 185.33 L293.04 185.58 L293.24 185.82 L293.45 186.07 L293.65 186.31 L293.86 186.56 L294.06 186.81 L294.27 187.05 L294.47 187.30 L294.68 187.54 L294.89 187.79 L295.09 188.04 L295.30 188.28 L295.50 188.53 L295.71 188.77 L295.91 189.02 L296.12 189.26 L296.33 189.51 L296.53 189.76 L296.74 190.00 L296.94 190.25 L297.15 190.49 L297.35 190.74 L297.56 190.99 L297.76 191.23 L297.97 191.48 L298.18 191.72 L298.38 191.97 L298.59 192.21 L298.79 192.46 L299.00 192.71 L299.20 192.95 L299.41 193.20 L299.62 193.44 L299.82 193.69 L300.03 193.94 L300.23 194.18 L300.44 194.43 L300.64 194.67 L300.85 194.92 L301.05 195.17 L301.26 195.41 L301.47 195.66 L301.67 195.90 L301.88 196.15 L302.08 196.39 L302.29 196.64 L302.49 196.89 L302.70 197.13 L302.91 197.38 L303.11 197.62 L303.32 197.87 L303.52 198.12 L303.73 198.36 L303.93 198.61 L304.14 198.85 L304.34 199.10 L304.55 199.35 L304.76 199.59 L304.96 199.84 L305.17 200.08 L305.37 200.33 L305.58 200.57 L305.78 200.82 L305.99 201.07 L306.20 201.31 L306.40 201.56 L306.61 201.80 L306.81 202.05 L307.02 202.30 L307.22 202.54 L307.43 202.79 L307.63 203.03 L307.84 203.28 L308.05 203.52 L308.25 203.77 L308.46 204.02 L308.66 204.26 L308.87 204.51 L309.07 204.75 L309.28 205.00 L309.49 205.25 L309.69 205.49 L309.90 205.74 L310.10 205.98 L310.31 206.23 L310.51 206.48 L310.72 206.72 L310.92 206.97 L311.13 207.21 L311.34 207.46 L311.54 207.70 L311.75 207.95 L311.95 208.20 L312.16 208.44 L312.36 208.69 L312.57 208.93 L312.78 209.18 L312.98 209.43 L313.19 209.67 L313.39 209.92 L313.60 210.16 L313.80 210.41 L314.01 210.66 L314.21 210.90 L314.42 211.15 L314.63 211.39 L314.83 211.64 L315.04 211.88 L315.24 212.13 L315.45 212.38 L315.65 212.62 L315.86 212.87 L316.07 213.11 L316.27 213.36 L316.48 213.61 L316.68 213.85 L316.89 214.10 L317.09 214.34 L317.30 214.59 L317.50 214.83 L317.71 215.08 L317.92 215.33 L318.12 215.57 L318.33 215.82 L318.53 216.06 L318.74 216.31 L318.94 216.56 L319.15 216.80 L319.36 217.05 L319.56 217.29 L319.77 217.54 L319.97 217.79 L320.18 218.03 L320.38 218.28 L320.59 218.52 L320.79 218.77 L321.00 219.01 L321.21 219.26 L321.41 219.51 L321.62 219.75 L321.82 220.00 L322.03 220.24 L322.23 220.49 L322.44 220.74 L322.65 220.98 L322.85 221.23 L323.06 221.47 L323.26 221.72 L323.47 221.96 L323.67 222.21 L323.88 222.46 L324.08 222.70 L324.29 222.95 L324.50 223.19 L324.70 223.44 L324.91 223.69 L325.11 223.93 L325.32 224.18 L325.52 224.42 L325.73 224.67 L325.94 224.92 L326.14 225.16 L326.35 225.41 L326.55 225.65 L326.76 225.90 L326.96 226.14 L327.17 226.39 L327.37 226.64 L327.58 226.88 L327.79 227.13 L327.99 227.37 L328.20 227.62 L328.40 227.87 L328.61 228.11 L328.81 228.36 L329.02 228.60 L329.23 228.85 L329.43 229.09 L329.64 229.34 L329.84 229.59 L330.05 229.83 L330.25 230.08 L330.46 230.32 L330.66 230.57 L330.87 230.82 L331.08 231.06 L331.28 231.31 L331.49 231.55 L331.69 231.80 L331.90 232.04 L332.10 232.29 L332.31 232.54 L332.52 232.78 L332.72 233.03 L332.93 233.27 L333.13 233.52 L333.34 233.77 L333.54 234.01 L333.75 234.26 L333.95 234.50 L334.16 234.75 L334.37 234.99 L334.57 235.24 L334.78 235.49 L334.98 235.73 L335.19 235.98 L335.39 236.22 L335.60 236.47 L335.81 236.72 L336.01 236.96 L336.22 237.21 L336.42 237.45 L336.63 237.70 L336.83 237.94 L337.04 238.19 L337.24 238.44 L337.45 238.68 L337.66 238.93 L337.86 239.17 L338.07 239.42 L338.27 239.66 L338.48 239.91 L338.68 240.16 L338.89 240.40 L339.10 240.65 L339.30 240.89 L339.51 241.14 L339.71 241.38 L339.92 241.63 L340.12 241.88 L340.33 242.12 L340.53 242.37 L340.74 242.61 L340.95 242.86 L341.15 243.10 L341.36 243.35 L341.56 243.60 L341.77 243.84 L341.97 244.09 L342.18 244.33 L342.39 244.58 L342.59 244.82 L342.80 245.07 L343.00 245.31 L343.21 245.56 L343.41 245.80 L343.62 246.05 L343.82 246.30 L344.03 246.54 L344.24 246.79 L344.44 247.03 L344.65 247.28 L344.85 247.52 L345.06 247.77 L345.26 248.01 L345.47 248.26 L345.68 248.50 L345.88 248.75 L346.09 248.99 L346.29 249.24 L346.50 249.48 L346.70 249.73 L346.91 249.97 L347.11 250.22 L347.32 250.46 L347.53 250.71 L347.73 250.95 L347.94 251.20 L348.14 251.44 L348.35 251.69 L348.55 251.93 L348.76 252.17 L348.97 252.42 L349.17 252.66 L349.38 252.91 L349.58 253.15 L349.79 253.39 L349.99 253.64 L350.20 253.88 L350.40 254.13 L350.61 254.37 L350.82 254.61 L351.02 254.86 L351.23 255.10 L351.43 255.34 L351.64 255.59 L351.84 255.83 L352.05 256.07 L352.25 256.31 L352.46 256.56 L352.67 256.80 L352.87 257.04 L353.08 257.28 L353.28 257.52 L353.49 257.76 L353.69 258.01 L353.90 258.25 L354.11 258.49 L354.31 258.73 L354.52 258.97 L354.72 259.21 L354.93 259.45 L355.13 259.69 L355.34 259.93 L355.55 260.16 L355.75 260.40 L355.96 260.64 L356.16 260.88 L356.37 261.12 L356.57 261.35 L356.78 261.59 L356.98 261.82 L357.19 262.06 L357.40 262.29 L357.60 262.53 L357.81 262.76 L358.01 263.00 L358.22 263.23 L358.42 263.46 L358.63 263.69 L358.84 263.92 L359.04 264.15 L359.25 264.38 L359.45 264.61 L359.66 264.84 L359.86 265.06 L360.07 265.29 L360.27 265.51 L360.48 265.73 L360.69 265.96 L360.89 266.18 L361.10 266.40 L361.30 266.62 L361.51 266.83 L361.71 267.05 L361.92 267.26 L362.12 267.48 L362.33 267.69 L362.54 267.90 L362.74 268.11 L362.95 268.31 L363.15 268.52 L363.36 268.72 L363.56 268.92 L363.77 269.12 L363.98 269.31 L364.18 269.51 L364.39 269.70 L364.59 269.88 L364.80 270.07 L365.00 270.25 L365.21 270.43 L365.42 270.61 L365.62 270.78 L365.83 270.95 L366.03 271.11 L366.24 271.27 L366.44 271.43 L366.65 271.58 L366.85 271.73 L367.06 271.88 L367.27 272.01 L367.47 272.15 L367.68 272.27 L367.88 272.40 L368.09 272.51 L368.29 272.62 L368.50 272.73 L368.71 272.82 L368.91 272.91 L369.12 272.99 L369.32 273.07 L369.53 273.13 L369.73 273.19 L369.94 273.24 L370.14 273.27 L370.35 273.30" stroke="#000" stroke-width="1.70" stroke-dasharray="10.8 3.9" stroke-dashoffset="12.59"/>
<path d="M288.10 268.83 L288.31 266.75 L288.51 264.76 L288.72 262.87 L288.92 261.07 L289.13 259.35 L289.33 257.70 L289.54 256.14 L289.75 254.65 L289.95 253.22 L290.16 251.86 L290.36 250.57 L290.57 249.33 L290.77 248.15 L290.98 247.03 L291.18 245.96 L291.39 244.94 L291.60 243.96 L291.80 243.03 L292.01 242.14 L292.21 241.30 L292.42 240.49 L292.62 239.72 L292.83 238.99 L293.04 238.29 L293.24 237.62 L293.45 236.98 L293.65 236.38 L293.86 235.80 L294.06 235.24 L294.27 234.72 L294.47 234.21 L294.68 233.74 L294.89 233.28 L295.09 232.84 L295.30 232.43 L295.50 232.03 L295.71 231.65 L295.91 231.29 L296.12 230.95 L296.33 230.62 L296.53 230.31 L296.74 230.01 L296.94 229.72 L297.15 229.45 L297.35 229.19 L297.56 228.94 L297.76 228.71 L297.97 228.48 L298.18 228.27 L298.38 228.07 L298.59 227.87 L298.79 227.68 L299.00 227.51 L299.20 227.34 L299.41 227.18 L299.62 227.02 L299.82 226.88 L300.03 226.74 L300.23 226.60 L300.44 226.48 L300.64 226.35 L300.85 226.24 L301.05 226.13 L301.26 226.02 L301.47 225.92 L301.67 225.83 L301.88 225.74 L302.08 225.65 L302.29 225.56 L302.49 225.49 L302.70 225.41 L302.91 225.34 L303.11 225.27 L303.32 225.20 L303.52 225.14 L303.73 225.08 L303.93 225.02 L304.14 224.97 L304.34 224.92 L304.55 224.87 L304.76 224.82 L304.96 224.78 L305.17 224.73 L305.37 224.69 L305.58 224.65 L305.78 224.62 L305.99 224.58 L306.20 224.55 L306.40 224.52 L306.61 224.48 L306.81 224.46 L307.02 224.43 L307.22 224.40 L307.43 224.38 L307.63 224.35 L307.84 224.33 L308.05 224.31 L308.25 224.28 L308.46 224.26 L308.66 224.25 L308.87 224.23 L309.07 224.21 L309.28 224.19 L309.49 224.18 L309.69 224.16 L309.90 224.15 L310.10 224.13 L310.31 224.12 L310.51 224.11 L310.72 224.10 L310.92 224.09 L311.13 224.07 L311.34 224.06 L311.54 224.05 L311.75 224.04 L311.95 224.04 L312.16 224.03 L312.36 224.02 L312.57 224.01 L312.78 224.00 L312.98 224.00 L313.19 223.99 L313.39 223.98 L313.60 223.98 L313.80 223.97 L314.01 223.97 L314.21 223.96 L314.42 223.96 L314.63 223.95 L314.83 223.95 L315.04 223.94 L315.24 223.94 L315.45 223.93 L315.65 223.93 L315.86 223.93 L316.07 223.92 L316.27 223.92 L316.48 223.92 L316.68 223.91 L316.89 223.91 L317.09 223.91 L317.30 223.90 L317.50 223.90 L317.71 223.90 L317.92 223.90 L318.12 223.90 L318.33 223.89 L318.53 223.89 L318.74 223.89 L318.94 223.89 L319.15 223.89 L319.36 223.88 L319.56 223.88 L319.77 223.88 L319.97 223.88 L320.18 223.88 L320.38 223.88 L320.59 223.88 L320.79 223.88 L321.00 223.87 L321.21 223.87 L321.41 223.87 L321.62 223.87 L321.82 223.87 L322.03 223.87 L322.23 223.87 L322.44 223.87 L322.65 223.87 L322.85 223.87 L323.06 223.87 L323.26 223.87 L323.47 223.86 L323.67 223.86 L323.88 223.86 L324.08 223.86 L324.29 223.86 L324.50 223.86 L324.70 223.86 L324.91 223.86 L325.11 223.86 L325.32 223.86 L325.52 223.86 L325.73 223.86 L325.94 223.86 L326.14 223.86 L326.35 223.86 L326.55 223.86 L326.76 223.86 L326.96 223.86 L327.17 223.86 L327.37 223.86 L327.58 223.86 L327.79 223.86 L327.99 223.86 L328.20 223.86 L328.40 223.86 L328.61 223.86 L328.81 223.86 L329.02 223.86 L329.23 223.86 L329.43 223.86 L329.64 223.86 L329.84 223.86 L330.05 223.86 L330.25 223.86 L330.46 223.86 L330.66 223.86 L330.87 223.86 L331.08 223.86 L331.28 223.86 L331.49 223.86 L331.69 223.86 L331.90 223.86 L332.10 223.86 L332.31 223.86 L332.52 223.86 L332.72 223.86 L332.93 223.86 L333.13 223.86 L333.34 223.86 L333.54 223.86 L333.75 223.86 L333.95 223.86 L334.16 223.86 L334.37 223.86 L334.57 223.86 L334.78 223.86 L334.98 223.86 L335.19 223.87 L335.39 223.87 L335.60 223.87 L335.81 223.87 L336.01 223.87 L336.22 223.87 L336.42 223.87 L336.63 223.87 L336.83 223.87 L337.04 223.87 L337.24 223.87 L337.45 223.87 L337.66 223.88 L337.86 223.88 L338.07 223.88 L338.27 223.88 L338.48 223.88 L338.68 223.88 L338.89 223.88 L339.10 223.88 L339.30 223.89 L339.51 223.89 L339.71 223.89 L339.92 223.89 L340.12 223.89 L340.33 223.90 L340.53 223.90 L340.74 223.90 L340.95 223.90 L341.15 223.90 L341.36 223.91 L341.56 223.91 L341.77 223.91 L341.97 223.92 L342.18 223.92 L342.39 223.92 L342.59 223.93 L342.80 223.93 L343.00 223.93 L343.21 223.94 L343.41 223.94 L343.62 223.95 L343.82 223.95 L344.03 223.96 L344.24 223.96 L344.44 223.97 L344.65 223.97 L344.85 223.98 L345.06 223.98 L345.26 223.99 L345.47 224.00 L345.68 224.00 L345.88 224.01 L346.09 224.02 L346.29 224.03 L346.50 224.04 L346.70 224.04 L346.91 224.05 L347.11 224.06 L347.32 224.07 L347.53 224.09 L347.73 224.10 L347.94 224.11 L348.14 224.12 L348.35 224.13 L348.55 224.15 L348.76 224.16 L348.97 224.18 L349.17 224.19 L349.38 224.21 L349.58 224.23 L349.79 224.25 L349.99 224.26 L350.20 224.28 L350.40 224.31 L350.61 224.33 L350.82 224.35 L351.02 224.38 L351.23 224.40 L351.43 224.43 L351.64 224.46 L351.84 224.48 L352.05 224.52 L352.25 224.55 L352.46 224.58 L352.67 224.62 L352.87 224.65 L353.08 224.69 L353.28 224.73 L353.49 224.78 L353.69 224.82 L353.90 224.87 L354.11 224.92 L354.31 224.97 L354.52 225.02 L354.72 225.08 L354.93 225.14 L355.13 225.20 L355.34 225.27 L355.55 225.34 L355.75 225.41 L355.96 225.49 L356.16 225.56 L356.37 225.65 L356.57 225.74 L356.78 225.83 L356.98 225.92 L357.19 226.02 L357.40 226.13 L357.60 226.24 L357.81 226.35 L358.01 226.48 L358.22 226.60 L358.42 226.74 L358.63 226.88 L358.84 227.02 L359.04 227.18 L359.25 227.34 L359.45 227.51 L359.66 227.68 L359.86 227.87 L360.07 228.07 L360.27 228.27 L360.48 228.48 L360.69 228.71 L360.89 228.94 L361.10 229.19 L361.30 229.45 L361.51 229.72 L361.71 230.01 L361.92 230.31 L362.12 230.62 L362.33 230.95 L362.54 231.29 L362.74 231.65 L362.95 232.03 L363.15 232.43 L363.36 232.84 L363.56 233.28 L363.77 233.74 L363.98 234.21 L364.18 234.72 L364.39 235.24 L364.59 235.80 L364.80 236.38 L365.00 236.98 L365.21 237.62 L365.42 238.29 L365.62 238.99 L365.83 239.72 L366.03 240.49 L366.24 241.30 L366.44 242.14 L366.65 243.03 L366.85 243.96 L367.06 244.94 L367.27 245.96 L367.47 247.03 L367.68 248.15 L367.88 249.33 L368.09 250.57 L368.29 251.86 L368.50 253.22 L368.71 254.65 L368.91 256.14 L369.12 257.70 L369.32 259.35 L369.53 261.07 L369.73 262.87 L369.94 264.76 L370.14 266.75 L370.35 268.83" stroke="#ff0000" stroke-width="1.60"/>
<path d="M288.10 273.30 L288.31 273.27 L288.51 273.24 L288.72 273.19 L288.92 273.13 L289.13 273.07 L289.33 272.99 L289.54 272.91 L289.75 272.82 L289.95 272.73 L290.16 272.62 L290.36 272.51 L290.57 272.40 L290.77 272.27 L290.98 272.15 L291.18 272.01 L291.39 271.88 L291.60 271.73 L291.80 271.58 L292.01 271.43 L292.21 271.27 L292.42 271.11 L292.62 270.95 L292.83 270.78 L293.04 270.61 L293.24 270.43 L293.45 270.25 L293.65 270.07 L293.86 269.88 L294.06 269.70 L294.27 269.51 L294.47 269.31 L294.68 269.12 L294.89 268.92 L295.09 268.72 L295.30 268.52 L295.50 268.31 L295.71 268.11 L295.91 267.90 L296.12 267.69 L296.33 267.48 L296.53 267.26 L296.74 267.05 L296.94 266.83 L297.15 266.62 L297.35 266.40 L297.56 266.18 L297.76 265.96 L297.97 265.73 L298.18 265.51 L298.38 265.29 L298.59 265.06 L298.79 264.84 L299.00 264.61 L299.20 264.38 L299.41 264.15 L299.62 263.92 L299.82 263.69 L300.03 263.46 L300.23 263.23 L300.44 263.00 L300.64 262.76 L300.85 262.53 L301.05 262.29 L301.26 262.06 L301.47 261.82 L301.67 261.59 L301.88 261.35 L302.08 261.12 L302.29 260.88 L302.49 260.64 L302.70 260.40 L302.91 260.16 L303.11 259.93 L303.32 259.69 L303.52 259.45 L303.73 259.21 L303.93 258.97 L304.14 258.73 L304.34 258.49 L304.55 258.25 L304.76 258.01 L304.96 257.76 L305.17 257.52 L305.37 257.28 L305.58 257.04 L305.78 256.80 L305.99 256.56 L306.20 256.31 L306.40 256.07 L306.61 255.83 L306.81 255.59 L307.02 255.34 L307.22 255.10 L307.43 254.86 L307.63 254.61 L307.84 254.37 L308.05 254.13 L308.25 253.88 L308.46 253.64 L308.66 253.39 L308.87 253.15 L309.07 252.91 L309.28 252.66 L309.49 252.42 L309.69 252.17 L309.90 251.93 L310.10 251.69 L310.31 251.44 L310.51 251.20 L310.72 250.95 L310.92 250.71 L311.13 250.46 L311.34 250.22 L311.54 249.97 L311.75 249.73 L311.95 249.48 L312.16 249.24 L312.36 248.99 L312.57 248.75 L312.78 248.50 L312.98 248.26 L313.19 248.01 L313.39 247.77 L313.60 247.52 L313.80 247.28 L314.01 247.03 L314.21 246.79 L314.42 246.54 L314.63 246.30 L314.83 246.05 L315.04 245.80 L315.24 245.56 L315.45 245.31 L315.65 245.07 L315.86 244.82 L316.07 244.58 L316.27 244.33 L316.48 244.09 L316.68 243.84 L316.89 243.60 L317.09 243.35 L317.30 243.10 L317.50 242.86 L317.71 242.61 L317.92 242.37 L318.12 242.12 L318.33 241.88 L318.53 241.63 L318.74 241.38 L318.94 241.14 L319.15 240.89 L319.36 240.65 L319.56 240.40 L319.77 240.16 L319.97 239.91 L320.18 239.66 L320.38 239.42 L320.59 239.17 L320.79 238.93 L321.00 238.68 L321.21 238.44 L321.41 238.19 L321.62 237.94 L321.82 237.70 L322.03 237.45 L322.23 237.21 L322.44 236.96 L322.65 236.72 L322.85 236.47 L323.06 236.22 L323.26 235.98 L323.47 235.73 L323.67 235.49 L323.88 235.24 L324.08 234.99 L324.29 234.75 L324.50 234.50 L324.70 234.26 L324.91 234.01 L325.11 233.77 L325.32 233.52 L325.52 233.27 L325.73 233.03 L325.94 232.78 L326.14 232.54 L326.35 232.29 L326.55 232.04 L326.76 231.80 L326.96 231.55 L327.17 231.31 L327.37 231.06 L327.58 230.82 L327.79 230.57 L327.99 230.32 L328.20 230.08 L328.40 229.83 L328.61 229.59 L328.81 229.34 L329.02 229.09 L329.23 228.85 L329.43 228.60 L329.64 228.36 L329.84 228.11 L330.05 227.87 L330.25 227.62 L330.46 227.37 L330.66 227.13 L330.87 226.88 L331.08 226.64 L331.28 226.39 L331.49 226.14 L331.69 225.90 L331.90 225.65 L332.10 225.41 L332.31 225.16 L332.52 224.92 L332.72 224.67 L332.93 224.42 L333.13 224.18 L333.34 223.93 L333.54 223.69 L333.75 223.44 L333.95 223.19 L334.16 222.95 L334.37 222.70 L334.57 222.46 L334.78 222.21 L334.98 221.96 L335.19 221.72 L335.39 221.47 L335.60 221.23 L335.81 220.98 L336.01 220.74 L336.22 220.49 L336.42 220.24 L336.63 220.00 L336.83 219.75 L337.04 219.51 L337.24 219.26 L337.45 219.01 L337.66 218.77 L337.86 218.52 L338.07 218.28 L338.27 218.03 L338.48 217.79 L338.68 217.54 L338.89 217.29 L339.10 217.05 L339.30 216.80 L339.51 216.56 L339.71 216.31 L339.92 216.06 L340.12 215.82 L340.33 215.57 L340.53 215.33 L340.74 215.08 L340.95 214.83 L341.15 214.59 L341.36 214.34 L341.56 214.10 L341.77 213.85 L341.97 213.61 L342.18 213.36 L342.39 213.11 L342.59 212.87 L342.80 212.62 L343.00 212.38 L343.21 212.13 L343.41 211.88 L343.62 211.64 L343.82 211.39 L344.03 211.15 L344.24 210.90 L344.44 210.66 L344.65 210.41 L344.85 210.16 L345.06 209.92 L345.26 209.67 L345.47 209.43 L345.68 209.18 L345.88 208.93 L346.09 208.69 L346.29 208.44 L346.50 208.20 L346.70 207.95 L346.91 207.70 L347.11 207.46 L347.32 207.21 L347.53 206.97 L347.73 206.72 L347.94 206.48 L348.14 206.23 L348.35 205.98 L348.55 205.74 L348.76 205.49 L348.97 205.25 L349.17 205.00 L349.38 204.75 L349.58 204.51 L349.79 204.26 L349.99 204.02 L350.20 203.77 L350.40 203.52 L350.61 203.28 L350.82 203.03 L351.02 202.79 L351.23 202.54 L351.43 202.30 L351.64 202.05 L351.84 201.80 L352.05 201.56 L352.25 201.31 L352.46 201.07 L352.67 200.82 L352.87 200.57 L353.08 200.33 L353.28 200.08 L353.49 199.84 L353.69 199.59 L353.90 199.35 L354.11 199.10 L354.31 198.85 L354.52 198.61 L354.72 198.36 L354.93 198.12 L355.13 197.87 L355.34 197.62 L355.55 197.38 L355.75 197.13 L355.96 196.89 L356.16 196.64 L356.37 196.39 L356.57 196.15 L356.78 195.90 L356.98 195.66 L357.19 195.41 L357.40 195.17 L357.60 194.92 L357.81 194.67 L358.01 194.43 L358.22 194.18 L358.42 193.94 L358.63 193.69 L358.84 193.44 L359.04 193.20 L359.25 192.95 L359.45 192.71 L359.66 192.46 L359.86 192.21 L360.07 191.97 L360.27 191.72 L360.48 191.48 L360.69 191.23 L360.89 190.99 L361.10 190.74 L361.30 190.49 L361.51 190.25 L361.71 190.00 L361.92 189.76 L362.12 189.51 L362.33 189.26 L362.54 189.02 L362.74 188.77 L362.95 188.53 L363.15 188.28 L363.36 188.04 L363.56 187.79 L363.77 187.54 L363.98 187.30 L364.18 187.05 L364.39 186.81 L364.59 186.56 L364.80 186.31 L365.00 186.07 L365.21 185.82 L365.42 185.58 L365.62 185.33 L365.83 185.08 L366.03 184.84 L366.24 184.59 L366.44 184.35 L366.65 184.10 L366.85 183.86 L367.06 183.61 L367.27 183.36 L367.47 183.12 L367.68 182.87 L367.88 182.63 L368.09 182.38 L368.29 182.13 L368.50 181.89 L368.71 181.64 L368.91 181.40 L369.12 181.15 L369.32 180.91 L369.53 180.66 L369.73 180.41 L369.94 180.17 L370.14 179.92 L370.35 179.68" stroke="#0000ff" stroke-width="1.80" stroke-dasharray="7.5 3.5" stroke-dashoffset="7.70"/>
</g>
<rect x="297.4" y="6.0" width="64.0" height="1.9" fill="#f3f3f3"/>
<line x1="22.70" y1="139.20" x2="28.90" y2="139.20" stroke="#000" stroke-width="0.90"/>
<line x1="111.00" y1="139.20" x2="104.80" y2="139.20" stroke="#000" stroke-width="0.90"/>
<line x1="22.70" y1="128.02" x2="25.80" y2="128.02" stroke="#000" stroke-width="0.65"/>
<line x1="111.00" y1="128.02" x2="107.90" y2="128.02" stroke="#000" stroke-width="0.65"/>
<line x1="22.70" y1="116.85" x2="28.90" y2="116.85" stroke="#000" stroke-width="0.90"/>
<line x1="111.00" y1="116.85" x2="104.80" y2="116.85" stroke="#000" stroke-width="0.90"/>
<line x1="22.70" y1="105.67" x2="25.80" y2="105.67" stroke="#000" stroke-width="0.65"/>
<line x1="111.00" y1="105.67" x2="107.90" y2="105.67" stroke="#000" stroke-width="0.65"/>
<line x1="22.70" y1="94.50" x2="28.90" y2="94.50" stroke="#000" stroke-width="0.90"/>
<line x1="111.00" y1="94.50" x2="104.80" y2="94.50" stroke="#000" stroke-width="0.90"/>
<line x1="22.70" y1="83.32" x2="25.80" y2="83.32" stroke="#000" stroke-width="0.65"/>
<line x1="111.00" y1="83.32" x2="107.90" y2="83.32" stroke="#000" stroke-width="0.65"/>
<line x1="22.70" y1="72.15" x2="28.90" y2="72.15" stroke="#000" stroke-width="0.90"/>
<line x1="111.00" y1="72.15" x2="104.80" y2="72.15" stroke="#000" stroke-width="0.90"/>
<line x1="22.70" y1="60.97" x2="25.80" y2="60.97" stroke="#000" stroke-width="0.65"/>
<line x1="111.00" y1="60.97" x2="107.90" y2="60.97" stroke="#000" stroke-width="0.65"/>
<line x1="22.70" y1="49.80" x2="28.90" y2="49.80" stroke="#000" stroke-width="0.90"/>
<line x1="111.00" y1="49.80" x2="104.80" y2="49.80" stroke="#000" stroke-width="0.90"/>
<line x1="22.70" y1="38.62" x2="25.80" y2="38.62" stroke="#000" stroke-width="0.65"/>
<line x1="111.00" y1="38.62" x2="107.90" y2="38.62" stroke="#000" stroke-width="0.65"/>
<line x1="22.70" y1="27.45" x2="28.90" y2="27.45" stroke="#000" stroke-width="0.90"/>
<line x1="111.00" y1="27.45" x2="104.80" y2="27.45" stroke="#000" stroke-width="0.90"/>
<line x1="22.70" y1="16.27" x2="25.80" y2="16.27" stroke="#000" stroke-width="0.65"/>
<line x1="111.00" y1="16.27" x2="107.90" y2="16.27" stroke="#000" stroke-width="0.65"/>
<line x1="22.70" y1="5.10" x2="28.90" y2="5.10" stroke="#000" stroke-width="0.90"/>
<line x1="111.00" y1="5.10" x2="104.80" y2="5.10" stroke="#000" stroke-width="0.90"/>
<line x1="22.70" y1="139.20" x2="22.70" y2="133.00" stroke="#000" stroke-width="0.90"/>
<line x1="22.70" y1="5.10" x2="22.70" y2="11.30" stroke="#000" stroke-width="0.90"/>
<line x1="44.77" y1="139.20" x2="44.77" y2="136.10" stroke="#000" stroke-width="0.65"/>
<line x1="44.77" y1="5.10" x2="44.77" y2="8.20" stroke="#000" stroke-width="0.65"/>
<line x1="66.85" y1="139.20" x2="66.85" y2="133.00" stroke="#000" stroke-width="0.90"/>
<line x1="66.85" y1="5.10" x2="66.85" y2="11.30" stroke="#000" stroke-width="0.90"/>
<line x1="88.92" y1="139.20" x2="88.92" y2="136.10" stroke="#000" stroke-width="0.65"/>
<line x1="88.92" y1="5.10" x2="88.92" y2="8.20" stroke="#000" stroke-width="0.65"/>
<line x1="111.00" y1="139.20" x2="111.00" y2="133.00" stroke="#000" stroke-width="0.90"/>
<line x1="111.00" y1="5.10" x2="111.00" y2="11.30" stroke="#000" stroke-width="0.90"/>
<line x1="111.00" y1="139.20" x2="117.20" y2="139.20" stroke="#000" stroke-width="0.90"/>
<line x1="199.80" y1="139.20" x2="193.60" y2="139.20" stroke="#000" stroke-width="0.90"/>
<line x1="111.00" y1="128.02" x2="114.10" y2="128.02" stroke="#000" stroke-width="0.65"/>
<line x1="199.80" y1="128.02" x2="196.70" y2="128.02" stroke="#000" stroke-width="0.65"/>
<line x1="111.00" y1="116.85" x2="117.20" y2="116.85" stroke="#000" stroke-width="0.90"/>
<line x1="199.80" y1="116.85" x2="193.60" y2="116.85" stroke="#000" stroke-width="0.90"/>
<line x1="111.00" y1="105.67" x2="114.10" y2="105.67" stroke="#000" stroke-width="0.65"/>
<line x1="199.80" y1="105.67" x2="196.70" y2="105.67" stroke="#000" stroke-width="0.65"/>
<line x1="111.00" y1="94.50" x2="117.20" y2="94.50" stroke="#000" stroke-width="0.90"/>
<line x1="199.80" y1="94.50" x2="193.60" y2="94.50" stroke="#000" stroke-width="0.90"/>
<line x1="111.00" y1="83.32" x2="114.10" y2="83.32" stroke="#000" stroke-width="0.65"/>
<line x1="199.80" y1="83.32" x2="196.70" y2="83.32" stroke="#000" stroke-width="0.65"/>
<line x1="111.00" y1="72.15" x2="117.20" y2="72.15" stroke="#000" stroke-width="0.90"/>
<line x1="199.80" y1="72.15" x2="193.60" y2="72.15" stroke="#000" stroke-width="0.90"/>
<line x1="111.00" y1="60.97" x2="114.10" y2="60.97" stroke="#000" stroke-width="0.65"/>
<line x1="199.80" y1="60.97" x2="196.70" y2="60.97" stroke="#000" stroke-width="0.65"/>
<line x1="111.00" y1="49.80" x2="117.20" y2="49.80" stroke="#000" stroke-width="0.90"/>
<line x1="199.80" y1="49.80" x2="193.60" y2="49.80" stroke="#000" stroke-width="0.90"/>
<line x1="111.00" y1="38.62" x2="114.10" y2="38.62" stroke="#000" stroke-width="0.65"/>
<line x1="199.80" y1="38.62" x2="196.70" y2="38.62" stroke="#000" stroke-width="0.65"/>
<line x1="111.00" y1="27.45" x2="117.20" y2="27.45" stroke="#000" stroke-width="0.90"/>
<line x1="199.80" y1="27.45" x2="193.60" y2="27.45" stroke="#000" stroke-width="0.90"/>
<line x1="111.00" y1="16.27" x2="114.10" y2="16.27" stroke="#000" stroke-width="0.65"/>
<line x1="199.80" y1="16.27" x2="196.70" y2="16.27" stroke="#000" stroke-width="0.65"/>
<line x1="111.00" y1="5.10" x2="117.20" y2="5.10" stroke="#000" stroke-width="0.90"/>
<line x1="199.80" y1="5.10" x2="193.60" y2="5.10" stroke="#000" stroke-width="0.90"/>
<line x1="111.00" y1="139.20" x2="111.00" y2="133.00" stroke="#000" stroke-width="0.90"/>
<line x1="111.00" y1="5.10" x2="111.00" y2="11.30" stroke="#000" stroke-width="0.90"/>
<line x1="133.20" y1="139.20" x2="133.20" y2="136.10" stroke="#000" stroke-width="0.65"/>
<line x1="133.20" y1="5.10" x2="133.20" y2="8.20" stroke="#000" stroke-width="0.65"/>
<line x1="155.40" y1="139.20" x2="155.40" y2="133.00" stroke="#000" stroke-width="0.90"/>
<line x1="155.40" y1="5.10" x2="155.40" y2="11.30" stroke="#000" stroke-width="0.90"/>
<line x1="177.60" y1="139.20" x2="177.60" y2="136.10" stroke="#000" stroke-width="0.65"/>
<line x1="177.60" y1="5.10" x2="177.60" y2="8.20" stroke="#000" stroke-width="0.65"/>
<line x1="199.80" y1="139.20" x2="199.80" y2="133.00" stroke="#000" stroke-width="0.90"/>
<line x1="199.80" y1="5.10" x2="199.80" y2="11.30" stroke="#000" stroke-width="0.90"/>
<line x1="199.80" y1="139.20" x2="206.00" y2="139.20" stroke="#000" stroke-width="0.90"/>
<line x1="288.10" y1="139.20" x2="281.90" y2="139.20" stroke="#000" stroke-width="0.90"/>
<line x1="199.80" y1="128.02" x2="202.90" y2="128.02" stroke="#000" stroke-width="0.65"/>
<line x1="288.10" y1="128.02" x2="285.00" y2="128.02" stroke="#000" stroke-width="0.65"/>
<line x1="199.80" y1="116.85" x2="206.00" y2="116.85" stroke="#000" stroke-width="0.90"/>
<line x1="288.10" y1="116.85" x2="281.90" y2="116.85" stroke="#000" stroke-width="0.90"/>
<line x1="199.80" y1="105.67" x2="202.90" y2="105.67" stroke="#000" stroke-width="0.65"/>
<line x1="288.10" y1="105.67" x2="285.00" y2="105.67" stroke="#000" stroke-width="0.65"/>
<line x1="199.80" y1="94.50" x2="206.00" y2="94.50" stroke="#000" stroke-width="0.90"/>
<line x1="288.10" y1="94.50" x2="281.90" y2="94.50" stroke="#000" stroke-width="0.90"/>
<line x1="199.80" y1="83.32" x2="202.90" y2="83.32" stroke="#000" stroke-width="0.65"/>
<line x1="288.10" y1="83.32" x2="285.00" y2="83.32" stroke="#000" stroke-width="0.65"/>
<line x1="199.80" y1="72.15" x2="206.00" y2="72.15" stroke="#000" stroke-width="0.90"/>
<line x1="288.10" y1="72.15" x2="281.90" y2="72.15" stroke="#000" stroke-width="0.90"/>
<line x1="199.80" y1="60.97" x2="202.90" y2="60.97" stroke="#000" stroke-width="0.65"/>
<line x1="288.10" y1="60.97" x2="285.00" y2="60.97" stroke="#000" stroke-width="0.65"/>
<line x1="199.80" y1="49.80" x2="206.00" y2="49.80" stroke="#000" stroke-width="0.90"/>
<line x1="288.10" y1="49.80" x2="281.90" y2="49.80" stroke="#000" stroke-width="0.90"/>
<line x1="199.80" y1="38.62" x2="202.90" y2="38.62" stroke="#000" stroke-width="0.65"/>
<line x1="288.10" y1="38.62" x2="285.00" y2="38.62" stroke="#000" stroke-width="0.65"/>
<line x1="199.80" y1="27.45" x2="206.00" y2="27.45" stroke="#000" stroke-width="0.90"/>
<line x1="288.10" y1="27.45" x2="281.90" y2="27.45" stroke="#000" stroke-width="0.90"/>
<line x1="199.80" y1="16.27" x2="202.90" y2="16.27" stroke="#000" stroke-width="0.65"/>
<line x1="288.10" y1="16.27" x2="285.00" y2="16.27" stroke="#000" stroke-width="0.65"/>
<line x1="199.80" y1="5.10" x2="206.00" y2="5.10" stroke="#000" stroke-width="0.90"/>
<line x1="288.10" y1="5.10" x2="281.90" y2="5.10" stroke="#000" stroke-width="0.90"/>
<line x1="199.80" y1="139.20" x2="199.80" y2="133.00" stroke="#000" stroke-width="0.90"/>
<line x1="199.80" y1="5.10" x2="199.80" y2="11.30" stroke="#000" stroke-width="0.90"/>
<line x1="221.88" y1="139.20" x2="221.88" y2="136.10" stroke="#000" stroke-width="0.65"/>
<line x1="221.88" y1="5.10" x2="221.88" y2="8.20" stroke="#000" stroke-width="0.65"/>
<line x1="243.95" y1="139.20" x2="243.95" y2="133.00" stroke="#000" stroke-width="0.90"/>
<line x1="243.95" y1="5.10" x2="243.95" y2="11.30" stroke="#000" stroke-width="0.90"/>
<line x1="266.03" y1="139.20" x2="266.03" y2="136.10" stroke="#000" stroke-width="0.65"/>
<line x1="266.03" y1="5.10" x2="266.03" y2="8.20" stroke="#000" stroke-width="0.65"/>
<line x1="288.10" y1="139.20" x2="288.10" y2="133.00" stroke="#000" stroke-width="0.90"/>
<line x1="288.10" y1="5.10" x2="288.10" y2="11.30" stroke="#000" stroke-width="0.90"/>
<line x1="288.10" y1="139.20" x2="294.30" y2="139.20" stroke="#000" stroke-width="0.90"/>
<line x1="370.35" y1="139.20" x2="364.15" y2="139.20" stroke="#000" stroke-width="0.90"/>
<line x1="288.10" y1="128.02" x2="291.20" y2="128.02" stroke="#000" stroke-width="0.65"/>
<line x1="370.35" y1="128.02" x2="367.25" y2="128.02" stroke="#000" stroke-width="0.65"/>
<line x1="288.10" y1="116.85" x2="294.30" y2="116.85" stroke="#000" stroke-width="0.90"/>
<line x1="370.35" y1="116.85" x2="364.15" y2="116.85" stroke="#000" stroke-width="0.90"/>
<line x1="288.10" y1="105.67" x2="291.20" y2="105.67" stroke="#000" stroke-width="0.65"/>
<line x1="370.35" y1="105.67" x2="367.25" y2="105.67" stroke="#000" stroke-width="0.65"/>
<line x1="288.10" y1="94.50" x2="294.30" y2="94.50" stroke="#000" stroke-width="0.90"/>
<line x1="370.35" y1="94.50" x2="364.15" y2="94.50" stroke="#000" stroke-width="0.90"/>
<line x1="288.10" y1="83.32" x2="291.20" y2="83.32" stroke="#000" stroke-width="0.65"/>
<line x1="370.35" y1="83.32" x2="367.25" y2="83.32" stroke="#000" stroke-width="0.65"/>
<line x1="288.10" y1="72.15" x2="294.30" y2="72.15" stroke="#000" stroke-width="0.90"/>
<line x1="370.35" y1="72.15" x2="364.15" y2="72.15" stroke="#000" stroke-width="0.90"/>
<line x1="288.10" y1="60.97" x2="291.20" y2="60.97" stroke="#000" stroke-width="0.65"/>
<line x1="370.35" y1="60.97" x2="367.25" y2="60.97" stroke="#000" stroke-width="0.65"/>
<line x1="288.10" y1="49.80" x2="294.30" y2="49.80" stroke="#000" stroke-width="0.90"/>
<line x1="370.35" y1="49.80" x2="364.15" y2="49.80" stroke="#000" stroke-width="0.90"/>
<line x1="288.10" y1="38.62" x2="291.20" y2="38.62" stroke="#000" stroke-width="0.65"/>
<line x1="370.35" y1="38.62" x2="367.25" y2="38.62" stroke="#000" stroke-width="0.65"/>
<line x1="288.10" y1="27.45" x2="294.30" y2="27.45" stroke="#000" stroke-width="0.90"/>
<line x1="370.35" y1="27.45" x2="364.15" y2="27.45" stroke="#000" stroke-width="0.90"/>
<line x1="288.10" y1="16.27" x2="291.20" y2="16.27" stroke="#000" stroke-width="0.65"/>
<line x1="370.35" y1="16.27" x2="367.25" y2="16.27" stroke="#000" stroke-width="0.65"/>
<line x1="288.10" y1="5.10" x2="294.30" y2="5.10" stroke="#000" stroke-width="0.90"/>
<line x1="370.35" y1="5.10" x2="364.15" y2="5.10" stroke="#000" stroke-width="0.90"/>
<line x1="288.10" y1="139.20" x2="288.10" y2="133.00" stroke="#000" stroke-width="0.90"/>
<line x1="288.10" y1="5.10" x2="288.10" y2="11.30" stroke="#000" stroke-width="0.90"/>
<line x1="308.66" y1="139.20" x2="308.66" y2="136.10" stroke="#000" stroke-width="0.65"/>
<line x1="308.66" y1="5.10" x2="308.66" y2="8.20" stroke="#000" stroke-width="0.65"/>
<line x1="329.23" y1="139.20" x2="329.23" y2="133.00" stroke="#000" stroke-width="0.90"/>
<line x1="329.23" y1="5.10" x2="329.23" y2="11.30" stroke="#000" stroke-width="0.90"/>
<line x1="349.79" y1="139.20" x2="349.79" y2="136.10" stroke="#000" stroke-width="0.65"/>
<line x1="349.79" y1="5.10" x2="349.79" y2="8.20" stroke="#000" stroke-width="0.65"/>
<line x1="370.35" y1="139.20" x2="370.35" y2="133.00" stroke="#000" stroke-width="0.90"/>
<line x1="370.35" y1="5.10" x2="370.35" y2="11.30" stroke="#000" stroke-width="0.90"/>
<line x1="22.70" y1="273.30" x2="28.90" y2="273.30" stroke="#000" stroke-width="0.90"/>
<line x1="111.00" y1="273.30" x2="104.80" y2="273.30" stroke="#000" stroke-width="0.90"/>
<line x1="22.70" y1="262.12" x2="25.80" y2="262.12" stroke="#000" stroke-width="0.65"/>
<line x1="111.00" y1="262.12" x2="107.90" y2="262.12" stroke="#000" stroke-width="0.65"/>
<line x1="22.70" y1="250.95" x2="28.90" y2="250.95" stroke="#000" stroke-width="0.90"/>
<line x1="111.00" y1="250.95" x2="104.80" y2="250.95" stroke="#000" stroke-width="0.90"/>
<line x1="22.70" y1="239.78" x2="25.80" y2="239.78" stroke="#000" stroke-width="0.65"/>
<line x1="111.00" y1="239.78" x2="107.90" y2="239.78" stroke="#000" stroke-width="0.65"/>
<line x1="22.70" y1="228.60" x2="28.90" y2="228.60" stroke="#000" stroke-width="0.90"/>
<line x1="111.00" y1="228.60" x2="104.80" y2="228.60" stroke="#000" stroke-width="0.90"/>
<line x1="22.70" y1="217.43" x2="25.80" y2="217.43" stroke="#000" stroke-width="0.65"/>
<line x1="111.00" y1="217.43" x2="107.90" y2="217.43" stroke="#000" stroke-width="0.65"/>
<line x1="22.70" y1="206.25" x2="28.90" y2="206.25" stroke="#000" stroke-width="0.90"/>
<line x1="111.00" y1="206.25" x2="104.80" y2="206.25" stroke="#000" stroke-width="0.90"/>
<line x1="22.70" y1="195.07" x2="25.80" y2="195.07" stroke="#000" stroke-width="0.65"/>
<line x1="111.00" y1="195.07" x2="107.90" y2="195.07" stroke="#000" stroke-width="0.65"/>
<line x1="22.70" y1="183.90" x2="28.90" y2="183.90" stroke="#000" stroke-width="0.90"/>
<line x1="111.00" y1="183.90" x2="104.80" y2="183.90" stroke="#000" stroke-width="0.90"/>
<line x1="22.70" y1="172.73" x2="25.80" y2="172.73" stroke="#000" stroke-width="0.65"/>
<line x1="111.00" y1="172.73" x2="107.90" y2="172.73" stroke="#000" stroke-width="0.65"/>
<line x1="22.70" y1="161.55" x2="28.90" y2="161.55" stroke="#000" stroke-width="0.90"/>
<line x1="111.00" y1="161.55" x2="104.80" y2="161.55" stroke="#000" stroke-width="0.90"/>
<line x1="22.70" y1="150.38" x2="25.80" y2="150.38" stroke="#000" stroke-width="0.65"/>
<line x1="111.00" y1="150.38" x2="107.90" y2="150.38" stroke="#000" stroke-width="0.65"/>
<line x1="22.70" y1="139.20" x2="28.90" y2="139.20" stroke="#000" stroke-width="0.90"/>
<line x1="111.00" y1="139.20" x2="104.80" y2="139.20" stroke="#000" stroke-width="0.90"/>
<line x1="22.70" y1="273.30" x2="22.70" y2="267.10" stroke="#000" stroke-width="0.90"/>
<line x1="22.70" y1="139.20" x2="22.70" y2="145.40" stroke="#000" stroke-width="0.90"/>
<line x1="44.77" y1="273.30" x2="44.77" y2="270.20" stroke="#000" stroke-width="0.65"/>
<line x1="44.77" y1="139.20" x2="44.77" y2="142.30" stroke="#000" stroke-width="0.65"/>
<line x1="66.85" y1="273.30" x2="66.85" y2="267.10" stroke="#000" stroke-width="0.90"/>
<line x1="66.85" y1="139.20" x2="66.85" y2="145.40" stroke="#000" stroke-width="0.90"/>
<line x1="88.92" y1="273.30" x2="88.92" y2="270.20" stroke="#000" stroke-width="0.65"/>
<line x1="88.92" y1="139.20" x2="88.92" y2="142.30" stroke="#000" stroke-width="0.65"/>
<line x1="111.00" y1="273.30" x2="111.00" y2="267.10" stroke="#000" stroke-width="0.90"/>
<line x1="111.00" y1="139.20" x2="111.00" y2="145.40" stroke="#000" stroke-width="0.90"/>
<line x1="111.00" y1="273.30" x2="117.20" y2="273.30" stroke="#000" stroke-width="0.90"/>
<line x1="199.80" y1="273.30" x2="193.60" y2="273.30" stroke="#000" stroke-width="0.90"/>
<line x1="111.00" y1="262.12" x2="114.10" y2="262.12" stroke="#000" stroke-width="0.65"/>
<line x1="199.80" y1="262.12" x2="196.70" y2="262.12" stroke="#000" stroke-width="0.65"/>
<line x1="111.00" y1="250.95" x2="117.20" y2="250.95" stroke="#000" stroke-width="0.90"/>
<line x1="199.80" y1="250.95" x2="193.60" y2="250.95" stroke="#000" stroke-width="0.90"/>
<line x1="111.00" y1="239.78" x2="114.10" y2="239.78" stroke="#000" stroke-width="0.65"/>
<line x1="199.80" y1="239.78" x2="196.70" y2="239.78" stroke="#000" stroke-width="0.65"/>
<line x1="111.00" y1="228.60" x2="117.20" y2="228.60" stroke="#000" stroke-width="0.90"/>
<line x1="199.80" y1="228.60" x2="193.60" y2="228.60" stroke="#000" stroke-width="0.90"/>
<line x1="111.00" y1="217.43" x2="114.10" y2="217.43" stroke="#000" stroke-width="0.65"/>
<line x1="199.80" y1="217.43" x2="196.70" y2="217.43" stroke="#000" stroke-width="0.65"/>
<line x1="111.00" y1="206.25" x2="117.20" y2="206.25" stroke="#000" stroke-width="0.90"/>
<line x1="199.80" y1="206.25" x2="193.60" y2="206.25" stroke="#000" stroke-width="0.90"/>
<line x1="111.00" y1="195.07" x2="114.10" y2="195.07" stroke="#000" stroke-width="0.65"/>
<line x1="199.80" y1="195.07" x2="196.70" y2="195.07" stroke="#000" stroke-width="0.65"/>
<line x1="111.00" y1="183.90" x2="117.20" y2="183.90" stroke="#000" stroke-width="0.90"/>
<line x1="199.80" y1="183.90" x2="193.60" y2="183.90" stroke="#000" stroke-width="0.90"/>
<line x1="111.00" y1="172.73" x2="114.10" y2="172.73" stroke="#000" stroke-width="0.65"/>
<line x1="199.80" y1="172.73" x2="196.70" y2="172.73" stroke="#000" stroke-width="0.65"/>
<line x1="111.00" y1="161.55" x2="117.20" y2="161.55" stroke="#000" stroke-width="0.90"/>
<line x1="199.80" y1="161.55" x2="193.60" y2="161.55" stroke="#000" stroke-width="0.90"/>
<line x1="111.00" y1="150.38" x2="114.10" y2="150.38" stroke="#000" stroke-width="0.65"/>
<line x1="199.80" y1="150.38" x2="196.70" y2="150.38" stroke="#000" stroke-width="0.65"/>
<line x1="111.00" y1="139.20" x2="117.20" y2="139.20" stroke="#000" stroke-width="0.90"/>
<line x1="199.80" y1="139.20" x2="193.60" y2="139.20" stroke="#000" stroke-width="0.90"/>
<line x1="111.00" y1="273.30" x2="111.00" y2="267.10" stroke="#000" stroke-width="0.90"/>
<line x1="111.00" y1="139.20" x2="111.00" y2="145.40" stroke="#000" stroke-width="0.90"/>
<line x1="133.20" y1="273.30" x2="133.20" y2="270.20" stroke="#000" stroke-width="0.65"/>
<line x1="133.20" y1="139.20" x2="133.20" y2="142.30" stroke="#000" stroke-width="0.65"/>
<line x1="155.40" y1="273.30" x2="155.40" y2="267.10" stroke="#000" stroke-width="0.90"/>
<line x1="155.40" y1="139.20" x2="155.40" y2="145.40" stroke="#000" stroke-width="0.90"/>
<line x1="177.60" y1="273.30" x2="177.60" y2="270.20" stroke="#000" stroke-width="0.65"/>
<line x1="177.60" y1="139.20" x2="177.60" y2="142.30" stroke="#000" stroke-width="0.65"/>
<line x1="199.80" y1="273.30" x2="199.80" y2="267.10" stroke="#000" stroke-width="0.90"/>
<line x1="199.80" y1="139.20" x2="199.80" y2="145.40" stroke="#000" stroke-width="0.90"/>
<line x1="199.80" y1="273.30" x2="206.00" y2="273.30" stroke="#000" stroke-width="0.90"/>
<line x1="288.10" y1="273.30" x2="281.90" y2="273.30" stroke="#000" stroke-width="0.90"/>
<line x1="199.80" y1="262.12" x2="202.90" y2="262.12" stroke="#000" stroke-width="0.65"/>
<line x1="288.10" y1="262.12" x2="285.00" y2="262.12" stroke="#000" stroke-width="0.65"/>
<line x1="199.80" y1="250.95" x2="206.00" y2="250.95" stroke="#000" stroke-width="0.90"/>
<line x1="288.10" y1="250.95" x2="281.90" y2="250.95" stroke="#000" stroke-width="0.90"/>
<line x1="199.80" y1="239.78" x2="202.90" y2="239.78" stroke="#000" stroke-width="0.65"/>
<line x1="288.10" y1="239.78" x2="285.00" y2="239.78" stroke="#000" stroke-width="0.65"/>
<line x1="199.80" y1="228.60" x2="206.00" y2="228.60" stroke="#000" stroke-width="0.90"/>
<line x1="288.10" y1="228.60" x2="281.90" y2="228.60" stroke="#000" stroke-width="0.90"/>
<line x1="199.80" y1="217.43" x2="202.90" y2="217.43" stroke="#000" stroke-width="0.65"/>
<line x1="288.10" y1="217.43" x2="285.00" y2="217.43" stroke="#000" stroke-width="0.65"/>
<line x1="199.80" y1="206.25" x2="206.00" y2="206.25" stroke="#000" stroke-width="0.90"/>
<line x1="288.10" y1="206.25" x2="281.90" y2="206.25" stroke="#000" stroke-width="0.90"/>
<line x1="199.80" y1="195.07" x2="202.90" y2="195.07" stroke="#000" stroke-width="0.65"/>
<line x1="288.10" y1="195.07" x2="285.00" y2="195.07" stroke="#000" stroke-width="0.65"/>
<line x1="199.80" y1="183.90" x2="206.00" y2="183.90" stroke="#000" stroke-width="0.90"/>
<line x1="288.10" y1="183.90" x2="281.90" y2="183.90" stroke="#000" stroke-width="0.90"/>
<line x1="199.80" y1="172.73" x2="202.90" y2="172.73" stroke="#000" stroke-width="0.65"/>
<line x1="288.10" y1="172.73" x2="285.00" y2="172.73" stroke="#000" stroke-width="0.65"/>
<line x1="199.80" y1="161.55" x2="206.00" y2="161.55" stroke="#000" stroke-width="0.90"/>
<line x1="288.10" y1="161.55" x2="281.90" y2="161.55" stroke="#000" stroke-width="0.90"/>
<line x1="199.80" y1="150.38" x2="202.90" y2="150.38" stroke="#000" stroke-width="0.65"/>
<line x1="288.10" y1="150.38" x2="285.00" y2="150.38" stroke="#000" stroke-width="0.65"/>
<line x1="199.80" y1="139.20" x2="206.00" y2="139.20" stroke="#000" stroke-width="0.90"/>
<line x1="288.10" y1="139.20" x2="281.90" y2="139.20" stroke="#000" stroke-width="0.90"/>
<line x1="199.80" y1="273.30" x2="199.80" y2="267.10" stroke="#000" stroke-width="0.90"/>
<line x1="199.80" y1="139.20" x2="199.80" y2="145.40" stroke="#000" stroke-width="0.90"/>
<line x1="221.88" y1="273.30" x2="221.88" y2="270.20" stroke="#000" stroke-width="0.65"/>
<line x1="221.88" y1="139.20" x2="221.88" y2="142.30" stroke="#000" stroke-width="0.65"/>
<line x1="243.95" y1="273.30" x2="243.95" y2="267.10" stroke="#000" stroke-width="0.90"/>
<line x1="243.95" y1="139.20" x2="243.95" y2="145.40" stroke="#000" stroke-width="0.90"/>
<line x1="266.03" y1="273.30" x2="266.03" y2="270.20" stroke="#000" stroke-width="0.65"/>
<line x1="266.03" y1="139.20" x2="266.03" y2="142.30" stroke="#000" stroke-width="0.65"/>
<line x1="288.10" y1="273.30" x2="288.10" y2="267.10" stroke="#000" stroke-width="0.90"/>
<line x1="288.10" y1="139.20" x2="288.10" y2="145.40" stroke="#000" stroke-width="0.90"/>
<line x1="288.10" y1="273.30" x2="294.30" y2="273.30" stroke="#000" stroke-width="0.90"/>
<line x1="370.35" y1="273.30" x2="364.15" y2="273.30" stroke="#000" stroke-width="0.90"/>
<line x1="288.10" y1="262.12" x2="291.20" y2="262.12" stroke="#000" stroke-width="0.65"/>
<line x1="370.35" y1="262.12" x2="367.25" y2="262.12" stroke="#000" stroke-width="0.65"/>
<line x1="288.10" y1="250.95" x2="294.30" y2="250.95" stroke="#000" stroke-width="0.90"/>
<line x1="370.35" y1="250.95" x2="364.15" y2="250.95" stroke="#000" stroke-width="0.90"/>
<line x1="288.10" y1="239.78" x2="291.20" y2="239.78" stroke="#000" stroke-width="0.65"/>
<line x1="370.35" y1="239.78" x2="367.25" y2="239.78" stroke="#000" stroke-width="0.65"/>
<line x1="288.10" y1="228.60" x2="294.30" y2="228.60" stroke="#000" stroke-width="0.90"/>
<line x1="370.35" y1="228.60" x2="364.15" y2="228.60" stroke="#000" stroke-width="0.90"/>
<line x1="288.10" y1="217.43" x2="291.20" y2="217.43" stroke="#000" stroke-width="0.65"/>
<line x1="370.35" y1="217.43" x2="367.25" y2="217.43" stroke="#000" stroke-width="0.65"/>
<line x1="288.10" y1="206.25" x2="294.30" y2="206.25" stroke="#000" stroke-width="0.90"/>
<line x1="370.35" y1="206.25" x2="364.15" y2="206.25" stroke="#000" stroke-width="0.90"/>
<line x1="288.10" y1="195.07" x2="291.20" y2="195.07" stroke="#000" stroke-width="0.65"/>
<line x1="370.35" y1="195.07" x2="367.25" y2="195.07" stroke="#000" stroke-width="0.65"/>
<line x1="288.10" y1="183.90" x2="294.30" y2="183.90" stroke="#000" stroke-width="0.90"/>
<line x1="370.35" y1="183.90" x2="364.15" y2="183.90" stroke="#000" stroke-width="0.90"/>
<line x1="288.10" y1="172.73" x2="291.20" y2="172.73" stroke="#000" stroke-width="0.65"/>
<line x1="370.35" y1="172.73" x2="367.25" y2="172.73" stroke="#000" stroke-width="0.65"/>
<line x1="288.10" y1="161.55" x2="294.30" y2="161.55" stroke="#000" stroke-width="0.90"/>
<line x1="370.35" y1="161.55" x2="364.15" y2="161.55" stroke="#000" stroke-width="0.90"/>
<line x1="288.10" y1="150.38" x2="291.20" y2="150.38" stroke="#000" stroke-width="0.65"/>
<line x1="370.35" y1="150.38" x2="367.25" y2="150.38" stroke="#000" stroke-width="0.65"/>
<line x1="288.10" y1="139.20" x2="294.30" y2="139.20" stroke="#000" stroke-width="0.90"/>
<line x1="370.35" y1="139.20" x2="364.15" y2="139.20" stroke="#000" stroke-width="0.90"/>
<line x1="288.10" y1="273.30" x2="288.10" y2="267.10" stroke="#000" stroke-width="0.90"/>
<line x1="288.10" y1="139.20" x2="288.10" y2="145.40" stroke="#000" stroke-width="0.90"/>
<line x1="308.66" y1="273.30" x2="308.66" y2="270.20" stroke="#000" stroke-width="0.65"/>
<line x1="308.66" y1="139.20" x2="308.66" y2="142.30" stroke="#000" stroke-width="0.65"/>
<line x1="329.23" y1="273.30" x2="329.23" y2="267.10" stroke="#000" stroke-width="0.90"/>
<line x1="329.23" y1="139.20" x2="329.23" y2="145.40" stroke="#000" stroke-width="0.90"/>
<line x1="349.79" y1="273.30" x2="349.79" y2="270.20" stroke="#000" stroke-width="0.65"/>
<line x1="349.79" y1="139.20" x2="349.79" y2="142.30" stroke="#000" stroke-width="0.65"/>
<line x1="370.35" y1="273.30" x2="370.35" y2="267.10" stroke="#000" stroke-width="0.90"/>
<line x1="370.35" y1="139.20" x2="370.35" y2="145.40" stroke="#000" stroke-width="0.90"/>
<line x1="22.70" y1="4.35" x2="22.70" y2="274.05" stroke="#000" stroke-width="1.50"/>
<line x1="111.00" y1="4.35" x2="111.00" y2="274.05" stroke="#000" stroke-width="2.00"/>
<line x1="199.80" y1="4.35" x2="199.80" y2="274.05" stroke="#000" stroke-width="2.00"/>
<line x1="288.10" y1="4.35" x2="288.10" y2="274.05" stroke="#000" stroke-width="2.00"/>
<line x1="370.35" y1="4.35" x2="370.35" y2="274.05" stroke="#000" stroke-width="1.50"/>
<line x1="21.95" y1="5.10" x2="371.10" y2="5.10" stroke="#000" stroke-width="1.50"/>
<line x1="21.95" y1="139.20" x2="371.10" y2="139.20" stroke="#000" stroke-width="1.50"/>
<line x1="21.95" y1="273.30" x2="371.10" y2="273.30" stroke="#000" stroke-width="1.50"/>
<rect x="45.30" y="7.90" width="43.45" height="12.30" fill="#fff" stroke="#000" stroke-width="1.25"/>
<g transform="translate(48.53 16.80) scale(0.9174 1)" fill="#000">
<text x="0.00" y="0.00" font-size="9.20" style="word-spacing:-0.90px" xml:space="preserve" stroke="#000" stroke-width="0.10">N</text>
<text x="6.64" y="2.02" font-size="5.06" style="word-spacing:-0.90px" xml:space="preserve" stroke="#000" stroke-width="0.20">L</text>
<text x="9.73" y="0.00" font-size="9.20" style="word-spacing:-0.90px" xml:space="preserve" stroke="#000" stroke-width="0.10"> </text>
<rect x="10.72" y="-1.67" width="4.77" height="0.75" fill="#1a1a1a"/>
<rect x="10.72" y="-3.68" width="4.77" height="0.75" fill="#1a1a1a"/>
<text x="16.32" y="0.00" font-size="9.20" style="word-spacing:-0.90px" xml:space="preserve" stroke="#000" stroke-width="0.10"> N</text>
<text x="24.37" y="2.02" font-size="5.06" style="word-spacing:-0.90px" xml:space="preserve" stroke="#000" stroke-width="0.20">R</text>
<text x="27.74" y="0.00" font-size="9.20" style="word-spacing:-0.90px" xml:space="preserve" stroke="#000" stroke-width="0.10"> </text>
<rect x="28.73" y="-1.67" width="4.77" height="0.75" fill="#1a1a1a"/>
<rect x="28.73" y="-3.68" width="4.77" height="0.75" fill="#1a1a1a"/>
<text x="34.33" y="0.00" font-size="9.20" style="word-spacing:-0.90px" xml:space="preserve" stroke="#000" stroke-width="0.10"> 1</text>
</g>
<rect x="35.60" y="23.85" width="63.60" height="11.25" fill="#bc8f8f" stroke="#000" stroke-width="1.25"/>
<g transform="translate(37.75 31.55) scale(1.1023 1)" fill="#000">
<text x="0.00" y="0.00" font-size="8.10" style="word-spacing:-0.90px" xml:space="preserve" stroke="#000" stroke-width="0.10">N</text>
<text x="5.85" y="1.78" font-size="4.46" style="word-spacing:-0.90px" xml:space="preserve" stroke="#000" stroke-width="0.20">L</text>
<text x="8.57" y="0.00" font-size="8.10" style="word-spacing:-0.90px" xml:space="preserve" stroke="#000" stroke-width="0.10"> </text>
<rect x="10.06" y="-1.53" width="3.84" height="0.75" fill="#1a1a1a"/>
<rect x="10.06" y="-3.01" width="3.84" height="0.75" fill="#1a1a1a"/>
<text x="14.26" y="0.00" font-size="8.10" style="word-spacing:-0.90px" xml:space="preserve" stroke="#000" stroke-width="0.10"> N</text>
<text x="21.24" y="1.78" font-size="4.46" style="word-spacing:-0.90px" xml:space="preserve" stroke="#000" stroke-width="0.20">I</text>
<text x="22.72" y="0.00" font-size="8.10" style="word-spacing:-0.90px" xml:space="preserve" stroke="#000" stroke-width="0.10"> </text>
<rect x="24.21" y="-1.53" width="3.84" height="0.75" fill="#1a1a1a"/>
<rect x="24.21" y="-3.01" width="3.84" height="0.75" fill="#1a1a1a"/>
<text x="28.42" y="0.00" font-size="8.10" style="word-spacing:-0.90px" xml:space="preserve" stroke="#000" stroke-width="0.10"> N</text>
<text x="35.39" y="1.78" font-size="4.46" style="word-spacing:-0.90px" xml:space="preserve" stroke="#000" stroke-width="0.20">R</text>
<text x="38.36" y="0.00" font-size="8.10" style="word-spacing:-0.90px" xml:space="preserve" stroke="#000" stroke-width="0.10"> &gt;&gt; 1</text>
</g>
<rect x="133.40" y="7.90" width="44.90" height="12.30" fill="#fff" stroke="#000" stroke-width="1.25"/>
<g transform="translate(136.90 16.80) scale(0.9397 1)" fill="#000">
<text x="0.00" y="0.00" font-size="9.20" style="word-spacing:-0.90px" xml:space="preserve" stroke="#000" stroke-width="0.10">N</text>
<text x="6.64" y="2.02" font-size="5.06" style="word-spacing:-0.90px" xml:space="preserve" stroke="#000" stroke-width="0.20">L</text>
<text x="9.73" y="0.00" font-size="9.20" style="word-spacing:-0.90px" xml:space="preserve" stroke="#000" stroke-width="0.10"> </text>
<rect x="10.72" y="-1.67" width="4.77" height="0.75" fill="#1a1a1a"/>
<rect x="10.72" y="-3.68" width="4.77" height="0.75" fill="#1a1a1a"/>
<text x="16.32" y="0.00" font-size="9.20" style="word-spacing:-0.90px" xml:space="preserve" stroke="#000" stroke-width="0.10"> N</text>
<text x="24.37" y="2.02" font-size="5.06" style="word-spacing:-0.90px" xml:space="preserve" stroke="#000" stroke-width="0.20">R</text>
<text x="27.74" y="0.00" font-size="9.20" style="word-spacing:-0.90px" xml:space="preserve" stroke="#000" stroke-width="0.10"> </text>
<rect x="28.73" y="-1.67" width="4.77" height="0.75" fill="#1a1a1a"/>
<rect x="28.73" y="-3.68" width="4.77" height="0.75" fill="#1a1a1a"/>
<text x="34.33" y="0.00" font-size="9.20" style="word-spacing:-0.90px" xml:space="preserve" stroke="#000" stroke-width="0.10"> 5</text>
</g>
<rect x="217.50" y="7.90" width="53.10" height="12.30" fill="#fff" stroke="#000" stroke-width="1.25"/>
<g transform="translate(220.50 16.80) scale(0.9509 1)" fill="#000">
<text x="0.00" y="0.00" font-size="9.20" style="word-spacing:-0.90px" xml:space="preserve" stroke="#000" stroke-width="0.10">N</text>
<text x="6.64" y="2.02" font-size="5.06" style="word-spacing:-0.90px" xml:space="preserve" stroke="#000" stroke-width="0.20">L</text>
<text x="9.73" y="0.00" font-size="9.20" style="word-spacing:-0.90px" xml:space="preserve" stroke="#000" stroke-width="0.10"> </text>
<rect x="10.72" y="-1.67" width="4.77" height="0.75" fill="#1a1a1a"/>
<rect x="10.72" y="-3.68" width="4.77" height="0.75" fill="#1a1a1a"/>
<text x="16.32" y="0.00" font-size="9.20" style="word-spacing:-0.90px" xml:space="preserve" stroke="#000" stroke-width="0.10"> N</text>
<text x="24.37" y="2.02" font-size="5.06" style="word-spacing:-0.90px" xml:space="preserve" stroke="#000" stroke-width="0.20">R</text>
<text x="27.74" y="0.00" font-size="9.20" style="word-spacing:-0.90px" xml:space="preserve" stroke="#000" stroke-width="0.10"> </text>
<rect x="28.73" y="-1.67" width="4.77" height="0.75" fill="#1a1a1a"/>
<rect x="28.73" y="-3.68" width="4.77" height="0.75" fill="#1a1a1a"/>
<text x="34.33" y="0.00" font-size="9.20" style="word-spacing:-0.90px" xml:space="preserve" stroke="#000" stroke-width="0.10"> 100</text>
</g>
<rect x="297.40" y="8.30" width="64.00" height="11.90" fill="#e6e6e6" stroke="#000" stroke-width="1.25"/>
<g transform="translate(301.10 16.40) scale(0.9988 1)" fill="#000">
<text x="0.00" y="0.00" font-size="8.60" style="word-spacing:-0.90px" xml:space="preserve" stroke="#000" stroke-width="0.10">N</text>
<text x="6.21" y="1.89" font-size="4.73" style="word-spacing:-0.90px" xml:space="preserve" stroke="#000" stroke-width="0.20">L</text>
<text x="9.10" y="0.00" font-size="8.60" style="word-spacing:-0.90px" xml:space="preserve" stroke="#000" stroke-width="0.10"> </text>
<rect x="9.96" y="-1.59" width="4.46" height="0.75" fill="#1a1a1a"/>
<rect x="9.96" y="-3.46" width="4.46" height="0.75" fill="#1a1a1a"/>
<text x="15.20" y="0.00" font-size="8.60" style="word-spacing:-0.90px" xml:space="preserve" stroke="#000" stroke-width="0.10"> N</text>
<text x="22.66" y="1.89" font-size="4.73" style="word-spacing:-0.90px" xml:space="preserve" stroke="#000" stroke-width="0.20">R</text>
<text x="25.82" y="0.00" font-size="8.60" style="word-spacing:-0.90px" xml:space="preserve" stroke="#000" stroke-width="0.10"> arbitrary</text>
</g>
<rect x="297.70" y="24.30" width="63.70" height="10.90" fill="#bc8f8f" stroke="#000" stroke-width="1.25"/>
<g transform="translate(300.10 31.80) scale(1.0948 1)" fill="#000">
<text x="0.00" y="0.00" font-size="8.10" style="word-spacing:-0.90px" xml:space="preserve" stroke="#000" stroke-width="0.10">N</text>
<text x="5.85" y="1.78" font-size="4.46" style="word-spacing:-0.90px" xml:space="preserve" stroke="#000" stroke-width="0.20">L</text>
<text x="8.57" y="0.00" font-size="8.10" style="word-spacing:-0.90px" xml:space="preserve" stroke="#000" stroke-width="0.10"> </text>
<rect x="10.06" y="-1.53" width="3.84" height="0.75" fill="#1a1a1a"/>
<rect x="10.06" y="-3.01" width="3.84" height="0.75" fill="#1a1a1a"/>
<text x="14.26" y="0.00" font-size="8.10" style="word-spacing:-0.90px" xml:space="preserve" stroke="#000" stroke-width="0.10"> N</text>
<text x="21.24" y="1.78" font-size="4.46" style="word-spacing:-0.90px" xml:space="preserve" stroke="#000" stroke-width="0.20">I</text>
<text x="22.72" y="0.00" font-size="8.10" style="word-spacing:-0.90px" xml:space="preserve" stroke="#000" stroke-width="0.10"> </text>
<rect x="24.21" y="-1.53" width="3.84" height="0.75" fill="#1a1a1a"/>
<rect x="24.21" y="-3.01" width="3.84" height="0.75" fill="#1a1a1a"/>
<text x="28.42" y="0.00" font-size="8.10" style="word-spacing:-0.90px" xml:space="preserve" stroke="#000" stroke-width="0.10"> N</text>
<text x="35.39" y="1.78" font-size="4.46" style="word-spacing:-0.90px" xml:space="preserve" stroke="#000" stroke-width="0.20">R</text>
<text x="38.36" y="0.00" font-size="8.10" style="word-spacing:-0.90px" xml:space="preserve" stroke="#000" stroke-width="0.10"> &lt;&lt; 1</text>
</g>
<rect x="302.10" y="38.75" width="55.30" height="11.55" fill="#bc8f8f" stroke="#000" stroke-width="1.25"/>
<g transform="translate(304.90 46.60) scale(1.1577 1)" fill="#000">
<text x="0.00" y="0.00" font-size="8.10" style="word-spacing:-0.90px" xml:space="preserve" stroke="#000" stroke-width="0.10">N</text>
<text x="5.85" y="1.78" font-size="4.46" style="word-spacing:-0.90px" xml:space="preserve" stroke="#000" stroke-width="0.20">L</text>
<text x="8.57" y="0.00" font-size="8.10" style="word-spacing:-0.90px" xml:space="preserve" stroke="#000" stroke-width="0.10"> </text>
<rect x="10.06" y="-1.53" width="3.84" height="0.75" fill="#1a1a1a"/>
<rect x="10.06" y="-3.01" width="3.84" height="0.75" fill="#1a1a1a"/>
<text x="14.26" y="0.00" font-size="8.10" style="word-spacing:-0.90px" xml:space="preserve" stroke="#000" stroke-width="0.10"> N</text>
<text x="21.24" y="1.78" font-size="4.46" style="word-spacing:-0.90px" xml:space="preserve" stroke="#000" stroke-width="0.20">R</text>
<text x="24.21" y="0.00" font-size="8.10" style="word-spacing:-0.90px" xml:space="preserve" stroke="#000" stroke-width="0.10"> &gt;&gt; N</text>
<text x="41.45" y="1.78" font-size="4.46" style="word-spacing:-0.90px" xml:space="preserve" stroke="#000" stroke-width="0.20">I</text>
</g>
<rect x="33.85" y="142.40" width="67.15" height="12.10" fill="#bc8f8f" stroke="#000" stroke-width="1.25"/>
<g transform="translate(36.57 150.00) scale(1.0899 1)" fill="#000">
<text x="0.00" y="0.00" font-size="8.00" style="word-spacing:-0.90px" xml:space="preserve" stroke="#000" stroke-width="0.10">N</text>
<text x="5.78" y="1.76" font-size="4.40" style="word-spacing:-0.90px" xml:space="preserve" stroke="#000" stroke-width="0.20">I</text>
<text x="7.24" y="0.00" font-size="8.00" style="word-spacing:-0.90px" xml:space="preserve" stroke="#000" stroke-width="0.10"> </text>
<rect x="8.70" y="-1.25" width="3.79" height="0.75" fill="#1a1a1a"/>
<rect x="8.70" y="-2.77" width="3.79" height="0.75" fill="#1a1a1a"/>
<text x="12.85" y="0.00" font-size="8.00" style="word-spacing:-0.90px" xml:space="preserve" stroke="#000" stroke-width="0.10"> 1; N</text>
<text x="27.05" y="1.76" font-size="4.40" style="word-spacing:-0.90px" xml:space="preserve" stroke="#000" stroke-width="0.20">L</text>
<text x="29.74" y="0.00" font-size="8.00" style="word-spacing:-0.90px" xml:space="preserve" stroke="#000" stroke-width="0.10"> </text>
<rect x="31.20" y="-1.25" width="3.79" height="0.75" fill="#1a1a1a"/>
<rect x="31.20" y="-2.77" width="3.79" height="0.75" fill="#1a1a1a"/>
<text x="35.35" y="0.00" font-size="8.00" style="word-spacing:-0.90px" xml:space="preserve" stroke="#000" stroke-width="0.10"> N</text>
<text x="42.23" y="1.76" font-size="4.40" style="word-spacing:-0.90px" xml:space="preserve" stroke="#000" stroke-width="0.20">R</text>
<text x="45.17" y="0.00" font-size="8.00" style="word-spacing:-0.90px" xml:space="preserve" stroke="#000" stroke-width="0.10"> </text>
<rect x="46.63" y="-1.25" width="3.79" height="0.75" fill="#1a1a1a"/>
<rect x="46.63" y="-2.77" width="3.79" height="0.75" fill="#1a1a1a"/>
<text x="50.78" y="0.00" font-size="8.00" style="word-spacing:-0.90px" xml:space="preserve" stroke="#000" stroke-width="0.10"> 1</text>
</g>
<rect x="119.70" y="142.40" width="70.50" height="12.10" fill="#bc8f8f" stroke="#000" stroke-width="1.25"/>
<g transform="translate(121.70 150.00) scale(1.0972 1)" fill="#000">
<text x="0.00" y="0.00" font-size="8.00" style="word-spacing:-0.90px" xml:space="preserve" stroke="#000" stroke-width="0.10">N</text>
<text x="5.78" y="1.76" font-size="4.40" style="word-spacing:-0.90px" xml:space="preserve" stroke="#000" stroke-width="0.20">I</text>
<text x="7.24" y="0.00" font-size="8.00" style="word-spacing:-0.90px" xml:space="preserve" stroke="#000" stroke-width="0.10"> </text>
<rect x="8.70" y="-1.25" width="3.79" height="0.75" fill="#1a1a1a"/>
<rect x="8.70" y="-2.77" width="3.79" height="0.75" fill="#1a1a1a"/>
<text x="12.85" y="0.00" font-size="8.00" style="word-spacing:-0.90px" xml:space="preserve" stroke="#000" stroke-width="0.10"> 10; N</text>
<text x="31.05" y="1.76" font-size="4.40" style="word-spacing:-0.90px" xml:space="preserve" stroke="#000" stroke-width="0.20">L</text>
<text x="33.74" y="0.00" font-size="8.00" style="word-spacing:-0.90px" xml:space="preserve" stroke="#000" stroke-width="0.10"> </text>
<rect x="35.20" y="-1.25" width="3.79" height="0.75" fill="#1a1a1a"/>
<rect x="35.20" y="-2.77" width="3.79" height="0.75" fill="#1a1a1a"/>
<text x="39.35" y="0.00" font-size="8.00" style="word-spacing:-0.90px" xml:space="preserve" stroke="#000" stroke-width="0.10"> N</text>
<text x="46.23" y="1.76" font-size="4.40" style="word-spacing:-0.90px" xml:space="preserve" stroke="#000" stroke-width="0.20">R</text>
<text x="49.17" y="0.00" font-size="8.00" style="word-spacing:-0.90px" xml:space="preserve" stroke="#000" stroke-width="0.10"> </text>
<rect x="50.63" y="-1.25" width="3.79" height="0.75" fill="#1a1a1a"/>
<rect x="50.63" y="-2.77" width="3.79" height="0.75" fill="#1a1a1a"/>
<text x="54.78" y="0.00" font-size="8.00" style="word-spacing:-0.90px" xml:space="preserve" stroke="#000" stroke-width="0.10"> 1</text>
</g>
<rect x="206.40" y="142.40" width="76.30" height="12.10" fill="#bc8f8f" stroke="#000" stroke-width="1.25"/>
<g transform="translate(208.65 150.00) scale(1.1115 1)" fill="#000">
<text x="0.00" y="0.00" font-size="8.00" style="word-spacing:-0.90px" xml:space="preserve" stroke="#000" stroke-width="0.10">N</text>
<text x="5.78" y="1.76" font-size="4.40" style="word-spacing:-0.90px" xml:space="preserve" stroke="#000" stroke-width="0.20">I</text>
<text x="7.24" y="0.00" font-size="8.00" style="word-spacing:-0.90px" xml:space="preserve" stroke="#000" stroke-width="0.10"> </text>
<rect x="8.70" y="-1.25" width="3.79" height="0.75" fill="#1a1a1a"/>
<rect x="8.70" y="-2.77" width="3.79" height="0.75" fill="#1a1a1a"/>
<text x="12.85" y="0.00" font-size="8.00" style="word-spacing:-0.90px" xml:space="preserve" stroke="#000" stroke-width="0.10"> 10; N</text>
<text x="31.05" y="1.76" font-size="4.40" style="word-spacing:-0.90px" xml:space="preserve" stroke="#000" stroke-width="0.20">L</text>
<text x="33.74" y="0.00" font-size="8.00" style="word-spacing:-0.90px" xml:space="preserve" stroke="#000" stroke-width="0.10"> </text>
<rect x="35.20" y="-1.25" width="3.79" height="0.75" fill="#1a1a1a"/>
<rect x="35.20" y="-2.77" width="3.79" height="0.75" fill="#1a1a1a"/>
<text x="39.35" y="0.00" font-size="8.00" style="word-spacing:-0.90px" xml:space="preserve" stroke="#000" stroke-width="0.10"> N</text>
<text x="46.23" y="1.76" font-size="4.40" style="word-spacing:-0.90px" xml:space="preserve" stroke="#000" stroke-width="0.20">R</text>
<text x="49.17" y="0.00" font-size="8.00" style="word-spacing:-0.90px" xml:space="preserve" stroke="#000" stroke-width="0.10"> </text>
<rect x="50.63" y="-1.25" width="3.79" height="0.75" fill="#1a1a1a"/>
<rect x="50.63" y="-2.77" width="3.79" height="0.75" fill="#1a1a1a"/>
<text x="54.78" y="0.00" font-size="8.00" style="word-spacing:-0.90px" xml:space="preserve" stroke="#000" stroke-width="0.10"> 10</text>
</g>
<rect x="289.65" y="142.40" width="79.75" height="11.80" fill="#bc8f8f" stroke="#000" stroke-width="1.25"/>
<g transform="translate(291.57 149.80) scale(1.1537 1)" fill="#000">
<text x="0.00" y="0.00" font-size="7.70" style="word-spacing:-0.90px" xml:space="preserve" stroke="#000" stroke-width="0.10">N</text>
<text x="5.56" y="1.69" font-size="4.24" style="word-spacing:-0.90px" xml:space="preserve" stroke="#000" stroke-width="0.20">I</text>
<text x="6.97" y="0.00" font-size="7.70" style="word-spacing:-0.90px" xml:space="preserve" stroke="#000" stroke-width="0.10"> </text>
<rect x="8.34" y="-1.22" width="3.65" height="0.75" fill="#1a1a1a"/>
<rect x="8.34" y="-2.69" width="3.65" height="0.75" fill="#1a1a1a"/>
<text x="12.34" y="0.00" font-size="7.70" style="word-spacing:-0.90px" xml:space="preserve" stroke="#000" stroke-width="0.10"> 10; N</text>
<text x="29.79" y="1.69" font-size="4.24" style="word-spacing:-0.90px" xml:space="preserve" stroke="#000" stroke-width="0.20">L</text>
<text x="32.38" y="0.00" font-size="7.70" style="word-spacing:-0.90px" xml:space="preserve" stroke="#000" stroke-width="0.10"> </text>
<rect x="33.75" y="-1.22" width="3.65" height="0.75" fill="#1a1a1a"/>
<rect x="33.75" y="-2.69" width="3.65" height="0.75" fill="#1a1a1a"/>
<text x="37.74" y="0.00" font-size="7.70" style="word-spacing:-0.90px" xml:space="preserve" stroke="#000" stroke-width="0.10"> N</text>
<text x="44.33" y="1.69" font-size="4.24" style="word-spacing:-0.90px" xml:space="preserve" stroke="#000" stroke-width="0.20">R</text>
<text x="47.15" y="0.00" font-size="7.70" style="word-spacing:-0.90px" xml:space="preserve" stroke="#000" stroke-width="0.10"> </text>
<rect x="48.53" y="-1.22" width="3.65" height="0.75" fill="#1a1a1a"/>
<rect x="48.53" y="-2.69" width="3.65" height="0.75" fill="#1a1a1a"/>
<text x="52.52" y="0.00" font-size="7.70" style="word-spacing:-0.90px" xml:space="preserve" stroke="#000" stroke-width="0.10"> 100</text>
</g>
<text transform="translate(19.90 10.20) scale(0.840 1)" font-size="15.50" text-anchor="end" fill="#000">3</text>
<text transform="translate(19.90 32.55) scale(0.840 1)" font-size="15.50" text-anchor="end" fill="#000">2.5</text>
<text transform="translate(19.90 54.90) scale(0.840 1)" font-size="15.50" text-anchor="end" fill="#000">2</text>
<text transform="translate(19.90 233.70) scale(0.840 1)" font-size="15.50" text-anchor="end" fill="#000">1</text>
<text transform="translate(19.90 256.05) scale(0.840 1)" font-size="15.50" text-anchor="end" fill="#000">0.5</text>
<text transform="translate(19.90 278.40) scale(0.840 1)" font-size="15.50" text-anchor="end" fill="#000">0</text>
<text transform="translate(25.00 285.90) scale(0.840 1)" font-size="15.50" text-anchor="middle" fill="#000">0</text>
<text transform="translate(67.20 285.90) scale(0.840 1)" font-size="15.50" text-anchor="middle" fill="#000">0.5</text>
<text transform="translate(113.30 285.90) scale(0.840 1)" font-size="15.50" text-anchor="middle" fill="#000">0</text>
<text transform="translate(155.50 285.90) scale(0.840 1)" font-size="15.50" text-anchor="middle" fill="#000">0.5</text>
<text transform="translate(201.70 285.90) scale(0.840 1)" font-size="15.50" text-anchor="middle" fill="#000">0</text>
<text transform="translate(244.00 285.90) scale(0.840 1)" font-size="15.50" text-anchor="middle" fill="#000">0.5</text>
<text transform="translate(290.00 285.90) scale(0.840 1)" font-size="15.50" text-anchor="middle" fill="#000">0</text>
<text transform="translate(329.50 285.90) scale(0.840 1)" font-size="15.50" text-anchor="middle" fill="#000">0.5</text>
<text transform="translate(371.00 285.90) scale(0.840 1)" font-size="15.50" text-anchor="middle" fill="#000">1</text>
<text transform="translate(65.80 132.50) scale(1.000 1)" font-size="8.40" text-anchor="middle" fill="#000">canonical</text>
<text transform="translate(329.10 132.50) scale(1.000 1)" font-size="8.40" text-anchor="middle" fill="#000">gcg ensemble</text>
<text transform="translate(67.35 266.80) scale(1.000 1)" font-size="8.40" text-anchor="middle" fill="#000">ggg ensemble</text>
<text transform="translate(11.80 220.00) rotate(-90)" font-size="15.00" text-anchor="start" textLength="157.50" lengthAdjust="spacingAndGlyphs" fill="#000">density per particle &#961;<tspan dy="-6.00" font-size="9.00">(&#957;)</tspan><tspan dy="6.00" font-size="15.00" font-style="italic">l</tspan>/N<tspan dy="3.30" font-size="9.00">&#957;</tspan></text>
<text x="166.30" y="300.20" font-size="15.00" text-anchor="start" textLength="66.70" lengthAdjust="spacingAndGlyphs" fill="#000">position x/<tspan font-style="italic">l</tspan></text>
</svg>
</body></html>
